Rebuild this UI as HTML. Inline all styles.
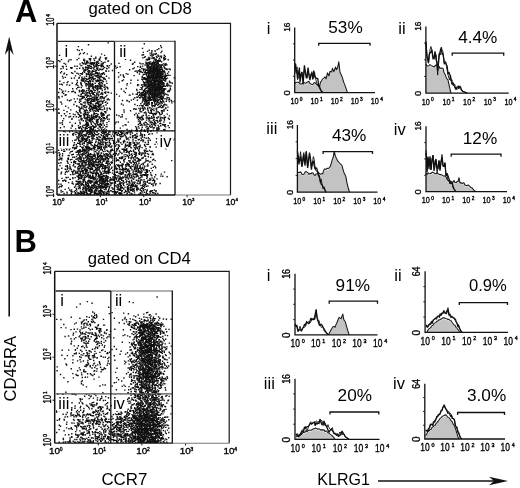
<!DOCTYPE html><html><head><meta charset="utf-8"><style>html,body{margin:0;padding:0;background:#fff;}svg{display:block;will-change:transform}body{overflow:hidden}</style></head><body><svg width="520" height="488" viewBox="0 0 520 488"><rect width="520" height="488" fill="#fff"/><text x="14.90" y="22.40" font-size="30.8" text-anchor="start" font-weight="bold" font-family="Liberation Sans, sans-serif">A</text><text x="14.40" y="251.60" font-size="31" text-anchor="start" font-weight="bold" font-family="Liberation Sans, sans-serif">B</text><text x="88.40" y="13.50" font-size="16.2" text-anchor="start" font-weight="normal" textLength="103.5" lengthAdjust="spacingAndGlyphs" font-family="Liberation Sans, sans-serif">gated on CD8</text><text x="87.80" y="264.30" font-size="16.2" text-anchor="start" font-weight="normal" textLength="103.0" lengthAdjust="spacingAndGlyphs" font-family="Liberation Sans, sans-serif">gated on CD4</text><text x="101.40" y="485.00" font-size="17" text-anchor="start" font-weight="normal" textLength="46.0" lengthAdjust="spacingAndGlyphs" font-family="Liberation Sans, sans-serif">CCR7</text><text x="317.30" y="485.00" font-size="16.2" text-anchor="start" font-weight="normal" textLength="52.5" lengthAdjust="spacingAndGlyphs" font-family="Liberation Sans, sans-serif">KLRG1</text><text transform="translate(16 401.5) rotate(-90)" font-size="16.8" textLength="65.5" lengthAdjust="spacingAndGlyphs" font-family="Liberation Sans, sans-serif">CD45RA</text><path d="M9.2 316.5V42" stroke="#111" stroke-width="1.6"/><path d="M9.2 36.5 L4.8 55 L9.2 49 L13.6 55Z" fill="#111"/><path d="M378 480.9H500" stroke="#111" stroke-width="1.5"/><path d="M508 480.9 L489 476.8 L494 480.9 L489 485.2Z" fill="#111"/><text x="52.21" y="204.80" font-size="9.00" textLength="9.66" lengthAdjust="spacingAndGlyphs" stroke="#000" stroke-width="0.35" font-family="Liberation Sans, sans-serif">10</text><text x="61.88" y="201.46" font-size="4.30" stroke="#000" stroke-width="0.35" font-family="Liberation Sans, sans-serif">0</text><g transform="translate(53.80 196.90) rotate(-90)"><text x="-0.60" y="0.00" font-size="10.50" textLength="8.31" lengthAdjust="spacingAndGlyphs" stroke="#000" stroke-width="0.35" font-family="Liberation Sans, sans-serif">10</text><text x="8.37" y="-4.19" font-size="4.60" stroke="#000" stroke-width="0.35" font-family="Liberation Sans, sans-serif">0</text></g><text x="95.58" y="204.80" font-size="9.00" textLength="9.66" lengthAdjust="spacingAndGlyphs" stroke="#000" stroke-width="0.35" font-family="Liberation Sans, sans-serif">10</text><text x="105.26" y="201.46" font-size="4.30" stroke="#000" stroke-width="0.35" font-family="Liberation Sans, sans-serif">1</text><g transform="translate(53.80 153.97) rotate(-90)"><text x="-0.60" y="0.00" font-size="10.50" textLength="8.31" lengthAdjust="spacingAndGlyphs" stroke="#000" stroke-width="0.35" font-family="Liberation Sans, sans-serif">10</text><text x="8.37" y="-4.19" font-size="4.60" stroke="#000" stroke-width="0.35" font-family="Liberation Sans, sans-serif">1</text></g><path d="M57.0 152.1h-2.2" stroke="#111" stroke-width="1"/><path d="M100.4 195.0v2.2" stroke="#111" stroke-width="1"/><text x="138.96" y="204.80" font-size="9.00" textLength="9.66" lengthAdjust="spacingAndGlyphs" stroke="#000" stroke-width="0.35" font-family="Liberation Sans, sans-serif">10</text><text x="148.63" y="201.46" font-size="4.30" stroke="#000" stroke-width="0.35" font-family="Liberation Sans, sans-serif">2</text><g transform="translate(53.80 111.05) rotate(-90)"><text x="-0.60" y="0.00" font-size="10.50" textLength="8.31" lengthAdjust="spacingAndGlyphs" stroke="#000" stroke-width="0.35" font-family="Liberation Sans, sans-serif">10</text><text x="8.37" y="-4.19" font-size="4.60" stroke="#000" stroke-width="0.35" font-family="Liberation Sans, sans-serif">2</text></g><path d="M57.0 109.2h-2.2" stroke="#111" stroke-width="1"/><path d="M143.8 195.0v2.2" stroke="#111" stroke-width="1"/><text x="182.33" y="204.80" font-size="9.00" textLength="9.66" lengthAdjust="spacingAndGlyphs" stroke="#000" stroke-width="0.35" font-family="Liberation Sans, sans-serif">10</text><text x="192.01" y="201.46" font-size="4.30" stroke="#000" stroke-width="0.35" font-family="Liberation Sans, sans-serif">3</text><g transform="translate(53.80 68.13) rotate(-90)"><text x="-0.60" y="0.00" font-size="10.50" textLength="8.31" lengthAdjust="spacingAndGlyphs" stroke="#000" stroke-width="0.35" font-family="Liberation Sans, sans-serif">10</text><text x="8.37" y="-4.19" font-size="4.60" stroke="#000" stroke-width="0.35" font-family="Liberation Sans, sans-serif">3</text></g><path d="M57.0 66.2h-2.2" stroke="#111" stroke-width="1"/><path d="M187.1 195.0v2.2" stroke="#111" stroke-width="1"/><text x="225.71" y="204.80" font-size="9.00" textLength="9.66" lengthAdjust="spacingAndGlyphs" stroke="#000" stroke-width="0.35" font-family="Liberation Sans, sans-serif">10</text><text x="235.38" y="201.46" font-size="4.30" stroke="#000" stroke-width="0.35" font-family="Liberation Sans, sans-serif">4</text><g transform="translate(53.80 25.20) rotate(-90)"><text x="-0.60" y="0.00" font-size="10.50" textLength="8.31" lengthAdjust="spacingAndGlyphs" stroke="#000" stroke-width="0.35" font-family="Liberation Sans, sans-serif">10</text><text x="8.37" y="-4.19" font-size="4.60" stroke="#000" stroke-width="0.35" font-family="Liberation Sans, sans-serif">4</text></g><path d="M107.5 42.9h1.4M143.6 43.7h1.4M87.8 44.7h1.4M160.0 45.8h1.4M77.7 46.6h1.4M160.8 47.5h1.4M141.8 48.4h1.4M158.1 48.8h1.4M76.7 49.7h1.4M81.3 49.8h1.4M156.5 49.6h1.4M78.5 50.5h1.4M148.5 50.3h1.4M151.2 50.8h1.4M154.3 50.9h1.4M146.8 51.4h1.4M151.2 51.6h1.4M154.6 51.0h1.4M161.1 51.2h1.4M83.7 52.6h1.4M142.6 52.4h1.4M160.3 52.6h1.4M79.7 53.4h1.4M82.8 53.6h1.4M86.6 53.9h1.4M118.8 53.4h1.4M149.4 53.1h1.4M151.0 53.1h1.4M155.2 53.9h1.4M155.6 53.5h1.4M60.9 54.9h1.4M78.8 54.5h1.4M100.9 54.1h1.4M141.5 55.0h1.4M142.8 54.8h1.4M151.3 54.4h1.4M153.2 54.0h1.4M154.7 54.4h1.4M58.8 55.4h1.4M103.9 55.4h1.4M149.7 55.1h1.4M150.6 55.9h1.4M152.5 55.4h1.4M157.3 55.2h1.4M163.6 55.3h1.4M90.7 56.3h1.4M144.5 56.6h1.4M151.8 56.0h1.4M155.7 56.5h1.4M158.1 56.3h1.4M159.9 56.1h1.4M160.8 56.3h1.4M164.5 56.5h1.4M61.5 57.8h1.4M66.4 57.3h1.4M95.1 57.1h1.4M99.7 57.3h1.4M104.7 58.0h1.4M105.9 58.0h1.4M142.2 57.8h1.4M144.0 57.4h1.4M148.1 57.4h1.4M152.6 57.7h1.4M153.4 57.8h1.4M156.4 57.3h1.4M160.7 57.5h1.4M163.2 57.5h1.4M163.7 57.4h1.4M78.1 58.4h1.4M88.6 58.8h1.4M90.0 58.6h1.4M93.3 58.8h1.4M95.1 58.2h1.4M99.1 58.6h1.4M148.2 58.7h1.4M149.2 58.1h1.4M151.3 58.3h1.4M153.0 58.1h1.4M153.9 59.0h1.4M158.8 58.2h1.4M163.0 58.4h1.4M164.8 58.6h1.4M60.8 59.6h1.4M68.4 59.9h1.4M70.3 59.8h1.4M76.4 59.8h1.4M83.1 59.3h1.4M89.2 59.2h1.4M89.6 59.5h1.4M98.5 59.3h1.4M105.1 59.2h1.4M124.8 59.4h1.4M145.6 59.9h1.4M146.5 59.3h1.4M147.6 59.2h1.4M148.8 59.5h1.4M153.5 59.1h1.4M155.1 59.9h1.4M155.5 59.3h1.4M158.1 60.0h1.4M163.2 60.0h1.4M164.1 59.4h1.4M164.5 59.2h1.4M167.5 59.8h1.4M58.0 60.6h1.4M83.2 60.3h1.4M84.0 60.3h1.4M89.8 60.3h1.4M93.8 60.5h1.4M99.1 60.2h1.4M129.8 60.3h1.4M147.0 60.1h1.4M154.7 60.4h1.4M155.5 60.8h1.4M157.0 60.8h1.4M159.6 60.2h1.4M59.2 61.5h1.4M67.7 61.5h1.4M83.8 62.0h1.4M86.1 61.1h1.4M86.9 61.3h1.4M95.8 62.0h1.4M97.4 61.3h1.4M100.7 61.6h1.4M107.0 61.1h1.4M107.8 61.0h1.4M150.0 61.9h1.4M153.0 61.2h1.4M155.3 61.3h1.4M156.7 61.8h1.4M157.9 61.2h1.4M159.3 61.2h1.4M160.9 61.8h1.4M81.6 62.7h1.4M85.7 62.5h1.4M86.7 62.7h1.4M87.6 62.9h1.4M89.5 62.1h1.4M91.1 62.7h1.4M91.8 62.7h1.4M93.1 62.9h1.4M94.0 62.7h1.4M96.8 62.3h1.4M102.5 62.6h1.4M104.3 62.3h1.4M134.0 62.2h1.4M145.3 62.3h1.4M147.4 62.8h1.4M148.8 62.3h1.4M152.0 62.7h1.4M152.7 62.4h1.4M153.8 62.5h1.4M155.1 62.9h1.4M155.3 62.3h1.4M157.1 62.6h1.4M157.5 62.9h1.4M63.4 63.4h1.4M82.5 63.7h1.4M83.4 63.8h1.4M85.3 63.6h1.4M85.9 63.3h1.4M89.3 63.8h1.4M90.5 63.0h1.4M91.8 64.0h1.4M92.6 63.8h1.4M93.9 63.6h1.4M95.9 63.4h1.4M98.0 63.2h1.4M100.6 63.9h1.4M102.5 63.2h1.4M118.3 63.4h1.4M132.5 63.5h1.4M139.1 63.1h1.4M140.3 63.9h1.4M142.3 63.8h1.4M145.4 63.3h1.4M146.4 63.2h1.4M148.5 63.5h1.4M149.4 63.6h1.4M150.7 63.5h1.4M151.9 63.2h1.4M152.3 63.9h1.4M153.7 63.5h1.4M155.7 63.7h1.4M157.0 63.9h1.4M157.6 63.3h1.4M162.7 63.9h1.4M165.3 63.7h1.4M64.9 64.3h1.4M79.3 64.0h1.4M85.0 64.2h1.4M90.7 64.3h1.4M95.1 65.0h1.4M95.9 64.2h1.4M96.7 64.2h1.4M101.4 64.0h1.4M110.5 64.0h1.4M131.8 64.3h1.4M146.2 64.5h1.4M146.8 64.4h1.4M148.7 64.1h1.4M149.5 64.1h1.4M150.9 64.8h1.4M151.6 64.4h1.4M152.5 64.0h1.4M153.8 64.1h1.4M155.2 64.7h1.4M156.0 64.2h1.4M156.9 64.1h1.4M158.4 64.8h1.4M159.3 64.7h1.4M161.2 64.8h1.4M161.3 64.6h1.4M164.2 64.2h1.4M166.2 64.9h1.4M80.3 65.6h1.4M81.0 65.6h1.4M86.9 65.4h1.4M87.7 65.6h1.4M88.7 65.8h1.4M92.9 65.3h1.4M93.4 65.8h1.4M95.7 65.1h1.4M96.9 65.9h1.4M97.6 65.8h1.4M99.2 65.4h1.4M100.6 65.4h1.4M102.0 65.0h1.4M106.4 65.8h1.4M108.8 65.6h1.4M144.4 65.0h1.4M146.3 65.3h1.4M146.8 65.6h1.4M148.1 65.3h1.4M150.8 65.1h1.4M151.4 65.3h1.4M152.9 65.7h1.4M153.8 65.2h1.4M155.0 65.1h1.4M155.8 65.6h1.4M157.3 65.8h1.4M157.5 65.8h1.4M160.1 65.8h1.4M161.4 65.2h1.4M163.2 65.9h1.4M164.7 65.2h1.4M61.7 66.4h1.4M62.4 66.4h1.4M65.6 66.4h1.4M74.1 66.2h1.4M76.5 66.3h1.4M85.1 66.9h1.4M89.3 66.2h1.4M90.6 66.4h1.4M94.2 66.9h1.4M95.6 66.3h1.4M100.5 66.7h1.4M101.5 66.1h1.4M102.7 66.5h1.4M107.0 66.3h1.4M114.8 66.0h1.4M119.4 66.8h1.4M137.1 66.6h1.4M139.8 66.4h1.4M141.9 66.1h1.4M146.2 66.0h1.4M147.0 66.9h1.4M148.4 66.7h1.4M149.4 66.9h1.4M150.3 66.5h1.4M151.4 66.9h1.4M152.7 66.3h1.4M153.6 66.4h1.4M154.9 66.9h1.4M156.1 66.2h1.4M156.9 66.6h1.4M158.3 66.1h1.4M160.0 66.8h1.4M160.5 66.2h1.4M163.4 67.0h1.4M70.0 67.8h1.4M71.4 67.7h1.4M82.2 67.7h1.4M84.8 67.7h1.4M86.3 67.4h1.4M87.5 67.2h1.4M89.0 67.9h1.4M91.2 67.6h1.4M93.6 67.1h1.4M96.0 67.9h1.4M103.9 67.6h1.4M108.1 67.6h1.4M116.6 67.4h1.4M133.6 67.9h1.4M139.6 67.3h1.4M146.4 67.7h1.4M149.5 67.6h1.4M150.9 67.1h1.4M151.6 68.0h1.4M153.0 67.3h1.4M153.9 67.3h1.4M155.3 67.9h1.4M156.1 67.1h1.4M156.4 67.9h1.4M157.8 67.0h1.4M159.2 67.8h1.4M159.7 67.0h1.4M160.3 67.5h1.4M164.0 67.7h1.4M60.3 68.8h1.4M62.5 68.0h1.4M70.8 68.4h1.4M76.3 68.6h1.4M79.0 68.2h1.4M82.5 69.0h1.4M86.7 68.9h1.4M87.6 68.0h1.4M89.4 68.4h1.4M90.7 68.6h1.4M92.8 68.1h1.4M96.1 68.2h1.4M97.1 68.0h1.4M102.5 68.5h1.4M106.0 68.4h1.4M106.4 68.9h1.4M115.4 68.1h1.4M132.2 68.7h1.4M141.1 68.5h1.4M142.7 68.9h1.4M147.9 68.1h1.4M149.3 68.5h1.4M149.9 68.1h1.4M150.4 68.4h1.4M152.2 68.5h1.4M153.1 68.6h1.4M153.8 68.1h1.4M154.7 68.1h1.4M156.2 68.6h1.4M157.1 68.6h1.4M157.3 68.2h1.4M159.2 68.6h1.4M159.3 68.6h1.4M161.2 68.2h1.4M161.3 68.0h1.4M164.3 68.6h1.4M165.9 68.9h1.4M65.9 69.2h1.4M83.9 69.9h1.4M85.3 69.4h1.4M87.1 69.5h1.4M93.4 69.4h1.4M96.9 69.5h1.4M99.1 69.1h1.4M99.6 69.2h1.4M100.4 69.5h1.4M101.9 69.6h1.4M128.9 69.7h1.4M139.0 69.7h1.4M142.8 69.4h1.4M144.2 69.2h1.4M145.8 70.0h1.4M147.2 69.0h1.4M148.7 69.6h1.4M149.5 69.4h1.4M150.4 69.5h1.4M152.1 69.6h1.4M152.9 69.3h1.4M153.3 69.6h1.4M154.5 69.2h1.4M155.9 69.3h1.4M157.1 69.8h1.4M157.8 69.3h1.4M158.7 69.7h1.4M159.6 69.9h1.4M160.7 69.6h1.4M161.8 69.6h1.4M165.3 69.0h1.4M166.1 69.3h1.4M166.5 69.5h1.4M168.5 69.0h1.4M169.6 69.5h1.4M84.4 70.6h1.4M85.3 70.1h1.4M87.6 70.8h1.4M88.4 70.7h1.4M91.8 70.7h1.4M95.1 70.1h1.4M95.8 70.2h1.4M98.2 70.4h1.4M105.0 70.9h1.4M111.8 70.5h1.4M136.2 71.0h1.4M138.0 70.7h1.4M139.1 70.1h1.4M142.8 70.8h1.4M145.4 70.2h1.4M146.9 70.5h1.4M147.9 70.6h1.4M149.1 70.5h1.4M150.3 70.8h1.4M150.9 70.2h1.4M151.5 70.6h1.4M152.7 70.2h1.4M154.2 70.3h1.4M154.7 70.6h1.4M156.1 70.7h1.4M156.7 70.7h1.4M157.7 70.6h1.4M158.3 70.3h1.4M159.4 70.9h1.4M162.3 70.9h1.4M163.6 70.9h1.4M60.9 71.6h1.4M74.2 71.5h1.4M82.9 71.1h1.4M83.4 71.0h1.4M87.2 71.6h1.4M89.2 71.3h1.4M91.3 71.7h1.4M92.0 71.2h1.4M92.7 71.3h1.4M93.5 71.4h1.4M95.1 71.4h1.4M105.7 71.3h1.4M108.1 71.1h1.4M134.5 71.3h1.4M138.8 71.8h1.4M139.4 71.7h1.4M140.4 71.5h1.4M144.7 71.0h1.4M147.1 71.1h1.4M147.8 71.2h1.4M149.2 71.9h1.4M150.0 71.6h1.4M150.9 71.4h1.4M151.6 71.1h1.4M152.6 71.8h1.4M153.7 71.0h1.4M153.3 72.0h1.4M154.8 71.9h1.4M155.4 71.4h1.4M157.0 71.3h1.4M157.8 71.4h1.4M158.5 71.7h1.4M160.3 71.6h1.4M161.3 71.4h1.4M162.1 71.0h1.4M162.6 71.6h1.4M168.0 71.9h1.4M59.9 72.8h1.4M70.9 72.7h1.4M82.0 72.7h1.4M84.0 72.2h1.4M87.7 72.7h1.4M88.3 72.4h1.4M91.4 72.8h1.4M95.1 72.0h1.4M95.6 73.0h1.4M96.5 72.7h1.4M98.4 72.9h1.4M103.0 72.6h1.4M117.9 72.6h1.4M136.6 72.5h1.4M140.8 72.1h1.4M141.9 72.6h1.4M143.9 72.5h1.4M144.5 72.2h1.4M145.7 72.6h1.4M146.6 72.6h1.4M148.0 72.2h1.4M149.0 72.8h1.4M150.3 72.8h1.4M150.9 72.1h1.4M152.0 72.4h1.4M152.8 72.3h1.4M153.4 72.9h1.4M155.3 72.4h1.4M156.3 72.1h1.4M156.3 72.9h1.4M157.4 72.1h1.4M158.1 72.9h1.4M158.8 72.1h1.4M160.1 72.6h1.4M160.4 72.1h1.4M161.6 73.0h1.4M163.1 72.1h1.4M164.2 72.2h1.4M63.8 73.1h1.4M72.1 73.4h1.4M76.2 73.2h1.4M77.8 74.0h1.4M79.8 73.6h1.4M80.5 73.6h1.4M81.3 73.7h1.4M85.6 73.6h1.4M89.5 73.1h1.4M90.9 73.1h1.4M94.3 73.6h1.4M94.7 73.4h1.4M95.4 73.2h1.4M96.7 73.5h1.4M98.2 73.9h1.4M101.1 73.8h1.4M102.0 73.4h1.4M102.7 73.1h1.4M125.5 73.6h1.4M145.5 73.2h1.4M147.2 73.2h1.4M148.2 73.7h1.4M149.2 73.9h1.4M149.3 73.3h1.4M150.1 73.3h1.4M151.1 74.0h1.4M152.0 74.0h1.4M152.4 73.2h1.4M153.6 73.1h1.4M154.0 73.8h1.4M154.8 74.0h1.4M156.1 73.0h1.4M157.0 73.3h1.4M157.4 73.1h1.4M158.4 73.2h1.4M159.9 73.7h1.4M159.5 73.6h1.4M160.4 73.1h1.4M161.7 73.3h1.4M162.4 73.6h1.4M166.9 73.4h1.4M63.2 74.1h1.4M66.1 74.7h1.4M81.5 74.4h1.4M85.9 74.3h1.4M87.0 74.1h1.4M87.6 74.3h1.4M88.5 74.6h1.4M89.5 74.3h1.4M91.1 74.7h1.4M92.5 74.3h1.4M97.3 74.3h1.4M99.7 74.1h1.4M101.6 74.2h1.4M103.7 74.2h1.4M122.5 75.0h1.4M127.2 74.3h1.4M138.7 74.0h1.4M142.6 74.8h1.4M143.4 74.4h1.4M144.4 74.4h1.4M146.0 74.4h1.4M148.1 74.1h1.4M148.5 74.8h1.4M150.2 75.0h1.4M151.0 74.6h1.4M152.1 74.8h1.4M152.9 74.7h1.4M154.2 74.8h1.4M154.7 74.8h1.4M156.0 74.5h1.4M157.2 74.2h1.4M157.8 74.8h1.4M159.2 75.0h1.4M159.4 74.4h1.4M161.2 74.4h1.4M161.8 74.3h1.4M164.5 74.0h1.4M74.8 75.9h1.4M79.4 75.6h1.4M85.7 76.0h1.4M89.4 75.3h1.4M90.9 75.7h1.4M93.5 75.1h1.4M95.2 75.5h1.4M96.7 75.8h1.4M98.0 75.6h1.4M99.7 76.0h1.4M100.6 76.0h1.4M119.8 75.0h1.4M133.4 75.6h1.4M145.9 75.9h1.4M146.3 75.4h1.4M148.0 75.5h1.4M148.5 75.7h1.4M150.2 75.4h1.4M150.6 75.3h1.4M152.1 75.6h1.4M152.6 75.4h1.4M154.3 75.9h1.4M155.1 75.5h1.4M156.1 75.2h1.4M156.0 75.8h1.4M157.2 75.8h1.4M158.0 75.6h1.4M158.5 75.8h1.4M160.0 75.5h1.4M160.7 75.2h1.4M162.2 75.0h1.4M164.0 75.9h1.4M164.9 75.4h1.4M166.1 75.5h1.4M167.5 75.2h1.4M169.3 75.4h1.4M61.8 76.4h1.4M85.9 76.4h1.4M88.7 76.3h1.4M92.3 76.8h1.4M94.7 76.1h1.4M95.8 76.5h1.4M98.5 76.7h1.4M105.8 76.3h1.4M122.8 76.3h1.4M141.5 76.4h1.4M146.9 76.4h1.4M148.1 76.2h1.4M148.7 76.7h1.4M149.8 76.6h1.4M150.8 76.4h1.4M151.4 76.5h1.4M152.5 76.3h1.4M153.9 76.9h1.4M155.1 76.4h1.4M155.5 76.8h1.4M156.4 76.9h1.4M157.9 76.3h1.4M158.8 76.5h1.4M160.1 76.7h1.4M160.8 76.6h1.4M161.8 76.7h1.4M163.3 76.3h1.4M163.8 77.0h1.4M164.6 76.6h1.4M165.6 76.1h1.4M62.5 78.0h1.4M64.6 77.4h1.4M78.6 77.4h1.4M81.2 77.3h1.4M83.7 77.1h1.4M88.8 77.7h1.4M90.2 77.5h1.4M91.7 77.7h1.4M97.0 77.5h1.4M98.2 77.8h1.4M100.1 77.0h1.4M101.8 77.4h1.4M117.9 77.0h1.4M123.4 77.2h1.4M141.6 77.3h1.4M143.1 77.6h1.4M144.0 77.9h1.4M144.3 77.6h1.4M146.8 77.4h1.4M148.2 77.6h1.4M149.2 77.8h1.4M149.6 78.0h1.4M150.8 77.4h1.4M152.2 77.5h1.4M153.2 77.5h1.4M154.2 77.6h1.4M154.8 77.3h1.4M155.4 77.4h1.4M156.0 77.1h1.4M156.6 77.3h1.4M158.0 77.3h1.4M158.4 77.9h1.4M159.9 77.4h1.4M160.8 77.6h1.4M161.9 77.6h1.4M164.2 77.9h1.4M164.7 78.0h1.4M173.6 77.8h1.4M70.8 78.2h1.4M73.7 78.0h1.4M78.2 78.3h1.4M81.5 78.7h1.4M82.7 78.9h1.4M83.5 78.7h1.4M85.1 78.4h1.4M87.8 78.4h1.4M89.2 78.3h1.4M91.3 79.0h1.4M93.0 78.5h1.4M94.5 78.8h1.4M98.8 78.3h1.4M102.7 78.1h1.4M103.5 78.0h1.4M108.3 78.1h1.4M143.0 78.9h1.4M144.0 78.7h1.4M145.1 78.5h1.4M145.8 78.8h1.4M146.8 78.8h1.4M148.2 78.4h1.4M148.9 78.3h1.4M150.2 79.0h1.4M151.0 78.9h1.4M152.1 78.0h1.4M153.2 78.6h1.4M153.8 78.6h1.4M154.4 78.4h1.4M155.5 78.2h1.4M156.7 78.3h1.4M158.2 79.0h1.4M158.4 78.9h1.4M159.7 78.0h1.4M161.2 78.2h1.4M161.3 78.3h1.4M163.1 78.8h1.4M164.5 78.4h1.4M165.5 78.8h1.4M166.8 78.1h1.4M81.0 79.5h1.4M83.2 80.0h1.4M85.6 79.3h1.4M86.7 79.4h1.4M87.4 79.1h1.4M90.7 79.4h1.4M93.0 79.9h1.4M99.4 79.5h1.4M103.1 79.0h1.4M104.6 79.2h1.4M122.8 79.9h1.4M141.0 79.1h1.4M142.2 79.2h1.4M144.1 79.4h1.4M145.0 79.7h1.4M146.0 79.2h1.4M147.1 79.2h1.4M147.4 79.6h1.4M149.3 79.4h1.4M149.6 79.1h1.4M150.5 79.1h1.4M151.6 79.3h1.4M152.9 79.1h1.4M153.6 79.7h1.4M154.4 79.9h1.4M155.7 79.6h1.4M156.3 79.5h1.4M158.3 79.5h1.4M158.3 79.7h1.4M159.3 79.1h1.4M160.6 79.9h1.4M162.2 79.0h1.4M162.5 79.2h1.4M163.3 80.0h1.4M165.0 79.4h1.4M76.5 80.5h1.4M80.7 80.2h1.4M81.8 80.7h1.4M82.5 80.5h1.4M85.0 80.6h1.4M88.8 80.3h1.4M89.4 80.7h1.4M91.5 81.0h1.4M95.2 80.7h1.4M96.7 80.0h1.4M98.1 80.1h1.4M98.6 81.0h1.4M99.7 80.5h1.4M100.9 80.1h1.4M101.6 81.0h1.4M121.6 80.8h1.4M130.3 80.2h1.4M137.2 80.3h1.4M141.9 80.1h1.4M146.3 80.8h1.4M146.7 80.0h1.4M147.4 80.0h1.4M148.7 80.2h1.4M148.5 80.4h1.4M149.6 80.9h1.4M150.5 80.7h1.4M151.8 80.3h1.4M153.1 80.8h1.4M153.4 80.8h1.4M155.0 80.8h1.4M155.5 80.1h1.4M157.0 80.2h1.4M157.7 80.6h1.4M159.1 80.1h1.4M159.4 80.8h1.4M161.0 80.6h1.4M161.7 80.9h1.4M163.2 80.4h1.4M164.1 80.8h1.4M165.0 81.0h1.4M59.1 81.2h1.4M67.3 81.6h1.4M81.6 81.1h1.4M83.2 81.4h1.4M85.3 81.0h1.4M86.6 81.5h1.4M88.0 81.6h1.4M89.6 81.3h1.4M91.4 81.1h1.4M92.4 81.6h1.4M95.9 81.5h1.4M97.1 81.3h1.4M97.3 81.2h1.4M102.7 81.5h1.4M105.7 81.1h1.4M142.8 81.7h1.4M146.2 82.0h1.4M147.1 81.2h1.4M147.5 81.5h1.4M149.2 81.8h1.4M148.3 82.0h1.4M150.1 81.9h1.4M151.2 81.9h1.4M151.3 81.9h1.4M153.0 81.4h1.4M154.2 81.5h1.4M154.4 81.2h1.4M156.2 81.3h1.4M157.2 81.2h1.4M157.4 81.1h1.4M158.5 81.8h1.4M160.0 81.7h1.4M160.4 81.7h1.4M160.4 81.3h1.4M161.5 81.2h1.4M168.8 81.2h1.4M63.2 82.6h1.4M66.5 82.6h1.4M76.7 82.4h1.4M80.2 82.5h1.4M84.1 82.5h1.4M88.0 83.0h1.4M89.6 82.0h1.4M98.8 82.6h1.4M99.9 82.9h1.4M101.0 82.7h1.4M118.4 82.1h1.4M143.3 82.9h1.4M144.3 82.6h1.4M144.8 82.3h1.4M146.4 82.9h1.4M147.5 82.7h1.4M148.7 82.1h1.4M149.4 82.9h1.4M151.1 82.2h1.4M152.1 82.9h1.4M153.3 82.5h1.4M154.3 82.1h1.4M154.3 82.2h1.4M155.7 82.0h1.4M156.6 82.1h1.4M157.9 82.0h1.4M159.2 82.2h1.4M159.4 82.5h1.4M160.5 82.5h1.4M160.3 82.3h1.4M161.6 82.7h1.4M162.9 82.6h1.4M169.1 82.5h1.4M170.0 82.5h1.4M71.5 83.2h1.4M76.0 83.7h1.4M80.1 83.9h1.4M80.7 84.0h1.4M85.2 83.8h1.4M86.2 83.8h1.4M88.5 83.8h1.4M89.6 83.8h1.4M91.7 83.7h1.4M94.5 83.2h1.4M98.0 83.6h1.4M101.8 83.7h1.4M106.2 83.4h1.4M126.5 83.6h1.4M129.9 83.1h1.4M144.1 83.6h1.4M146.4 83.5h1.4M148.1 83.9h1.4M149.2 84.0h1.4M149.7 83.4h1.4M151.2 83.4h1.4M152.3 83.5h1.4M152.3 83.8h1.4M153.9 83.1h1.4M154.6 83.5h1.4M155.6 83.9h1.4M157.1 83.8h1.4M157.8 83.3h1.4M158.2 83.1h1.4M159.2 83.3h1.4M159.4 83.4h1.4M161.2 83.8h1.4M162.8 83.3h1.4M163.5 84.0h1.4M166.3 83.7h1.4M166.9 83.2h1.4M171.6 83.3h1.4M59.2 84.3h1.4M61.1 84.2h1.4M61.7 84.9h1.4M66.2 84.8h1.4M75.4 84.8h1.4M80.7 84.8h1.4M85.2 84.6h1.4M86.9 84.7h1.4M90.1 84.3h1.4M91.7 84.9h1.4M92.5 84.5h1.4M98.8 84.3h1.4M99.8 85.0h1.4M103.8 85.0h1.4M137.0 84.7h1.4M137.9 84.9h1.4M141.4 84.8h1.4M143.2 84.4h1.4M144.1 84.3h1.4M144.3 84.3h1.4M145.8 84.6h1.4M146.3 84.9h1.4M148.0 84.9h1.4M148.5 84.2h1.4M150.3 84.2h1.4M150.7 84.3h1.4M151.8 84.1h1.4M153.1 84.2h1.4M153.7 85.0h1.4M155.0 84.2h1.4M156.2 84.0h1.4M157.1 84.6h1.4M157.9 84.5h1.4M158.7 84.6h1.4M160.2 84.3h1.4M160.8 84.1h1.4M162.2 84.4h1.4M167.9 85.0h1.4M68.8 85.2h1.4M77.1 85.4h1.4M81.5 85.9h1.4M85.5 85.9h1.4M88.2 85.3h1.4M89.1 85.9h1.4M90.3 85.2h1.4M90.8 85.6h1.4M94.7 85.7h1.4M96.7 85.5h1.4M97.8 85.9h1.4M99.1 85.9h1.4M100.4 85.5h1.4M104.1 85.2h1.4M126.2 85.1h1.4M136.9 85.6h1.4M140.9 85.2h1.4M143.5 85.7h1.4M145.2 85.3h1.4M147.3 85.9h1.4M147.7 85.5h1.4M148.9 85.7h1.4M150.1 85.4h1.4M150.9 85.1h1.4M152.0 85.7h1.4M152.7 85.1h1.4M154.1 85.2h1.4M154.7 85.7h1.4M155.4 85.3h1.4M157.3 85.8h1.4M158.1 85.0h1.4M158.7 85.6h1.4M159.1 85.8h1.4M159.6 85.8h1.4M161.1 86.0h1.4M162.4 85.0h1.4M163.6 86.0h1.4M165.7 85.5h1.4M166.4 85.2h1.4M169.3 86.0h1.4M85.5 86.1h1.4M88.2 86.2h1.4M89.1 86.3h1.4M89.5 86.7h1.4M91.2 86.2h1.4M91.8 86.3h1.4M92.4 86.5h1.4M95.3 86.6h1.4M95.7 86.3h1.4M96.8 86.5h1.4M98.3 86.9h1.4M100.0 86.9h1.4M100.5 86.8h1.4M101.8 86.0h1.4M104.5 86.9h1.4M142.0 86.8h1.4M143.8 86.0h1.4M145.5 86.6h1.4M146.9 86.8h1.4M148.3 86.7h1.4M148.8 86.2h1.4M149.2 87.0h1.4M149.5 86.6h1.4M151.1 86.9h1.4M151.1 86.7h1.4M151.4 86.4h1.4M152.5 86.5h1.4M153.5 86.2h1.4M154.6 86.1h1.4M155.4 86.3h1.4M156.0 86.1h1.4M156.4 86.7h1.4M157.4 86.2h1.4M158.4 86.8h1.4M159.7 86.4h1.4M160.8 86.7h1.4M162.1 86.6h1.4M162.7 86.2h1.4M164.7 86.4h1.4M167.0 86.1h1.4M170.3 86.1h1.4M77.0 87.4h1.4M78.2 87.2h1.4M80.6 87.5h1.4M88.1 87.8h1.4M92.2 87.8h1.4M92.8 87.2h1.4M93.9 87.1h1.4M94.9 87.6h1.4M96.6 87.1h1.4M99.8 87.7h1.4M103.4 87.2h1.4M106.2 87.3h1.4M106.9 87.7h1.4M140.4 87.6h1.4M147.0 87.9h1.4M147.4 87.0h1.4M149.2 87.9h1.4M149.4 87.9h1.4M150.7 87.4h1.4M151.4 87.4h1.4M152.9 87.3h1.4M152.5 87.6h1.4M153.9 87.6h1.4M155.3 87.5h1.4M155.6 87.9h1.4M155.7 87.9h1.4M156.7 87.2h1.4M158.0 87.6h1.4M158.6 87.6h1.4M160.2 87.8h1.4M159.9 87.2h1.4M161.1 87.8h1.4M161.7 87.2h1.4M59.0 88.8h1.4M72.0 88.7h1.4M76.0 88.8h1.4M86.4 88.5h1.4M88.0 88.5h1.4M88.5 88.7h1.4M91.7 88.1h1.4M92.6 88.3h1.4M94.8 88.1h1.4M97.2 88.3h1.4M97.4 88.6h1.4M99.0 88.5h1.4M99.9 88.7h1.4M101.2 88.9h1.4M104.7 88.9h1.4M107.1 88.8h1.4M120.7 89.0h1.4M125.5 88.5h1.4M141.2 88.2h1.4M144.8 88.8h1.4M145.4 88.2h1.4M146.3 88.1h1.4M148.1 88.8h1.4M148.6 88.9h1.4M149.7 88.7h1.4M151.3 88.6h1.4M151.5 88.5h1.4M153.1 88.1h1.4M154.1 88.1h1.4M154.7 88.4h1.4M155.8 88.1h1.4M157.0 88.0h1.4M158.1 88.9h1.4M158.8 88.8h1.4M158.7 88.5h1.4M159.8 88.4h1.4M160.7 88.1h1.4M161.5 88.6h1.4M163.0 88.6h1.4M163.6 88.8h1.4M165.1 88.9h1.4M169.6 88.3h1.4M60.8 89.9h1.4M81.9 89.6h1.4M88.7 89.1h1.4M92.7 89.0h1.4M96.0 89.0h1.4M97.2 89.2h1.4M104.1 89.5h1.4M136.0 89.4h1.4M139.4 89.6h1.4M141.2 89.3h1.4M141.4 89.5h1.4M144.0 89.5h1.4M147.6 89.6h1.4M148.8 89.2h1.4M149.4 89.6h1.4M150.6 89.2h1.4M150.4 89.8h1.4M151.7 89.2h1.4M153.3 89.0h1.4M153.7 89.5h1.4M154.8 89.5h1.4M156.1 89.1h1.4M156.8 89.3h1.4M157.7 89.4h1.4M158.8 89.8h1.4M160.1 89.4h1.4M162.9 89.9h1.4M164.2 89.3h1.4M169.9 89.6h1.4M78.6 90.4h1.4M80.6 90.7h1.4M81.8 90.6h1.4M83.1 90.8h1.4M83.4 90.1h1.4M85.9 90.6h1.4M87.8 90.5h1.4M89.6 90.5h1.4M90.9 90.4h1.4M93.2 90.0h1.4M94.6 90.4h1.4M96.8 90.8h1.4M101.6 90.5h1.4M136.3 90.6h1.4M142.9 90.7h1.4M143.8 90.1h1.4M145.5 90.7h1.4M147.3 90.6h1.4M148.4 90.8h1.4M150.0 90.0h1.4M151.2 91.0h1.4M152.1 90.1h1.4M152.7 90.0h1.4M153.2 90.2h1.4M154.0 90.7h1.4M155.1 90.2h1.4M156.0 90.6h1.4M155.5 90.4h1.4M156.9 90.3h1.4M158.3 90.7h1.4M158.4 90.8h1.4M160.1 90.9h1.4M160.9 90.0h1.4M161.4 90.1h1.4M162.4 90.5h1.4M163.5 90.8h1.4M167.7 90.9h1.4M168.7 90.2h1.4M62.3 91.2h1.4M64.8 91.1h1.4M67.8 91.6h1.4M71.2 91.8h1.4M72.6 91.2h1.4M78.8 91.8h1.4M80.8 91.2h1.4M83.4 91.4h1.4M85.1 92.0h1.4M88.8 91.6h1.4M90.4 91.4h1.4M91.6 91.5h1.4M98.5 91.7h1.4M105.1 91.9h1.4M123.3 91.2h1.4M143.6 91.5h1.4M144.6 91.9h1.4M146.8 91.1h1.4M148.2 91.3h1.4M149.1 91.5h1.4M150.0 91.2h1.4M150.4 91.2h1.4M151.7 91.1h1.4M152.9 91.9h1.4M154.1 91.9h1.4M155.2 91.1h1.4M155.4 91.2h1.4M156.4 91.6h1.4M158.2 91.9h1.4M159.2 91.2h1.4M161.1 91.2h1.4M161.4 91.6h1.4M162.7 91.0h1.4M167.1 91.5h1.4M168.7 91.5h1.4M58.0 92.5h1.4M61.6 92.5h1.4M74.2 92.3h1.4M74.7 92.8h1.4M82.0 92.3h1.4M86.9 92.7h1.4M88.5 92.8h1.4M91.3 92.1h1.4M92.5 92.7h1.4M94.1 92.3h1.4M97.1 92.9h1.4M98.7 92.1h1.4M100.8 92.9h1.4M103.8 92.4h1.4M107.2 92.3h1.4M107.9 92.5h1.4M124.6 92.6h1.4M137.0 92.7h1.4M138.6 92.3h1.4M140.5 92.7h1.4M141.9 92.4h1.4M142.7 92.3h1.4M146.0 92.8h1.4M146.8 92.0h1.4M148.2 92.1h1.4M148.9 92.5h1.4M149.7 92.3h1.4M151.2 92.1h1.4M151.7 92.2h1.4M153.0 92.3h1.4M153.5 92.2h1.4M155.2 92.5h1.4M155.8 92.1h1.4M156.8 92.1h1.4M158.3 92.1h1.4M158.5 92.5h1.4M159.9 92.6h1.4M160.6 92.6h1.4M162.0 93.0h1.4M163.0 92.8h1.4M163.3 92.5h1.4M63.0 93.5h1.4M80.8 93.9h1.4M81.7 93.3h1.4M83.3 93.2h1.4M86.1 93.2h1.4M88.8 93.2h1.4M89.6 93.8h1.4M91.3 93.2h1.4M91.9 93.1h1.4M92.6 93.7h1.4M95.9 94.0h1.4M96.4 93.0h1.4M101.7 93.2h1.4M104.8 93.2h1.4M110.6 93.1h1.4M140.3 93.8h1.4M140.8 93.7h1.4M142.2 94.0h1.4M142.6 94.0h1.4M144.0 93.8h1.4M144.8 93.3h1.4M147.0 93.0h1.4M147.8 93.9h1.4M150.0 93.4h1.4M150.7 93.7h1.4M151.4 93.6h1.4M152.6 93.4h1.4M153.8 93.6h1.4M154.7 93.5h1.4M155.6 94.0h1.4M157.2 93.3h1.4M157.1 93.5h1.4M157.7 93.0h1.4M158.5 93.7h1.4M160.0 93.0h1.4M160.5 93.4h1.4M162.4 94.0h1.4M65.4 94.7h1.4M80.3 94.5h1.4M84.7 94.1h1.4M86.2 94.9h1.4M92.2 94.5h1.4M93.5 94.6h1.4M96.4 94.6h1.4M98.1 94.5h1.4M100.2 94.2h1.4M102.0 94.3h1.4M115.9 94.4h1.4M132.1 94.0h1.4M135.5 94.4h1.4M136.5 94.3h1.4M139.0 94.2h1.4M141.1 94.9h1.4M142.3 94.9h1.4M142.8 94.0h1.4M143.4 94.3h1.4M144.4 94.1h1.4M145.4 94.1h1.4M147.4 94.9h1.4M148.5 94.0h1.4M149.7 94.6h1.4M151.2 94.9h1.4M151.8 94.7h1.4M152.8 94.0h1.4M153.6 94.1h1.4M154.9 94.4h1.4M156.2 94.5h1.4M156.5 94.9h1.4M157.3 94.7h1.4M159.2 94.5h1.4M159.6 94.6h1.4M160.3 94.5h1.4M164.1 94.0h1.4M164.7 94.0h1.4M166.1 94.5h1.4M64.5 95.2h1.4M77.8 95.5h1.4M84.6 95.3h1.4M85.4 95.0h1.4M87.6 95.4h1.4M89.6 95.5h1.4M94.2 95.9h1.4M95.1 95.9h1.4M97.9 95.8h1.4M106.2 95.4h1.4M128.6 95.1h1.4M129.4 95.1h1.4M139.0 95.3h1.4M140.4 96.0h1.4M141.3 95.6h1.4M142.4 95.2h1.4M143.7 95.3h1.4M145.1 95.4h1.4M148.6 95.6h1.4M151.0 95.8h1.4M151.4 96.0h1.4M153.2 95.5h1.4M153.8 95.3h1.4M155.2 95.6h1.4M155.7 95.8h1.4M157.3 95.8h1.4M157.3 95.5h1.4M158.6 95.1h1.4M160.9 95.8h1.4M163.4 95.5h1.4M167.5 95.1h1.4M58.1 96.8h1.4M61.4 96.5h1.4M79.5 96.4h1.4M80.4 96.3h1.4M81.9 96.5h1.4M83.0 96.4h1.4M86.6 96.2h1.4M88.4 96.5h1.4M90.1 96.0h1.4M90.6 96.1h1.4M95.9 96.1h1.4M100.4 96.8h1.4M101.6 96.5h1.4M105.1 96.7h1.4M118.7 96.1h1.4M137.8 96.0h1.4M140.3 97.0h1.4M143.7 96.5h1.4M145.0 96.8h1.4M145.4 96.3h1.4M148.3 96.9h1.4M149.3 96.5h1.4M151.3 96.6h1.4M152.6 96.5h1.4M153.7 96.3h1.4M155.1 96.6h1.4M155.9 96.2h1.4M156.5 96.6h1.4M157.4 96.8h1.4M159.3 96.3h1.4M160.3 96.2h1.4M161.8 96.5h1.4M81.6 97.7h1.4M82.7 97.4h1.4M83.6 97.3h1.4M85.9 97.3h1.4M92.2 97.2h1.4M93.0 97.1h1.4M94.4 97.5h1.4M96.0 97.8h1.4M96.9 97.4h1.4M99.9 97.0h1.4M101.7 97.4h1.4M103.5 97.5h1.4M134.1 97.8h1.4M136.2 97.2h1.4M136.7 97.3h1.4M138.8 97.8h1.4M139.8 97.9h1.4M141.9 97.2h1.4M143.2 97.9h1.4M144.3 97.3h1.4M145.4 97.9h1.4M147.3 97.0h1.4M147.4 98.0h1.4M149.7 98.0h1.4M150.7 97.6h1.4M152.1 97.1h1.4M153.2 97.0h1.4M153.7 97.6h1.4M154.8 97.1h1.4M157.1 97.1h1.4M158.0 97.4h1.4M159.4 97.1h1.4M160.5 97.2h1.4M162.1 97.8h1.4M162.6 97.3h1.4M166.5 97.5h1.4M168.2 97.8h1.4M58.4 98.1h1.4M73.6 98.9h1.4M76.7 98.9h1.4M82.1 98.2h1.4M84.5 99.0h1.4M87.1 98.7h1.4M88.1 98.8h1.4M89.2 98.4h1.4M90.2 98.8h1.4M90.8 98.2h1.4M93.3 98.9h1.4M94.2 98.5h1.4M96.3 98.3h1.4M99.4 98.0h1.4M100.5 98.9h1.4M102.5 98.4h1.4M103.5 98.5h1.4M107.4 98.7h1.4M142.2 98.9h1.4M142.7 98.1h1.4M144.7 98.2h1.4M147.2 98.1h1.4M147.6 98.1h1.4M148.4 98.0h1.4M149.6 98.6h1.4M152.2 98.4h1.4M153.7 98.2h1.4M154.8 99.0h1.4M155.7 98.3h1.4M156.9 99.0h1.4M159.2 98.1h1.4M159.6 98.2h1.4M160.5 98.5h1.4M161.8 99.0h1.4M162.4 98.2h1.4M164.3 98.8h1.4M166.3 98.2h1.4M66.8 100.0h1.4M79.3 99.1h1.4M80.8 99.0h1.4M85.7 100.0h1.4M89.2 99.0h1.4M89.8 99.0h1.4M91.3 99.3h1.4M92.2 99.2h1.4M93.6 99.8h1.4M95.3 99.1h1.4M95.4 99.9h1.4M96.5 99.4h1.4M97.9 99.4h1.4M106.5 99.8h1.4M108.4 99.8h1.4M132.8 99.3h1.4M143.0 99.4h1.4M144.4 99.1h1.4M145.4 99.4h1.4M147.4 99.1h1.4M148.9 99.3h1.4M149.6 99.9h1.4M150.5 99.8h1.4M151.9 99.9h1.4M152.6 99.3h1.4M153.3 99.4h1.4M158.4 99.6h1.4M160.8 99.4h1.4M166.0 99.9h1.4M168.1 99.9h1.4M168.9 99.3h1.4M68.8 100.8h1.4M70.3 100.0h1.4M79.0 100.1h1.4M85.6 100.1h1.4M87.0 100.0h1.4M88.3 100.4h1.4M90.6 100.8h1.4M92.8 100.7h1.4M96.2 100.6h1.4M100.4 100.9h1.4M103.5 100.4h1.4M121.8 100.5h1.4M126.2 100.5h1.4M126.9 100.9h1.4M130.6 100.1h1.4M136.7 100.2h1.4M142.1 100.3h1.4M144.4 100.4h1.4M145.8 100.0h1.4M147.1 100.6h1.4M148.2 100.1h1.4M148.6 100.8h1.4M149.3 100.3h1.4M150.4 100.4h1.4M152.9 100.5h1.4M154.1 100.2h1.4M154.5 100.4h1.4M155.5 100.2h1.4M156.7 100.6h1.4M157.6 100.2h1.4M159.6 100.1h1.4M162.0 100.4h1.4M170.6 100.4h1.4M74.7 101.8h1.4M80.1 101.3h1.4M84.4 101.9h1.4M86.7 101.4h1.4M90.0 101.8h1.4M90.5 101.5h1.4M92.0 101.3h1.4M93.2 101.2h1.4M94.2 101.0h1.4M97.1 101.3h1.4M98.2 101.1h1.4M99.2 101.5h1.4M101.3 101.6h1.4M102.4 101.3h1.4M105.2 101.9h1.4M128.6 101.8h1.4M141.6 102.0h1.4M143.3 101.1h1.4M143.9 101.9h1.4M144.5 101.0h1.4M145.8 101.2h1.4M147.0 101.1h1.4M153.3 101.1h1.4M154.7 101.4h1.4M156.4 101.4h1.4M159.7 101.7h1.4M160.7 101.8h1.4M162.4 101.2h1.4M165.6 101.4h1.4M168.7 101.5h1.4M171.1 101.4h1.4M173.5 101.5h1.4M59.8 102.1h1.4M60.5 102.1h1.4M78.7 102.2h1.4M82.9 102.6h1.4M86.7 102.7h1.4M88.0 102.2h1.4M89.1 102.8h1.4M90.0 102.2h1.4M95.5 103.0h1.4M96.6 102.6h1.4M98.2 102.7h1.4M102.1 102.9h1.4M104.6 102.4h1.4M144.4 102.1h1.4M145.9 102.6h1.4M147.1 103.0h1.4M148.1 102.5h1.4M148.4 102.5h1.4M151.0 102.7h1.4M151.7 102.6h1.4M154.0 102.3h1.4M156.3 102.8h1.4M157.6 102.3h1.4M159.3 102.8h1.4M161.2 102.5h1.4M163.2 102.0h1.4M171.2 102.9h1.4M79.9 104.0h1.4M84.4 103.1h1.4M87.7 103.9h1.4M90.2 103.8h1.4M90.9 103.5h1.4M96.2 103.5h1.4M97.7 103.4h1.4M101.7 103.2h1.4M106.7 103.3h1.4M140.2 103.7h1.4M143.8 103.7h1.4M145.2 103.1h1.4M147.0 103.8h1.4M148.2 103.5h1.4M151.7 103.4h1.4M154.1 103.7h1.4M158.3 103.9h1.4M159.3 103.6h1.4M161.4 103.3h1.4M61.1 104.0h1.4M73.2 104.5h1.4M81.1 104.2h1.4M81.3 104.7h1.4M87.6 104.3h1.4M88.4 104.9h1.4M89.9 104.1h1.4M92.4 104.4h1.4M94.8 104.0h1.4M97.8 104.4h1.4M98.4 104.6h1.4M99.9 104.3h1.4M100.5 104.7h1.4M105.3 105.0h1.4M120.8 104.0h1.4M134.2 104.5h1.4M143.3 104.3h1.4M145.8 104.4h1.4M146.3 104.5h1.4M148.5 104.3h1.4M151.2 104.2h1.4M155.8 104.2h1.4M157.8 104.4h1.4M163.3 104.8h1.4M164.0 104.2h1.4M165.2 104.9h1.4M76.1 105.6h1.4M82.9 105.8h1.4M84.4 105.2h1.4M89.9 105.7h1.4M92.7 105.9h1.4M93.7 105.7h1.4M95.1 105.6h1.4M98.2 105.5h1.4M98.7 105.9h1.4M99.3 105.5h1.4M103.0 105.9h1.4M122.6 105.1h1.4M136.8 105.6h1.4M139.2 105.6h1.4M141.1 105.7h1.4M142.4 105.8h1.4M145.0 105.3h1.4M146.2 105.6h1.4M147.3 105.8h1.4M151.2 105.2h1.4M152.1 105.7h1.4M152.8 105.7h1.4M154.1 105.9h1.4M154.5 105.0h1.4M157.1 105.4h1.4M160.5 105.2h1.4M163.1 106.0h1.4M165.9 105.1h1.4M65.0 106.3h1.4M76.1 106.2h1.4M81.1 106.9h1.4M83.4 106.8h1.4M86.1 106.5h1.4M89.0 106.1h1.4M89.6 106.6h1.4M91.0 106.1h1.4M94.6 107.0h1.4M96.3 106.3h1.4M97.1 106.4h1.4M97.7 106.3h1.4M98.7 106.5h1.4M99.3 106.9h1.4M102.6 106.1h1.4M142.2 106.9h1.4M151.5 106.9h1.4M154.1 106.5h1.4M159.1 106.5h1.4M159.6 106.8h1.4M161.8 106.1h1.4M162.6 106.0h1.4M67.7 107.9h1.4M78.1 107.0h1.4M78.9 107.8h1.4M81.1 107.2h1.4M83.5 107.3h1.4M85.2 107.3h1.4M85.3 107.8h1.4M89.0 107.9h1.4M91.0 107.4h1.4M92.4 107.8h1.4M93.3 107.2h1.4M94.4 107.6h1.4M95.7 107.6h1.4M97.6 107.4h1.4M101.0 107.1h1.4M144.0 107.4h1.4M147.2 107.9h1.4M149.0 107.7h1.4M149.4 107.9h1.4M156.5 107.9h1.4M158.0 107.3h1.4M160.7 107.6h1.4M162.1 107.5h1.4M165.2 108.0h1.4M167.2 107.1h1.4M79.8 108.7h1.4M81.1 108.3h1.4M88.1 108.4h1.4M91.2 108.5h1.4M91.3 108.2h1.4M92.9 108.8h1.4M94.3 108.6h1.4M94.8 108.4h1.4M96.2 109.0h1.4M99.3 108.1h1.4M103.7 108.0h1.4M106.4 108.3h1.4M108.8 108.3h1.4M133.7 108.6h1.4M138.2 108.4h1.4M140.1 108.3h1.4M142.0 108.3h1.4M142.7 109.0h1.4M144.4 108.8h1.4M150.7 108.9h1.4M153.2 108.9h1.4M155.4 108.9h1.4M164.8 108.5h1.4M58.0 109.2h1.4M70.0 109.9h1.4M79.1 109.8h1.4M82.6 109.1h1.4M85.7 109.9h1.4M88.9 110.0h1.4M90.1 109.3h1.4M91.8 109.7h1.4M95.7 109.6h1.4M96.9 109.0h1.4M98.1 109.5h1.4M98.9 109.0h1.4M99.7 109.3h1.4M100.4 109.5h1.4M102.0 109.9h1.4M103.8 109.1h1.4M106.4 110.0h1.4M109.6 109.2h1.4M123.2 110.0h1.4M133.0 109.1h1.4M134.9 109.2h1.4M135.7 109.1h1.4M139.5 109.4h1.4M142.8 109.7h1.4M146.9 109.0h1.4M151.8 109.5h1.4M155.6 109.3h1.4M163.3 109.6h1.4M63.2 110.4h1.4M78.7 110.3h1.4M83.9 110.2h1.4M84.8 110.6h1.4M85.8 110.6h1.4M86.5 110.7h1.4M89.0 110.1h1.4M89.3 110.4h1.4M93.9 110.6h1.4M96.9 110.8h1.4M97.4 110.3h1.4M129.9 110.7h1.4M139.1 110.7h1.4M139.3 110.7h1.4M142.4 110.2h1.4M147.4 110.5h1.4M150.0 110.2h1.4M150.7 110.7h1.4M153.3 110.6h1.4M155.9 110.1h1.4M160.8 110.7h1.4M161.8 110.6h1.4M166.8 110.4h1.4M66.3 111.7h1.4M75.7 111.7h1.4M79.0 111.6h1.4M79.5 111.1h1.4M83.5 111.9h1.4M84.5 111.6h1.4M89.9 111.1h1.4M92.6 111.1h1.4M94.9 111.4h1.4M95.3 111.2h1.4M97.7 111.4h1.4M103.9 111.8h1.4M105.2 111.7h1.4M140.2 111.7h1.4M141.0 111.9h1.4M150.5 111.1h1.4M155.6 111.9h1.4M157.2 111.8h1.4M163.3 111.0h1.4M77.1 112.8h1.4M79.8 112.9h1.4M84.7 112.8h1.4M86.5 112.7h1.4M88.5 112.1h1.4M93.4 112.7h1.4M100.9 112.5h1.4M105.0 112.9h1.4M123.4 112.0h1.4M143.6 112.7h1.4M144.9 112.1h1.4M147.9 112.2h1.4M150.7 112.5h1.4M157.6 112.1h1.4M158.7 112.7h1.4M161.4 112.0h1.4M58.0 113.0h1.4M58.5 113.3h1.4M63.8 113.8h1.4M69.0 113.6h1.4M80.4 113.0h1.4M83.9 113.7h1.4M87.6 113.1h1.4M93.2 113.7h1.4M94.5 113.7h1.4M96.0 113.6h1.4M100.2 113.2h1.4M101.3 114.0h1.4M101.5 113.4h1.4M102.8 113.6h1.4M135.4 113.4h1.4M138.1 113.4h1.4M145.4 113.3h1.4M149.2 113.2h1.4M149.9 113.3h1.4M150.9 113.2h1.4M152.1 113.8h1.4M153.7 113.5h1.4M154.6 113.5h1.4M155.8 113.4h1.4M158.9 113.6h1.4M161.6 113.3h1.4M72.7 114.1h1.4M74.4 114.7h1.4M77.6 114.3h1.4M82.7 114.2h1.4M85.0 114.3h1.4M86.3 114.7h1.4M87.4 114.8h1.4M93.2 114.2h1.4M97.2 114.5h1.4M97.5 114.6h1.4M100.3 114.9h1.4M103.1 114.8h1.4M103.4 114.9h1.4M115.9 115.0h1.4M121.5 114.7h1.4M133.9 114.8h1.4M136.8 114.9h1.4M145.5 114.7h1.4M153.3 114.5h1.4M155.0 114.6h1.4M159.3 114.8h1.4M160.8 114.4h1.4M166.6 114.1h1.4M60.7 115.8h1.4M65.1 115.8h1.4M78.7 115.0h1.4M79.5 115.8h1.4M80.4 115.8h1.4M83.3 115.3h1.4M84.1 115.8h1.4M86.7 115.0h1.4M88.9 115.7h1.4M91.0 115.0h1.4M95.2 115.6h1.4M95.5 115.6h1.4M96.5 115.9h1.4M101.9 115.3h1.4M103.3 115.4h1.4M107.0 115.5h1.4M108.5 115.0h1.4M118.3 115.8h1.4M136.9 115.8h1.4M142.7 115.5h1.4M145.5 115.5h1.4M148.3 115.6h1.4M152.6 115.2h1.4M163.5 115.9h1.4M168.8 115.9h1.4M68.3 117.0h1.4M69.8 116.5h1.4M72.8 116.8h1.4M75.7 116.8h1.4M79.0 116.0h1.4M80.1 116.9h1.4M83.7 116.5h1.4M87.0 116.1h1.4M90.8 116.5h1.4M92.6 116.0h1.4M93.9 116.4h1.4M94.5 116.7h1.4M95.6 116.5h1.4M96.7 116.0h1.4M98.4 116.6h1.4M100.9 116.3h1.4M106.2 116.5h1.4M121.5 116.7h1.4M136.7 116.4h1.4M141.3 116.3h1.4M150.9 116.7h1.4M153.2 116.7h1.4M77.9 117.4h1.4M83.3 117.5h1.4M85.5 117.7h1.4M86.6 117.3h1.4M87.7 117.5h1.4M88.8 117.5h1.4M91.1 117.9h1.4M92.2 117.5h1.4M92.8 117.5h1.4M94.0 117.1h1.4M95.0 117.4h1.4M96.0 117.5h1.4M98.5 117.4h1.4M99.6 117.6h1.4M102.3 117.3h1.4M103.6 117.6h1.4M105.9 117.9h1.4M106.4 117.1h1.4M120.0 117.1h1.4M136.6 117.7h1.4M137.3 117.2h1.4M138.6 117.5h1.4M140.0 117.4h1.4M141.3 117.5h1.4M146.3 117.0h1.4M148.4 117.8h1.4M152.4 117.9h1.4M153.5 117.8h1.4M155.9 117.6h1.4M157.2 117.1h1.4M158.0 117.0h1.4M159.9 117.1h1.4M161.2 117.7h1.4M163.8 117.7h1.4M164.8 117.2h1.4M63.0 118.6h1.4M71.3 118.8h1.4M80.4 118.5h1.4M81.5 119.0h1.4M84.2 118.5h1.4M85.6 119.0h1.4M86.4 118.8h1.4M89.3 119.0h1.4M89.7 118.3h1.4M90.9 118.3h1.4M91.9 118.8h1.4M92.6 118.6h1.4M98.6 118.1h1.4M101.0 118.6h1.4M102.9 118.4h1.4M104.4 118.7h1.4M125.4 118.9h1.4M138.6 118.6h1.4M139.9 119.0h1.4M141.9 118.3h1.4M145.6 118.0h1.4M147.2 118.4h1.4M148.5 118.4h1.4M149.8 118.1h1.4M151.2 118.4h1.4M156.5 118.6h1.4M159.6 118.6h1.4M162.6 118.1h1.4M163.7 118.7h1.4M167.7 118.3h1.4M71.2 119.2h1.4M80.3 119.0h1.4M87.1 119.4h1.4M88.8 119.7h1.4M89.9 119.7h1.4M91.0 119.7h1.4M91.5 119.6h1.4M94.1 119.0h1.4M96.2 119.8h1.4M96.7 119.7h1.4M97.7 119.4h1.4M99.9 119.4h1.4M106.9 119.3h1.4M108.7 119.1h1.4M137.8 119.4h1.4M141.3 119.9h1.4M142.7 119.3h1.4M147.8 119.0h1.4M153.0 120.0h1.4M153.5 119.8h1.4M168.6 119.3h1.4M62.0 120.7h1.4M78.4 120.1h1.4M80.7 120.0h1.4M82.6 120.7h1.4M84.9 120.9h1.4M87.3 120.5h1.4M95.7 121.0h1.4M97.0 120.2h1.4M100.2 121.0h1.4M100.5 120.3h1.4M102.2 120.2h1.4M103.4 120.5h1.4M139.0 120.9h1.4M141.3 120.1h1.4M145.9 120.1h1.4M148.8 120.0h1.4M152.6 120.4h1.4M155.3 120.6h1.4M156.6 120.7h1.4M159.0 120.4h1.4M159.5 120.1h1.4M160.8 120.1h1.4M163.8 120.1h1.4M85.0 121.1h1.4M85.5 121.0h1.4M88.8 121.3h1.4M90.1 121.2h1.4M91.8 121.4h1.4M97.2 121.5h1.4M100.1 121.9h1.4M102.3 121.8h1.4M108.2 121.4h1.4M117.6 122.0h1.4M137.7 121.1h1.4M139.5 121.7h1.4M148.3 121.1h1.4M150.2 121.5h1.4M153.8 121.7h1.4M158.7 121.1h1.4M159.8 121.9h1.4M163.2 122.0h1.4M59.4 123.0h1.4M61.4 122.8h1.4M69.3 122.4h1.4M79.2 122.2h1.4M85.8 122.0h1.4M87.0 122.7h1.4M90.3 122.8h1.4M92.7 122.5h1.4M95.9 122.4h1.4M97.2 122.6h1.4M102.4 122.0h1.4M106.2 122.6h1.4M115.4 122.3h1.4M127.6 122.1h1.4M144.7 122.3h1.4M145.6 122.6h1.4M149.5 122.8h1.4M151.2 122.3h1.4M151.8 122.6h1.4M153.9 122.7h1.4M154.6 122.9h1.4M157.2 122.3h1.4M169.1 123.0h1.4M74.7 123.3h1.4M79.5 123.7h1.4M86.1 123.4h1.4M86.4 123.2h1.4M87.4 123.2h1.4M94.1 123.8h1.4M96.3 123.4h1.4M99.2 123.9h1.4M99.8 123.8h1.4M102.4 123.6h1.4M114.3 123.7h1.4M138.9 123.2h1.4M139.8 123.2h1.4M143.2 123.5h1.4M143.4 123.2h1.4M146.6 123.9h1.4M152.8 124.0h1.4M154.2 123.8h1.4M155.3 123.6h1.4M159.2 123.6h1.4M160.1 123.6h1.4M61.8 124.5h1.4M84.8 124.3h1.4M85.9 124.0h1.4M86.4 124.3h1.4M87.5 124.0h1.4M90.7 124.2h1.4M94.8 124.1h1.4M96.9 124.6h1.4M98.3 124.8h1.4M100.7 124.5h1.4M106.2 124.6h1.4M124.5 124.7h1.4M137.6 124.5h1.4M140.9 124.5h1.4M143.6 125.0h1.4M145.2 125.0h1.4M147.2 124.4h1.4M147.4 124.4h1.4M151.0 124.3h1.4M153.2 124.2h1.4M153.4 124.3h1.4M161.9 124.4h1.4M163.4 124.7h1.4M164.6 124.7h1.4M71.4 125.3h1.4M77.8 125.7h1.4M82.5 125.4h1.4M84.1 125.4h1.4M85.9 125.4h1.4M86.9 125.3h1.4M88.0 125.3h1.4M92.0 125.7h1.4M95.2 125.5h1.4M97.4 125.1h1.4M99.6 125.1h1.4M100.9 125.2h1.4M103.6 125.3h1.4M122.3 125.9h1.4M125.4 125.1h1.4M139.5 125.2h1.4M141.4 125.3h1.4M149.3 125.3h1.4M151.6 126.0h1.4M153.9 125.0h1.4M154.8 125.7h1.4M157.4 125.4h1.4M160.0 125.8h1.4M162.3 125.1h1.4M167.5 125.8h1.4M63.5 126.8h1.4M71.6 126.4h1.4M79.7 126.6h1.4M81.8 126.5h1.4M85.4 126.4h1.4M86.7 126.4h1.4M90.5 126.5h1.4M92.4 126.3h1.4M93.6 126.6h1.4M95.4 126.6h1.4M98.6 126.7h1.4M99.6 126.6h1.4M105.2 126.9h1.4M106.3 126.6h1.4M135.0 126.6h1.4M137.7 126.6h1.4M146.4 126.4h1.4M148.8 126.5h1.4M151.4 126.9h1.4M158.2 126.6h1.4M164.0 126.1h1.4M164.8 126.9h1.4M59.8 127.8h1.4M78.0 127.8h1.4M79.4 127.8h1.4M82.6 127.6h1.4M84.4 127.7h1.4M85.6 127.9h1.4M87.9 127.4h1.4M89.0 127.2h1.4M89.4 127.7h1.4M90.4 127.0h1.4M92.9 127.4h1.4M93.8 127.5h1.4M94.6 127.1h1.4M99.7 127.7h1.4M102.3 127.3h1.4M135.8 127.9h1.4M141.5 127.3h1.4M145.2 127.1h1.4M147.6 128.0h1.4M150.1 127.3h1.4M152.6 128.0h1.4M153.6 127.8h1.4M156.4 127.8h1.4M168.6 127.6h1.4M70.4 128.1h1.4M74.9 128.9h1.4M78.6 128.2h1.4M80.9 128.5h1.4M85.0 128.9h1.4M86.0 128.4h1.4M86.6 128.5h1.4M89.6 128.6h1.4M90.8 128.5h1.4M92.6 128.7h1.4M97.3 128.4h1.4M101.1 128.1h1.4M104.0 128.9h1.4M119.6 128.1h1.4M136.0 128.3h1.4M138.4 128.1h1.4M146.7 128.4h1.4M156.2 128.7h1.4M157.9 128.0h1.4M158.7 128.9h1.4M81.1 129.9h1.4M84.5 129.3h1.4M89.0 130.0h1.4M89.4 129.5h1.4M90.9 129.2h1.4M92.3 130.0h1.4M100.8 129.7h1.4M102.8 129.6h1.4M105.7 130.0h1.4M126.4 129.5h1.4M135.9 129.2h1.4M141.1 129.3h1.4M143.8 130.0h1.4M146.4 129.3h1.4M147.9 129.1h1.4M157.7 129.0h1.4M162.9 129.7h1.4M164.2 129.4h1.4M79.9 131.0h1.4M82.1 130.4h1.4M84.6 130.1h1.4M86.8 130.8h1.4M89.2 130.7h1.4M90.0 130.5h1.4M92.1 130.7h1.4M92.8 130.1h1.4M94.6 130.2h1.4M98.4 130.0h1.4M103.2 130.9h1.4M128.7 130.9h1.4M130.9 130.2h1.4M134.9 130.6h1.4M135.8 130.4h1.4M136.7 130.3h1.4M140.2 130.7h1.4M140.6 130.1h1.4M147.6 130.9h1.4M150.7 130.6h1.4M152.7 130.2h1.4M156.0 130.3h1.4M156.4 130.6h1.4M157.6 130.0h1.4M164.1 130.2h1.4M63.1 131.6h1.4M68.9 131.4h1.4M71.6 131.1h1.4M81.7 131.6h1.4M83.2 131.4h1.4M85.5 131.6h1.4M87.6 131.5h1.4M88.6 131.9h1.4M89.7 131.4h1.4M90.8 131.7h1.4M94.1 131.1h1.4M96.1 131.9h1.4M96.3 131.2h1.4M102.0 131.3h1.4M103.0 131.4h1.4M104.6 131.4h1.4M105.7 132.0h1.4M108.6 131.3h1.4M109.5 131.9h1.4M113.0 132.0h1.4M117.9 131.1h1.4M119.1 131.2h1.4M120.9 131.2h1.4M123.0 131.2h1.4M128.5 131.1h1.4M130.1 131.7h1.4M130.7 131.7h1.4M136.4 131.5h1.4M139.2 131.1h1.4M140.6 131.0h1.4M143.3 131.4h1.4M144.6 131.2h1.4M146.9 131.1h1.4M150.2 131.3h1.4M64.7 132.2h1.4M69.0 132.7h1.4M74.6 132.1h1.4M75.9 132.2h1.4M78.8 132.0h1.4M79.7 132.1h1.4M81.9 132.3h1.4M86.5 132.4h1.4M88.2 132.5h1.4M90.2 132.4h1.4M90.8 132.6h1.4M91.7 132.9h1.4M93.4 132.2h1.4M96.6 132.1h1.4M100.9 132.3h1.4M102.2 132.9h1.4M103.0 132.7h1.4M104.1 132.4h1.4M104.9 132.9h1.4M108.1 132.2h1.4M112.3 132.0h1.4M114.8 132.5h1.4M115.9 132.3h1.4M117.8 132.9h1.4M120.0 132.2h1.4M121.4 132.5h1.4M126.0 132.6h1.4M127.1 132.3h1.4M127.4 132.0h1.4M129.4 132.8h1.4M131.7 133.0h1.4M147.1 132.2h1.4M156.5 132.9h1.4M72.1 133.9h1.4M73.1 133.5h1.4M77.2 133.0h1.4M78.4 133.6h1.4M79.4 133.5h1.4M81.0 133.1h1.4M86.2 133.8h1.4M86.7 133.2h1.4M89.3 133.3h1.4M91.1 133.2h1.4M93.9 133.2h1.4M98.1 133.6h1.4M101.7 133.3h1.4M103.5 133.5h1.4M107.4 133.6h1.4M114.5 133.5h1.4M117.6 133.2h1.4M120.9 133.8h1.4M122.0 133.8h1.4M122.9 133.1h1.4M124.5 133.1h1.4M126.2 133.7h1.4M126.8 133.3h1.4M136.2 133.8h1.4M140.0 133.0h1.4M149.0 133.9h1.4M151.5 133.8h1.4M58.4 134.2h1.4M62.4 134.6h1.4M63.7 134.3h1.4M72.0 134.7h1.4M75.1 134.5h1.4M77.9 134.9h1.4M78.8 134.7h1.4M80.6 134.6h1.4M81.3 134.1h1.4M83.1 134.8h1.4M83.4 134.8h1.4M85.3 134.8h1.4M85.5 134.1h1.4M87.9 134.8h1.4M88.6 134.3h1.4M90.1 134.2h1.4M91.9 134.3h1.4M92.5 134.7h1.4M94.5 134.5h1.4M95.9 134.8h1.4M96.7 134.9h1.4M97.3 134.4h1.4M100.4 134.6h1.4M103.4 134.4h1.4M105.2 134.8h1.4M106.0 134.3h1.4M108.0 134.6h1.4M109.2 134.4h1.4M111.9 134.1h1.4M115.8 134.1h1.4M116.5 134.8h1.4M118.9 134.4h1.4M119.5 134.6h1.4M120.6 134.9h1.4M124.0 134.8h1.4M129.8 134.5h1.4M134.4 134.8h1.4M140.1 134.1h1.4M141.2 134.5h1.4M141.5 134.8h1.4M143.7 134.6h1.4M147.9 134.4h1.4M58.0 135.4h1.4M62.2 135.0h1.4M72.7 135.1h1.4M78.3 135.9h1.4M80.5 135.5h1.4M81.8 135.8h1.4M84.2 135.2h1.4M85.7 135.9h1.4M91.2 135.7h1.4M92.2 135.3h1.4M92.9 135.6h1.4M100.8 135.5h1.4M102.6 135.8h1.4M106.9 135.1h1.4M116.6 135.2h1.4M118.3 135.4h1.4M122.5 136.0h1.4M124.6 135.6h1.4M131.9 135.8h1.4M132.4 135.7h1.4M134.1 135.4h1.4M134.6 135.9h1.4M139.6 135.6h1.4M141.2 135.2h1.4M143.9 135.2h1.4M67.3 137.0h1.4M76.3 136.6h1.4M79.9 136.3h1.4M82.4 136.7h1.4M84.3 136.1h1.4M87.2 136.6h1.4M88.2 136.7h1.4M90.5 136.3h1.4M92.2 136.9h1.4M93.6 136.0h1.4M98.2 136.5h1.4M98.6 136.9h1.4M102.5 136.4h1.4M104.1 136.6h1.4M104.4 136.1h1.4M105.9 136.1h1.4M106.8 136.2h1.4M110.6 136.1h1.4M112.9 136.0h1.4M119.6 136.4h1.4M121.0 136.8h1.4M121.4 136.4h1.4M125.3 136.8h1.4M131.9 136.1h1.4M135.9 136.2h1.4M136.8 136.2h1.4M141.5 136.2h1.4M58.6 137.9h1.4M78.2 137.3h1.4M78.5 137.5h1.4M81.2 137.6h1.4M87.2 137.8h1.4M88.6 137.0h1.4M92.3 137.3h1.4M96.0 137.4h1.4M96.8 138.0h1.4M99.2 137.1h1.4M99.9 137.6h1.4M102.5 137.2h1.4M103.4 137.3h1.4M104.8 138.0h1.4M107.2 137.9h1.4M125.7 137.9h1.4M129.3 137.1h1.4M129.9 137.5h1.4M132.0 137.3h1.4M134.3 137.6h1.4M135.7 137.0h1.4M141.6 137.0h1.4M143.6 137.5h1.4M147.6 137.8h1.4M76.4 138.0h1.4M77.8 138.5h1.4M80.6 138.5h1.4M82.2 138.2h1.4M82.6 138.2h1.4M83.8 138.4h1.4M85.5 138.4h1.4M86.8 138.2h1.4M90.9 138.1h1.4M91.6 138.8h1.4M92.7 138.8h1.4M93.3 138.7h1.4M97.0 138.9h1.4M102.0 138.7h1.4M103.7 138.4h1.4M104.9 138.6h1.4M105.6 138.8h1.4M106.4 138.7h1.4M107.8 138.8h1.4M109.0 138.1h1.4M110.1 138.6h1.4M111.5 138.2h1.4M117.2 138.9h1.4M119.7 138.3h1.4M126.5 138.7h1.4M127.6 138.1h1.4M134.6 138.0h1.4M136.0 138.0h1.4M140.5 138.3h1.4M145.5 138.3h1.4M148.4 138.6h1.4M155.9 138.8h1.4M64.5 139.4h1.4M75.5 139.8h1.4M77.8 139.9h1.4M81.2 139.6h1.4M82.0 139.5h1.4M83.6 139.4h1.4M84.9 139.7h1.4M86.3 139.6h1.4M86.3 139.2h1.4M88.6 139.8h1.4M95.5 139.5h1.4M97.5 139.5h1.4M98.4 139.5h1.4M101.2 139.9h1.4M101.4 139.1h1.4M103.4 139.4h1.4M108.9 139.9h1.4M117.3 139.3h1.4M119.5 139.0h1.4M125.9 139.4h1.4M128.2 139.9h1.4M132.3 139.2h1.4M137.7 139.7h1.4M138.5 139.5h1.4M141.3 139.7h1.4M173.3 139.1h1.4M58.2 140.2h1.4M58.3 140.5h1.4M71.4 140.8h1.4M74.2 140.3h1.4M79.1 140.6h1.4M79.3 140.4h1.4M81.3 140.0h1.4M82.0 140.9h1.4M82.4 140.3h1.4M84.5 140.9h1.4M85.8 140.2h1.4M86.4 140.6h1.4M89.1 140.6h1.4M91.4 140.4h1.4M98.1 140.4h1.4M99.3 140.3h1.4M99.5 140.1h1.4M101.8 140.3h1.4M104.9 140.0h1.4M105.9 140.4h1.4M111.6 140.1h1.4M113.1 140.8h1.4M117.1 140.6h1.4M118.3 140.9h1.4M123.5 140.5h1.4M132.3 141.0h1.4M135.2 140.8h1.4M140.1 140.6h1.4M142.8 140.2h1.4M147.4 140.5h1.4M149.6 140.3h1.4M172.1 140.4h1.4M62.8 141.9h1.4M67.0 141.0h1.4M78.1 141.0h1.4M79.1 141.1h1.4M80.2 141.7h1.4M80.9 141.5h1.4M83.9 141.7h1.4M84.7 141.2h1.4M85.6 141.2h1.4M88.5 141.2h1.4M90.2 142.0h1.4M95.4 141.4h1.4M99.7 141.7h1.4M102.7 142.0h1.4M108.7 141.1h1.4M117.6 141.5h1.4M122.7 141.4h1.4M124.2 141.5h1.4M142.3 141.5h1.4M61.9 142.9h1.4M63.9 142.1h1.4M73.7 142.7h1.4M79.2 142.8h1.4M86.3 142.9h1.4M87.0 142.8h1.4M88.2 142.3h1.4M88.9 142.2h1.4M90.8 142.4h1.4M91.5 142.4h1.4M95.0 142.4h1.4M97.6 142.2h1.4M101.2 142.7h1.4M101.4 142.0h1.4M104.4 142.2h1.4M105.5 142.6h1.4M107.2 142.5h1.4M109.0 142.6h1.4M113.0 142.2h1.4M115.9 142.3h1.4M118.1 142.1h1.4M120.1 142.7h1.4M122.9 142.8h1.4M126.7 142.2h1.4M128.7 142.4h1.4M130.1 142.8h1.4M133.9 142.8h1.4M136.3 142.8h1.4M138.5 142.8h1.4M144.5 142.5h1.4M147.7 142.2h1.4M155.7 142.0h1.4M59.5 143.3h1.4M63.5 143.1h1.4M68.8 143.9h1.4M76.9 143.3h1.4M77.7 143.4h1.4M79.0 143.7h1.4M82.2 143.1h1.4M83.1 143.1h1.4M83.6 143.3h1.4M87.6 143.9h1.4M88.8 143.4h1.4M89.8 143.4h1.4M90.3 144.0h1.4M98.1 143.4h1.4M98.6 143.3h1.4M99.7 143.4h1.4M102.2 144.0h1.4M104.8 143.4h1.4M109.8 143.8h1.4M112.9 143.6h1.4M114.5 143.5h1.4M128.6 143.7h1.4M129.4 143.6h1.4M132.5 143.0h1.4M137.1 143.8h1.4M157.0 143.9h1.4M159.4 143.3h1.4M160.3 143.3h1.4M58.4 144.3h1.4M69.9 144.8h1.4M73.4 144.7h1.4M75.6 144.8h1.4M79.5 144.4h1.4M81.7 144.3h1.4M86.4 144.6h1.4M90.5 144.8h1.4M94.1 144.3h1.4M97.1 144.2h1.4M97.3 144.1h1.4M99.2 144.5h1.4M99.3 144.1h1.4M100.8 144.8h1.4M102.3 144.0h1.4M102.5 144.7h1.4M105.1 144.5h1.4M105.7 144.1h1.4M109.5 144.1h1.4M116.2 144.6h1.4M117.9 145.0h1.4M121.3 144.4h1.4M125.1 144.1h1.4M128.5 144.8h1.4M130.1 144.6h1.4M133.9 144.1h1.4M135.3 144.6h1.4M136.9 144.1h1.4M143.9 144.7h1.4M146.3 144.4h1.4M147.7 144.2h1.4M154.3 144.4h1.4M63.8 145.8h1.4M68.5 145.2h1.4M72.8 145.8h1.4M83.3 145.5h1.4M91.7 145.5h1.4M93.6 145.6h1.4M94.8 145.4h1.4M95.9 145.6h1.4M96.8 145.7h1.4M107.2 145.1h1.4M108.8 145.2h1.4M111.1 146.0h1.4M118.2 145.3h1.4M124.7 145.2h1.4M126.9 145.2h1.4M128.7 145.8h1.4M129.3 145.9h1.4M133.0 145.9h1.4M134.1 145.3h1.4M135.6 145.9h1.4M139.4 145.2h1.4M144.0 145.5h1.4M59.6 146.2h1.4M67.5 146.5h1.4M75.7 147.0h1.4M76.4 146.5h1.4M79.6 146.3h1.4M84.8 146.8h1.4M86.3 146.1h1.4M86.4 146.6h1.4M87.4 146.1h1.4M93.1 146.8h1.4M93.6 146.1h1.4M96.6 146.3h1.4M98.3 146.8h1.4M98.4 146.5h1.4M99.4 146.2h1.4M100.9 146.6h1.4M104.4 146.0h1.4M105.4 146.3h1.4M108.1 146.3h1.4M109.3 146.9h1.4M115.0 146.0h1.4M118.8 146.4h1.4M124.5 146.5h1.4M126.1 146.0h1.4M128.0 146.5h1.4M128.9 146.3h1.4M137.7 146.6h1.4M139.1 146.4h1.4M144.9 146.5h1.4M149.4 146.6h1.4M67.2 147.9h1.4M70.3 147.2h1.4M71.7 147.8h1.4M72.9 147.9h1.4M74.6 147.9h1.4M81.1 147.3h1.4M81.6 147.6h1.4M82.6 147.4h1.4M85.2 147.3h1.4M86.4 147.7h1.4M87.9 147.2h1.4M89.0 147.4h1.4M92.6 147.6h1.4M93.5 147.0h1.4M94.7 147.3h1.4M97.4 147.0h1.4M99.1 147.7h1.4M100.5 147.9h1.4M102.9 147.1h1.4M103.3 147.1h1.4M104.9 147.6h1.4M106.3 147.1h1.4M110.4 147.2h1.4M117.7 147.3h1.4M124.5 147.2h1.4M130.1 147.5h1.4M130.7 147.9h1.4M133.6 147.6h1.4M135.0 147.1h1.4M136.3 147.8h1.4M139.3 147.0h1.4M141.3 147.6h1.4M149.4 147.2h1.4M155.5 147.1h1.4M60.2 148.1h1.4M65.2 148.4h1.4M69.3 148.5h1.4M73.9 148.0h1.4M74.8 148.4h1.4M75.6 148.3h1.4M82.1 148.8h1.4M84.3 148.9h1.4M86.0 148.2h1.4M87.5 148.2h1.4M88.7 148.2h1.4M90.2 148.5h1.4M91.5 148.9h1.4M93.0 148.2h1.4M93.4 148.3h1.4M97.0 148.2h1.4M97.5 148.7h1.4M98.9 148.2h1.4M100.6 148.3h1.4M103.2 148.1h1.4M116.0 149.0h1.4M117.7 148.3h1.4M123.5 148.9h1.4M126.2 148.8h1.4M134.6 148.7h1.4M136.7 148.5h1.4M138.6 148.4h1.4M145.4 148.7h1.4M165.3 148.9h1.4M63.2 149.5h1.4M66.0 149.5h1.4M68.6 149.9h1.4M73.9 149.0h1.4M79.3 149.7h1.4M81.9 149.2h1.4M83.1 149.8h1.4M85.7 149.9h1.4M86.3 149.0h1.4M88.0 149.9h1.4M88.8 149.2h1.4M89.6 149.5h1.4M91.0 149.7h1.4M94.1 149.3h1.4M99.7 149.8h1.4M101.2 149.6h1.4M103.9 149.3h1.4M110.8 150.0h1.4M111.5 149.1h1.4M117.1 149.3h1.4M121.5 149.3h1.4M122.6 149.3h1.4M123.8 149.2h1.4M124.7 149.4h1.4M125.8 149.9h1.4M134.8 149.4h1.4M138.3 149.8h1.4M58.0 150.4h1.4M61.0 150.3h1.4M77.5 150.8h1.4M78.6 150.3h1.4M79.8 150.4h1.4M82.1 150.7h1.4M84.2 150.3h1.4M84.4 151.0h1.4M87.3 150.1h1.4M88.2 150.9h1.4M93.3 150.1h1.4M96.3 150.3h1.4M101.7 150.2h1.4M106.4 150.5h1.4M109.9 150.3h1.4M111.1 150.3h1.4M112.2 150.4h1.4M116.1 150.7h1.4M118.8 151.0h1.4M123.2 150.7h1.4M124.5 150.2h1.4M125.8 150.2h1.4M129.7 150.7h1.4M132.8 150.3h1.4M138.0 150.7h1.4M143.6 150.3h1.4M144.8 150.6h1.4M148.9 150.5h1.4M63.0 151.4h1.4M64.0 151.3h1.4M70.3 151.6h1.4M71.7 151.2h1.4M76.8 151.0h1.4M78.2 151.3h1.4M79.1 151.3h1.4M80.6 151.2h1.4M81.7 151.4h1.4M83.6 151.3h1.4M85.2 151.0h1.4M87.3 151.0h1.4M93.6 151.9h1.4M95.0 151.5h1.4M98.3 151.2h1.4M102.6 151.6h1.4M104.4 151.3h1.4M107.0 151.3h1.4M110.2 151.4h1.4M123.4 152.0h1.4M126.2 151.7h1.4M126.7 151.1h1.4M128.6 151.7h1.4M130.7 151.4h1.4M132.8 151.6h1.4M143.9 151.2h1.4M145.9 151.3h1.4M147.0 151.4h1.4M150.2 151.6h1.4M151.4 151.4h1.4M58.4 152.8h1.4M69.2 152.9h1.4M75.3 152.3h1.4M76.3 152.2h1.4M77.9 152.2h1.4M79.4 152.2h1.4M83.5 152.4h1.4M85.7 152.3h1.4M86.6 152.1h1.4M87.8 153.0h1.4M96.3 152.9h1.4M98.2 152.9h1.4M100.8 152.9h1.4M108.3 152.0h1.4M109.8 152.1h1.4M115.1 152.1h1.4M119.5 152.3h1.4M125.6 152.4h1.4M127.7 152.3h1.4M134.1 152.2h1.4M134.9 152.5h1.4M135.5 152.7h1.4M138.8 152.2h1.4M142.3 152.9h1.4M144.3 152.6h1.4M61.9 153.7h1.4M78.0 153.2h1.4M82.2 153.3h1.4M83.7 153.9h1.4M85.1 153.2h1.4M85.4 153.2h1.4M87.6 153.3h1.4M90.0 153.7h1.4M93.8 154.0h1.4M96.5 153.6h1.4M97.9 153.2h1.4M100.5 153.3h1.4M102.9 153.9h1.4M105.2 153.7h1.4M106.0 153.9h1.4M106.5 154.0h1.4M109.1 153.6h1.4M114.9 153.8h1.4M115.6 153.7h1.4M118.1 153.8h1.4M121.0 153.5h1.4M121.3 153.2h1.4M128.6 153.5h1.4M131.1 153.9h1.4M135.7 153.3h1.4M138.2 153.6h1.4M138.9 153.8h1.4M139.4 153.0h1.4M141.1 153.2h1.4M143.2 153.6h1.4M144.9 153.2h1.4M146.9 153.6h1.4M152.1 153.5h1.4M59.4 154.1h1.4M71.1 154.8h1.4M71.6 154.6h1.4M72.6 154.2h1.4M76.5 154.7h1.4M78.2 154.7h1.4M78.4 154.7h1.4M80.2 154.2h1.4M81.2 154.2h1.4M82.1 155.0h1.4M82.7 154.2h1.4M83.3 154.2h1.4M86.5 155.0h1.4M87.5 154.8h1.4M88.9 154.4h1.4M89.6 154.8h1.4M91.3 154.7h1.4M92.9 155.0h1.4M94.0 154.9h1.4M96.8 154.2h1.4M97.5 154.5h1.4M99.9 154.9h1.4M103.7 154.8h1.4M105.6 154.5h1.4M106.3 154.3h1.4M108.0 154.4h1.4M110.0 154.5h1.4M112.6 154.2h1.4M123.5 154.9h1.4M125.2 154.6h1.4M130.7 154.5h1.4M133.6 154.3h1.4M134.8 154.3h1.4M135.8 155.0h1.4M138.6 154.4h1.4M141.2 154.5h1.4M147.8 154.5h1.4M151.5 154.5h1.4M152.7 154.6h1.4M58.7 155.3h1.4M61.8 155.8h1.4M67.5 155.6h1.4M68.4 155.5h1.4M78.9 155.6h1.4M81.5 155.3h1.4M84.7 155.5h1.4M86.6 155.9h1.4M87.8 155.5h1.4M93.7 155.6h1.4M94.9 155.1h1.4M97.0 155.1h1.4M98.9 155.4h1.4M101.2 155.7h1.4M101.3 155.6h1.4M103.2 155.6h1.4M103.4 155.7h1.4M105.3 155.9h1.4M106.9 155.2h1.4M110.5 155.9h1.4M114.6 155.5h1.4M117.1 155.0h1.4M127.0 155.5h1.4M128.9 155.3h1.4M131.6 155.7h1.4M135.0 155.6h1.4M140.6 155.3h1.4M144.1 155.2h1.4M75.8 156.6h1.4M79.1 156.5h1.4M80.0 156.8h1.4M81.7 156.9h1.4M85.5 156.7h1.4M88.3 156.7h1.4M88.9 156.1h1.4M89.8 156.9h1.4M90.4 156.7h1.4M91.7 156.8h1.4M92.8 156.1h1.4M93.5 156.3h1.4M94.5 156.8h1.4M97.0 156.2h1.4M98.1 156.7h1.4M99.3 156.2h1.4M99.8 156.2h1.4M100.6 156.9h1.4M101.8 156.8h1.4M104.7 156.7h1.4M107.0 156.0h1.4M107.7 156.0h1.4M108.8 156.6h1.4M109.3 156.3h1.4M111.1 156.7h1.4M111.7 156.2h1.4M122.1 156.7h1.4M124.4 156.8h1.4M126.1 156.1h1.4M127.8 156.7h1.4M133.9 156.8h1.4M134.8 156.9h1.4M144.2 156.3h1.4M144.8 156.2h1.4M147.6 156.7h1.4M59.3 157.0h1.4M72.1 157.2h1.4M73.8 157.3h1.4M77.6 158.0h1.4M79.9 157.0h1.4M80.4 157.7h1.4M84.6 157.7h1.4M86.3 157.0h1.4M86.9 157.5h1.4M88.0 157.1h1.4M89.8 157.1h1.4M91.6 157.6h1.4M95.1 157.9h1.4M96.9 157.7h1.4M98.1 157.7h1.4M100.0 157.9h1.4M101.7 157.1h1.4M106.0 157.4h1.4M106.7 157.6h1.4M109.4 157.5h1.4M111.1 157.9h1.4M118.8 157.7h1.4M120.6 157.2h1.4M121.8 158.0h1.4M128.0 158.0h1.4M130.2 157.9h1.4M130.9 157.1h1.4M132.4 157.7h1.4M142.6 157.5h1.4M150.0 157.4h1.4M60.0 158.8h1.4M61.2 158.3h1.4M67.0 158.9h1.4M67.7 158.0h1.4M76.9 158.7h1.4M78.5 158.0h1.4M79.5 158.6h1.4M82.8 158.3h1.4M88.0 158.9h1.4M88.5 158.8h1.4M90.6 158.4h1.4M92.3 158.4h1.4M93.6 158.8h1.4M99.2 158.8h1.4M101.0 158.9h1.4M101.9 158.1h1.4M102.4 159.0h1.4M104.5 158.4h1.4M105.5 158.1h1.4M106.9 158.6h1.4M107.9 158.7h1.4M111.8 158.1h1.4M115.5 158.3h1.4M119.0 158.2h1.4M120.5 158.6h1.4M121.6 158.3h1.4M124.5 158.8h1.4M130.5 158.8h1.4M133.2 159.0h1.4M135.4 158.1h1.4M136.8 158.0h1.4M137.4 158.7h1.4M141.1 158.2h1.4M141.9 158.3h1.4M145.2 159.0h1.4M58.3 159.8h1.4M58.9 159.2h1.4M61.1 159.9h1.4M67.6 159.4h1.4M69.7 159.8h1.4M71.2 159.4h1.4M75.3 159.3h1.4M75.5 159.1h1.4M79.2 159.5h1.4M79.4 159.6h1.4M80.6 159.2h1.4M83.1 159.0h1.4M86.0 159.3h1.4M86.8 159.0h1.4M89.3 159.1h1.4M91.2 159.8h1.4M92.0 159.5h1.4M95.6 159.3h1.4M96.5 159.3h1.4M97.6 159.8h1.4M99.4 159.9h1.4M101.7 159.4h1.4M102.8 159.1h1.4M103.8 159.0h1.4M105.1 159.7h1.4M115.7 159.9h1.4M117.3 159.7h1.4M123.4 159.6h1.4M134.6 159.9h1.4M138.0 159.0h1.4M139.2 159.8h1.4M140.1 159.9h1.4M151.9 160.0h1.4M153.0 159.2h1.4M66.5 161.0h1.4M73.6 160.9h1.4M77.6 160.2h1.4M80.4 160.9h1.4M81.5 160.8h1.4M82.8 160.6h1.4M84.4 160.7h1.4M85.9 160.8h1.4M87.7 161.0h1.4M88.6 160.3h1.4M89.7 160.3h1.4M91.3 160.4h1.4M92.2 160.5h1.4M95.0 160.3h1.4M100.1 160.2h1.4M102.8 160.0h1.4M107.3 160.1h1.4M112.0 160.1h1.4M116.4 160.4h1.4M118.0 160.5h1.4M123.0 160.2h1.4M128.1 160.7h1.4M129.5 160.9h1.4M132.2 160.9h1.4M134.4 160.4h1.4M137.7 160.5h1.4M139.3 160.3h1.4M145.1 161.0h1.4M146.4 160.8h1.4M147.8 160.9h1.4M154.4 160.6h1.4M171.0 160.6h1.4M66.9 161.9h1.4M73.0 161.9h1.4M73.6 161.4h1.4M75.1 161.6h1.4M78.3 161.5h1.4M79.6 161.8h1.4M80.5 161.5h1.4M82.1 161.1h1.4M82.8 161.4h1.4M83.9 161.9h1.4M86.1 161.1h1.4M87.6 161.6h1.4M89.4 161.8h1.4M91.9 161.8h1.4M92.4 161.8h1.4M94.2 161.8h1.4M95.2 161.9h1.4M95.4 161.3h1.4M97.8 161.7h1.4M98.6 161.3h1.4M99.7 161.0h1.4M102.2 161.2h1.4M103.5 161.0h1.4M105.8 161.5h1.4M106.9 161.1h1.4M108.1 161.4h1.4M110.9 161.9h1.4M115.5 161.1h1.4M123.4 161.4h1.4M132.3 161.3h1.4M132.5 161.1h1.4M136.6 161.3h1.4M138.2 161.3h1.4M149.9 161.6h1.4M60.2 162.8h1.4M70.7 162.4h1.4M73.1 162.7h1.4M73.9 162.1h1.4M74.4 162.3h1.4M81.5 162.6h1.4M82.8 162.0h1.4M84.0 162.9h1.4M85.0 162.7h1.4M85.8 162.7h1.4M88.2 162.2h1.4M89.0 162.7h1.4M90.6 162.2h1.4M93.2 162.2h1.4M94.4 162.1h1.4M96.3 162.4h1.4M96.4 162.5h1.4M98.0 162.8h1.4M99.7 162.4h1.4M101.5 162.8h1.4M106.0 162.1h1.4M106.3 162.2h1.4M110.3 162.4h1.4M111.6 162.3h1.4M119.7 162.2h1.4M123.4 162.1h1.4M126.3 163.0h1.4M129.3 162.2h1.4M130.6 162.9h1.4M132.6 162.3h1.4M134.0 162.4h1.4M135.5 162.3h1.4M144.2 162.4h1.4M148.9 162.1h1.4M58.1 163.2h1.4M67.3 163.3h1.4M74.9 163.4h1.4M78.5 163.8h1.4M80.7 164.0h1.4M82.0 163.7h1.4M84.1 163.1h1.4M88.0 163.4h1.4M90.3 163.2h1.4M91.4 163.7h1.4M92.7 163.8h1.4M94.0 163.1h1.4M101.2 163.8h1.4M105.3 163.4h1.4M105.4 163.1h1.4M106.5 163.3h1.4M107.7 163.1h1.4M108.7 163.5h1.4M111.1 163.2h1.4M121.3 163.9h1.4M127.0 163.5h1.4M127.4 163.7h1.4M130.4 163.1h1.4M133.7 163.7h1.4M135.8 163.7h1.4M138.2 163.3h1.4M142.2 163.7h1.4M142.9 163.1h1.4M69.1 164.9h1.4M73.0 164.8h1.4M76.7 164.0h1.4M77.6 164.0h1.4M78.5 164.9h1.4M82.0 164.6h1.4M85.2 164.5h1.4M85.6 164.9h1.4M87.2 164.7h1.4M88.1 164.2h1.4M88.9 164.8h1.4M90.2 164.8h1.4M91.1 164.8h1.4M94.8 164.8h1.4M95.6 164.4h1.4M97.1 164.4h1.4M98.1 164.7h1.4M99.1 164.0h1.4M99.9 164.7h1.4M101.2 164.9h1.4M102.6 164.7h1.4M107.3 164.6h1.4M109.6 164.8h1.4M116.2 164.6h1.4M118.0 165.0h1.4M122.5 164.3h1.4M124.9 164.7h1.4M126.4 164.3h1.4M127.5 164.0h1.4M128.5 164.4h1.4M132.7 164.7h1.4M134.9 164.9h1.4M137.2 164.9h1.4M140.6 164.4h1.4M142.7 164.8h1.4M147.1 164.2h1.4M151.5 164.3h1.4M59.3 165.6h1.4M66.6 165.7h1.4M72.5 165.8h1.4M79.1 165.7h1.4M80.2 165.9h1.4M80.3 165.7h1.4M82.0 165.3h1.4M82.4 165.6h1.4M84.2 165.2h1.4M84.5 165.9h1.4M88.4 165.5h1.4M91.4 165.7h1.4M92.4 165.1h1.4M93.6 165.2h1.4M96.1 165.5h1.4M96.4 165.9h1.4M97.3 165.5h1.4M100.6 165.5h1.4M102.8 165.8h1.4M104.4 165.6h1.4M106.6 165.9h1.4M114.4 165.8h1.4M116.9 165.6h1.4M117.6 165.8h1.4M118.9 165.8h1.4M119.9 165.5h1.4M120.9 165.4h1.4M121.8 165.3h1.4M125.2 165.8h1.4M127.3 165.4h1.4M127.6 165.9h1.4M128.5 165.7h1.4M136.9 165.6h1.4M139.5 165.7h1.4M147.3 165.7h1.4M65.1 166.2h1.4M69.2 166.8h1.4M74.5 166.8h1.4M77.7 166.5h1.4M79.5 166.9h1.4M80.9 166.0h1.4M82.6 166.4h1.4M83.8 166.9h1.4M87.5 166.9h1.4M89.0 166.3h1.4M89.6 166.9h1.4M91.5 166.9h1.4M92.8 166.4h1.4M93.7 166.8h1.4M98.9 166.7h1.4M99.7 166.2h1.4M100.8 166.2h1.4M101.9 166.6h1.4M104.1 166.2h1.4M104.3 166.1h1.4M105.4 166.1h1.4M108.3 166.3h1.4M114.8 166.7h1.4M118.1 166.1h1.4M121.4 166.6h1.4M125.6 166.2h1.4M129.2 166.9h1.4M129.6 166.8h1.4M130.9 166.1h1.4M132.3 166.6h1.4M134.4 166.1h1.4M136.4 166.0h1.4M139.2 166.7h1.4M139.3 166.3h1.4M144.1 166.2h1.4M146.5 166.1h1.4M154.2 166.2h1.4M66.7 167.2h1.4M69.7 168.0h1.4M74.3 167.0h1.4M77.1 167.9h1.4M79.5 167.2h1.4M83.3 167.0h1.4M86.6 167.8h1.4M90.9 167.8h1.4M94.9 167.4h1.4M97.1 167.2h1.4M98.2 167.5h1.4M98.7 167.8h1.4M99.3 167.0h1.4M102.0 167.0h1.4M104.1 167.8h1.4M104.5 167.1h1.4M105.6 167.7h1.4M106.8 167.6h1.4M108.4 167.2h1.4M111.2 167.2h1.4M115.5 167.9h1.4M118.6 167.5h1.4M121.6 167.0h1.4M124.8 168.0h1.4M130.3 167.9h1.4M134.1 167.5h1.4M135.0 167.3h1.4M136.6 167.3h1.4M139.5 167.4h1.4M141.9 167.3h1.4M143.8 167.9h1.4M152.6 167.4h1.4M154.9 167.7h1.4M61.1 168.2h1.4M67.2 168.3h1.4M69.2 168.7h1.4M77.2 168.6h1.4M77.9 168.6h1.4M79.2 168.7h1.4M81.1 168.2h1.4M82.2 168.0h1.4M83.6 168.9h1.4M84.9 168.1h1.4M87.9 168.3h1.4M88.7 168.9h1.4M89.5 168.8h1.4M90.6 168.1h1.4M91.7 168.7h1.4M94.9 169.0h1.4M96.0 168.1h1.4M96.5 168.2h1.4M101.3 168.9h1.4M101.7 168.5h1.4M103.0 168.4h1.4M103.6 168.5h1.4M104.6 168.3h1.4M108.1 168.7h1.4M110.8 168.4h1.4M115.0 168.9h1.4M116.5 168.6h1.4M122.1 168.4h1.4M122.9 168.7h1.4M124.8 168.8h1.4M126.0 168.8h1.4M130.0 168.3h1.4M134.0 168.7h1.4M134.6 168.9h1.4M136.1 168.6h1.4M137.6 168.7h1.4M138.6 168.2h1.4M139.9 168.1h1.4M140.8 168.5h1.4M142.0 168.6h1.4M150.5 168.4h1.4M58.0 169.5h1.4M64.6 169.2h1.4M66.5 169.2h1.4M70.6 169.5h1.4M77.2 169.0h1.4M81.2 169.7h1.4M83.9 169.7h1.4M85.1 169.5h1.4M85.4 169.6h1.4M86.4 169.8h1.4M89.6 169.0h1.4M90.5 169.4h1.4M91.9 169.4h1.4M94.7 169.8h1.4M95.4 169.4h1.4M97.3 169.4h1.4M98.4 169.2h1.4M104.5 169.5h1.4M107.6 169.0h1.4M109.3 169.4h1.4M115.9 169.2h1.4M118.7 169.3h1.4M120.0 169.1h1.4M121.3 169.7h1.4M122.0 169.3h1.4M122.8 169.2h1.4M124.2 169.5h1.4M125.3 169.5h1.4M125.9 169.5h1.4M127.1 170.0h1.4M128.0 169.1h1.4M131.3 169.4h1.4M131.3 169.7h1.4M133.7 169.3h1.4M140.2 169.9h1.4M143.0 169.4h1.4M145.2 169.7h1.4M145.6 170.0h1.4M146.4 169.8h1.4M67.9 171.0h1.4M73.2 170.3h1.4M78.2 170.2h1.4M82.4 170.7h1.4M84.0 170.1h1.4M85.3 170.3h1.4M86.8 170.4h1.4M89.5 170.1h1.4M92.7 170.9h1.4M93.7 170.6h1.4M95.5 170.9h1.4M96.5 170.2h1.4M98.2 170.0h1.4M99.1 170.9h1.4M104.0 170.5h1.4M107.8 170.5h1.4M108.5 170.7h1.4M112.0 170.5h1.4M122.5 170.8h1.4M127.7 171.0h1.4M129.0 170.9h1.4M132.9 170.9h1.4M135.7 170.1h1.4M137.5 170.2h1.4M138.4 170.9h1.4M141.3 171.0h1.4M143.2 170.1h1.4M146.8 170.9h1.4M148.6 170.8h1.4M151.7 170.6h1.4M65.7 171.2h1.4M66.7 171.9h1.4M71.2 171.4h1.4M72.5 171.6h1.4M74.5 171.2h1.4M76.4 171.3h1.4M78.1 171.5h1.4M79.7 171.5h1.4M80.6 171.2h1.4M81.6 171.3h1.4M82.5 171.1h1.4M84.8 171.4h1.4M86.2 171.3h1.4M89.4 171.6h1.4M93.2 171.8h1.4M96.2 171.5h1.4M96.3 171.9h1.4M99.4 171.8h1.4M102.1 171.1h1.4M103.7 171.7h1.4M105.5 171.6h1.4M106.4 171.3h1.4M107.4 172.0h1.4M116.5 171.5h1.4M119.4 171.2h1.4M124.5 171.5h1.4M126.5 171.1h1.4M128.5 171.6h1.4M134.6 171.2h1.4M135.9 171.2h1.4M137.9 171.0h1.4M139.4 171.6h1.4M145.9 171.4h1.4M60.8 172.3h1.4M64.8 172.4h1.4M71.9 172.6h1.4M74.9 172.7h1.4M76.0 172.9h1.4M76.8 172.8h1.4M79.8 172.7h1.4M82.5 172.1h1.4M85.4 172.5h1.4M87.1 172.9h1.4M87.6 172.4h1.4M89.5 172.3h1.4M90.4 172.4h1.4M91.4 172.4h1.4M93.2 172.5h1.4M94.9 173.0h1.4M96.4 172.6h1.4M100.2 172.9h1.4M100.6 172.8h1.4M104.4 172.0h1.4M106.7 172.8h1.4M108.2 172.3h1.4M109.4 172.4h1.4M115.4 172.4h1.4M116.8 172.3h1.4M119.5 172.9h1.4M120.8 172.8h1.4M122.2 172.3h1.4M122.5 172.7h1.4M125.7 172.5h1.4M128.8 173.0h1.4M132.3 172.2h1.4M137.2 172.4h1.4M137.5 172.3h1.4M138.8 172.9h1.4M139.4 172.3h1.4M140.9 172.2h1.4M144.4 172.4h1.4M145.3 172.7h1.4M146.7 172.2h1.4M149.9 172.8h1.4M163.8 172.1h1.4M60.4 173.8h1.4M72.1 174.0h1.4M76.3 173.3h1.4M79.5 173.9h1.4M82.0 173.1h1.4M82.4 173.2h1.4M84.0 173.9h1.4M84.5 173.0h1.4M85.5 173.4h1.4M90.6 173.1h1.4M92.0 173.6h1.4M93.3 173.3h1.4M95.0 173.2h1.4M95.9 173.9h1.4M97.1 173.6h1.4M97.8 173.5h1.4M100.5 173.2h1.4M102.7 173.4h1.4M104.3 173.4h1.4M106.0 173.3h1.4M107.9 173.5h1.4M111.7 173.1h1.4M118.3 173.5h1.4M119.4 173.7h1.4M122.1 173.3h1.4M122.3 173.9h1.4M128.3 173.6h1.4M130.1 173.9h1.4M132.9 173.9h1.4M135.3 173.2h1.4M140.3 173.4h1.4M145.4 173.2h1.4M64.5 174.3h1.4M69.9 174.6h1.4M72.4 174.6h1.4M74.1 174.1h1.4M77.9 174.0h1.4M78.8 174.2h1.4M80.3 174.9h1.4M86.6 174.6h1.4M87.7 174.2h1.4M94.9 174.9h1.4M95.5 174.6h1.4M98.0 174.9h1.4M100.0 174.9h1.4M100.3 174.5h1.4M101.3 174.6h1.4M113.2 174.3h1.4M114.8 174.8h1.4M120.3 174.2h1.4M120.8 174.3h1.4M124.5 174.6h1.4M127.4 174.5h1.4M128.6 174.8h1.4M132.2 174.6h1.4M132.4 174.2h1.4M134.0 174.3h1.4M135.3 174.8h1.4M136.4 174.3h1.4M142.6 174.8h1.4M144.0 174.6h1.4M145.2 174.3h1.4M146.3 174.9h1.4M147.2 174.8h1.4M150.3 174.8h1.4M155.0 174.7h1.4M160.6 174.1h1.4M77.8 175.7h1.4M79.2 175.5h1.4M79.4 175.6h1.4M81.5 175.2h1.4M83.0 175.3h1.4M85.0 175.4h1.4M87.1 175.4h1.4M87.3 175.1h1.4M88.8 175.8h1.4M89.6 175.1h1.4M92.0 175.3h1.4M95.7 175.5h1.4M97.9 175.3h1.4M98.6 175.3h1.4M102.6 175.4h1.4M104.2 175.8h1.4M105.8 175.5h1.4M115.4 175.6h1.4M117.4 175.7h1.4M124.5 175.5h1.4M126.4 175.3h1.4M129.0 175.1h1.4M130.8 175.7h1.4M136.2 175.9h1.4M137.0 175.6h1.4M139.8 175.3h1.4M140.4 175.4h1.4M141.4 175.0h1.4M143.6 175.3h1.4M145.0 175.4h1.4M145.8 175.4h1.4M146.5 175.7h1.4M151.1 175.6h1.4M76.3 176.1h1.4M80.3 176.2h1.4M80.8 176.1h1.4M81.5 176.4h1.4M83.7 176.9h1.4M85.6 176.8h1.4M86.9 176.1h1.4M87.4 176.9h1.4M88.8 176.9h1.4M89.3 176.4h1.4M90.6 177.0h1.4M91.9 176.4h1.4M92.4 176.2h1.4M94.6 176.9h1.4M97.4 176.6h1.4M98.7 176.5h1.4M99.8 176.5h1.4M100.9 176.7h1.4M102.2 176.3h1.4M103.7 176.6h1.4M106.1 176.1h1.4M107.4 176.6h1.4M112.4 176.7h1.4M114.2 176.4h1.4M117.3 176.7h1.4M117.3 176.1h1.4M119.3 176.3h1.4M122.1 176.9h1.4M124.1 176.9h1.4M126.5 176.3h1.4M128.7 176.2h1.4M131.1 176.7h1.4M133.0 176.2h1.4M135.6 176.8h1.4M137.5 176.5h1.4M141.3 176.5h1.4M146.2 176.3h1.4M154.0 177.0h1.4M160.1 176.1h1.4M162.1 176.3h1.4M166.4 176.8h1.4M65.3 177.4h1.4M65.8 177.7h1.4M67.5 177.4h1.4M72.1 177.7h1.4M74.5 177.6h1.4M77.2 177.1h1.4M77.5 177.0h1.4M78.5 177.5h1.4M79.3 177.6h1.4M81.0 177.7h1.4M81.4 177.3h1.4M83.9 177.6h1.4M84.4 177.5h1.4M88.2 177.8h1.4M89.6 177.7h1.4M91.2 177.4h1.4M91.6 178.0h1.4M92.6 177.4h1.4M95.2 177.1h1.4M98.5 177.9h1.4M99.7 177.7h1.4M100.4 177.5h1.4M101.8 177.5h1.4M105.2 177.5h1.4M105.8 177.3h1.4M107.1 177.0h1.4M109.6 177.7h1.4M114.6 177.8h1.4M116.1 178.0h1.4M119.2 177.6h1.4M120.2 177.8h1.4M122.7 177.8h1.4M125.3 177.6h1.4M125.6 177.4h1.4M127.1 177.8h1.4M129.3 177.8h1.4M130.5 177.9h1.4M134.0 177.5h1.4M139.6 177.4h1.4M141.0 177.1h1.4M146.6 177.1h1.4M151.4 178.0h1.4M61.3 178.4h1.4M72.2 178.6h1.4M78.1 178.4h1.4M78.9 178.5h1.4M79.5 178.6h1.4M80.9 178.5h1.4M83.3 178.1h1.4M90.0 178.6h1.4M91.2 178.4h1.4M92.2 178.9h1.4M92.8 178.5h1.4M93.9 178.0h1.4M94.5 178.7h1.4M97.1 178.9h1.4M99.9 179.0h1.4M100.9 178.4h1.4M102.2 178.3h1.4M103.4 178.7h1.4M105.0 178.2h1.4M106.6 178.9h1.4M107.4 178.2h1.4M112.3 178.0h1.4M112.4 178.9h1.4M115.2 178.6h1.4M116.0 178.5h1.4M118.3 178.8h1.4M118.8 178.5h1.4M120.2 178.7h1.4M120.9 178.5h1.4M121.8 178.1h1.4M132.2 178.3h1.4M138.0 178.4h1.4M139.3 178.1h1.4M146.0 178.4h1.4M149.2 178.5h1.4M156.4 178.9h1.4M64.0 180.0h1.4M69.2 179.4h1.4M69.6 179.4h1.4M77.7 179.6h1.4M82.4 179.6h1.4M83.7 179.1h1.4M93.2 179.1h1.4M93.6 179.1h1.4M95.0 179.1h1.4M96.3 179.1h1.4M99.0 179.5h1.4M99.8 179.4h1.4M100.8 179.5h1.4M102.1 179.5h1.4M102.8 179.7h1.4M105.1 179.8h1.4M106.5 179.7h1.4M109.4 179.6h1.4M110.5 179.0h1.4M111.7 179.9h1.4M115.6 179.5h1.4M118.1 179.6h1.4M119.1 179.1h1.4M120.6 179.3h1.4M125.1 179.3h1.4M127.7 179.0h1.4M132.9 179.2h1.4M140.5 179.6h1.4M143.4 179.8h1.4M150.0 179.7h1.4M153.0 179.3h1.4M58.0 180.5h1.4M62.0 180.7h1.4M62.8 180.8h1.4M65.1 180.7h1.4M83.1 180.3h1.4M84.0 180.0h1.4M87.1 180.9h1.4M88.0 180.2h1.4M88.5 180.5h1.4M89.9 180.8h1.4M90.7 180.9h1.4M93.3 180.0h1.4M96.1 180.7h1.4M98.0 180.9h1.4M99.0 180.1h1.4M100.2 180.7h1.4M101.8 180.9h1.4M103.7 180.5h1.4M105.3 180.6h1.4M109.1 180.9h1.4M110.5 180.0h1.4M112.7 180.2h1.4M118.0 180.3h1.4M121.0 180.2h1.4M122.4 180.7h1.4M125.8 181.0h1.4M130.9 180.2h1.4M135.8 180.2h1.4M137.6 180.3h1.4M139.5 180.1h1.4M141.3 180.1h1.4M147.3 180.3h1.4M149.0 180.3h1.4M152.1 180.5h1.4M153.1 180.4h1.4M154.0 180.7h1.4M65.0 181.3h1.4M71.7 181.9h1.4M75.5 181.2h1.4M76.6 181.4h1.4M77.9 181.6h1.4M79.3 181.1h1.4M80.3 181.9h1.4M82.3 181.2h1.4M84.3 181.6h1.4M84.8 181.8h1.4M87.2 181.7h1.4M88.2 181.7h1.4M89.2 181.3h1.4M91.6 181.3h1.4M95.1 181.3h1.4M95.7 181.5h1.4M96.9 181.9h1.4M98.6 181.3h1.4M100.3 181.4h1.4M101.8 181.5h1.4M103.0 181.2h1.4M104.7 181.4h1.4M106.5 181.1h1.4M107.8 181.1h1.4M114.6 181.7h1.4M116.4 181.2h1.4M117.4 181.1h1.4M119.0 181.7h1.4M122.7 181.2h1.4M126.2 181.2h1.4M128.1 181.6h1.4M128.8 181.1h1.4M131.2 181.8h1.4M137.5 181.5h1.4M139.4 181.5h1.4M143.6 181.6h1.4M144.8 181.9h1.4M146.6 181.4h1.4M154.0 181.4h1.4M67.9 182.6h1.4M77.9 182.3h1.4M79.3 182.4h1.4M82.6 182.2h1.4M86.4 182.7h1.4M89.2 182.6h1.4M90.4 182.3h1.4M91.3 182.3h1.4M93.3 182.1h1.4M93.8 182.4h1.4M94.7 182.2h1.4M95.9 182.7h1.4M96.6 182.6h1.4M99.2 182.8h1.4M101.3 182.2h1.4M101.3 182.3h1.4M102.8 183.0h1.4M103.7 182.2h1.4M104.6 183.0h1.4M106.6 182.0h1.4M109.4 182.5h1.4M111.2 182.8h1.4M114.8 183.0h1.4M119.3 182.0h1.4M120.4 183.0h1.4M121.5 182.9h1.4M123.4 182.6h1.4M125.5 182.4h1.4M128.7 182.4h1.4M133.3 182.1h1.4M134.2 182.2h1.4M139.3 182.0h1.4M139.6 182.1h1.4M142.8 182.0h1.4M146.6 182.3h1.4M153.7 182.7h1.4M71.4 183.4h1.4M76.6 183.3h1.4M78.2 183.5h1.4M78.7 183.1h1.4M81.2 183.4h1.4M81.8 183.5h1.4M85.0 183.2h1.4M87.0 183.4h1.4M87.8 183.7h1.4M90.1 183.2h1.4M93.4 183.7h1.4M94.9 183.2h1.4M96.2 183.7h1.4M96.4 183.7h1.4M99.3 183.0h1.4M99.9 183.3h1.4M101.2 183.6h1.4M101.7 183.9h1.4M105.9 183.7h1.4M106.7 183.6h1.4M107.7 183.6h1.4M110.9 183.6h1.4M112.0 183.1h1.4M114.4 183.1h1.4M119.0 183.7h1.4M122.8 183.4h1.4M128.5 183.0h1.4M129.4 183.1h1.4M131.8 183.2h1.4M133.7 183.4h1.4M136.5 183.2h1.4M138.3 183.8h1.4M138.9 183.9h1.4M139.4 183.5h1.4M144.2 183.6h1.4M144.5 183.4h1.4M148.3 183.3h1.4M149.7 183.1h1.4M152.4 184.0h1.4M155.3 183.7h1.4M159.4 183.5h1.4M58.1 184.1h1.4M60.3 184.3h1.4M72.6 184.0h1.4M75.3 184.3h1.4M76.6 184.3h1.4M77.5 184.2h1.4M80.1 184.0h1.4M80.8 184.6h1.4M81.7 184.4h1.4M82.6 184.8h1.4M84.7 184.7h1.4M85.6 184.6h1.4M87.8 184.4h1.4M93.2 184.3h1.4M97.5 184.6h1.4M98.6 184.5h1.4M101.0 184.4h1.4M102.7 184.1h1.4M104.0 184.3h1.4M104.4 184.6h1.4M105.8 184.8h1.4M107.2 184.8h1.4M108.3 184.9h1.4M110.2 184.0h1.4M116.8 184.7h1.4M118.3 184.1h1.4M119.6 184.5h1.4M122.5 184.4h1.4M126.3 184.3h1.4M126.9 184.1h1.4M131.0 184.7h1.4M131.4 184.1h1.4M132.5 184.5h1.4M134.8 184.9h1.4M142.7 184.1h1.4M145.1 184.4h1.4M150.9 184.2h1.4M61.2 185.9h1.4M61.4 185.8h1.4M78.4 185.2h1.4M80.4 185.3h1.4M82.7 185.8h1.4M86.1 185.3h1.4M87.1 185.6h1.4M88.2 185.8h1.4M91.2 185.1h1.4M91.3 185.4h1.4M92.5 185.2h1.4M93.4 185.6h1.4M94.5 185.3h1.4M98.2 185.5h1.4M100.0 185.7h1.4M100.5 185.5h1.4M102.1 185.9h1.4M103.9 185.9h1.4M105.0 185.0h1.4M106.4 185.0h1.4M110.0 185.6h1.4M115.1 185.8h1.4M117.6 185.8h1.4M119.8 185.1h1.4M120.6 185.5h1.4M123.1 185.4h1.4M128.1 185.3h1.4M129.2 185.0h1.4M130.6 185.8h1.4M132.2 185.5h1.4M132.9 185.1h1.4M136.3 185.5h1.4M140.3 185.6h1.4M141.9 185.3h1.4M143.9 185.2h1.4M147.2 186.0h1.4M152.4 185.7h1.4M154.8 185.0h1.4M59.1 186.4h1.4M60.7 186.7h1.4M74.9 186.0h1.4M77.5 186.9h1.4M78.9 186.4h1.4M79.4 187.0h1.4M84.0 186.1h1.4M84.4 186.9h1.4M85.7 186.9h1.4M87.0 186.7h1.4M87.9 186.4h1.4M88.9 186.9h1.4M90.9 186.2h1.4M92.1 186.9h1.4M93.2 186.0h1.4M95.3 187.0h1.4M96.1 186.2h1.4M97.1 187.0h1.4M98.2 186.9h1.4M98.6 186.7h1.4M99.3 186.6h1.4M100.4 186.1h1.4M101.5 186.4h1.4M102.8 186.4h1.4M103.7 187.0h1.4M105.4 186.5h1.4M106.9 186.7h1.4M108.6 186.7h1.4M116.0 186.9h1.4M117.9 186.2h1.4M119.8 186.3h1.4M127.1 186.5h1.4M127.4 186.8h1.4M130.0 186.9h1.4M131.2 186.1h1.4M132.3 186.4h1.4M133.8 186.5h1.4M135.0 186.1h1.4M135.3 186.9h1.4M136.3 186.8h1.4M142.3 186.2h1.4M142.9 186.4h1.4M145.6 186.3h1.4M58.3 187.5h1.4M67.9 188.0h1.4M73.9 187.3h1.4M79.0 187.2h1.4M82.6 187.8h1.4M84.6 187.8h1.4M85.3 187.6h1.4M87.9 187.2h1.4M89.3 187.0h1.4M90.2 187.9h1.4M90.6 187.7h1.4M91.9 187.0h1.4M93.8 187.2h1.4M94.7 187.0h1.4M95.6 187.3h1.4M98.4 187.2h1.4M99.5 187.5h1.4M100.8 187.3h1.4M101.8 187.5h1.4M102.8 187.7h1.4M103.6 187.3h1.4M105.1 187.4h1.4M105.7 187.4h1.4M108.8 187.9h1.4M111.3 187.8h1.4M117.0 187.8h1.4M119.9 187.3h1.4M121.0 187.1h1.4M122.0 187.5h1.4M124.3 187.1h1.4M126.6 187.0h1.4M129.6 187.5h1.4M131.2 187.8h1.4M141.5 187.7h1.4M143.8 187.3h1.4M75.7 188.4h1.4M77.9 188.6h1.4M79.5 188.6h1.4M82.3 188.1h1.4M83.0 188.9h1.4M83.4 188.5h1.4M85.1 188.4h1.4M86.0 189.0h1.4M87.0 188.9h1.4M87.6 188.6h1.4M89.2 188.8h1.4M90.1 188.1h1.4M91.7 188.1h1.4M93.0 188.5h1.4M95.0 188.9h1.4M96.2 188.6h1.4M97.3 188.7h1.4M99.5 188.2h1.4M101.1 188.1h1.4M102.2 188.1h1.4M104.9 188.3h1.4M105.4 188.7h1.4M112.2 188.7h1.4M118.2 188.3h1.4M119.9 188.8h1.4M121.4 188.1h1.4M123.0 188.9h1.4M126.7 188.5h1.4M127.9 188.3h1.4M133.5 188.8h1.4M136.2 188.1h1.4M137.4 188.2h1.4M140.8 188.2h1.4M142.2 188.7h1.4M142.7 188.7h1.4M64.5 189.4h1.4M69.0 190.0h1.4M70.9 189.9h1.4M75.8 189.3h1.4M82.0 189.6h1.4M85.1 189.6h1.4M86.3 189.4h1.4M86.3 189.6h1.4M88.9 189.6h1.4M89.8 189.2h1.4M90.8 189.6h1.4M94.8 189.2h1.4M99.9 189.5h1.4M103.7 189.6h1.4M105.3 189.6h1.4M105.3 189.5h1.4M108.0 189.3h1.4M112.4 189.4h1.4M116.5 189.4h1.4M117.5 189.7h1.4M118.5 189.7h1.4M120.0 189.4h1.4M123.2 189.1h1.4M128.0 189.2h1.4M129.6 189.1h1.4M131.3 189.8h1.4M131.6 189.3h1.4M132.8 189.2h1.4M135.9 189.3h1.4M137.4 189.4h1.4M139.5 189.1h1.4M144.5 189.6h1.4M146.6 190.0h1.4M60.5 190.4h1.4M74.8 190.6h1.4M84.8 190.3h1.4M85.9 191.0h1.4M88.1 190.3h1.4M88.5 190.8h1.4M90.3 190.6h1.4M91.6 190.0h1.4M94.2 190.6h1.4M94.8 190.7h1.4M96.1 190.2h1.4M98.6 190.8h1.4M99.8 190.8h1.4M100.5 190.2h1.4M101.3 190.8h1.4M107.6 190.6h1.4M109.6 190.7h1.4M110.8 190.9h1.4M118.8 190.2h1.4M120.0 190.3h1.4M121.7 190.6h1.4M124.9 190.5h1.4M127.0 190.0h1.4M127.3 190.3h1.4M130.0 190.3h1.4M130.5 190.2h1.4M131.4 190.4h1.4M133.5 190.6h1.4M136.3 190.5h1.4M139.5 190.1h1.4M140.7 190.8h1.4M142.8 190.5h1.4M150.2 190.7h1.4M151.8 190.7h1.4M153.8 190.0h1.4M155.4 190.8h1.4M60.4 192.0h1.4M62.1 191.6h1.4M70.3 191.2h1.4M71.3 191.8h1.4M73.6 191.8h1.4M76.1 191.1h1.4M79.7 191.1h1.4M80.9 191.9h1.4M82.6 191.3h1.4M83.3 191.5h1.4M85.7 191.3h1.4M87.8 191.0h1.4M89.0 191.2h1.4M89.5 191.4h1.4M91.1 191.3h1.4M93.6 191.5h1.4M94.9 191.0h1.4M95.9 191.1h1.4M97.9 191.2h1.4M100.6 191.5h1.4M101.7 191.9h1.4M103.4 191.7h1.4M106.9 191.8h1.4M107.7 191.9h1.4M111.8 191.7h1.4M112.8 191.7h1.4M114.9 191.7h1.4M116.9 191.7h1.4M121.0 191.3h1.4M124.9 191.7h1.4M126.3 191.6h1.4M128.0 191.0h1.4M132.1 191.2h1.4M146.0 191.2h1.4M149.1 191.7h1.4M150.4 191.4h1.4M155.2 191.7h1.4M66.3 192.3h1.4M74.9 192.6h1.4M77.1 192.7h1.4M80.1 192.3h1.4M83.2 192.1h1.4M84.2 192.1h1.4M85.6 192.3h1.4M89.9 192.5h1.4M90.6 192.6h1.4M91.8 192.0h1.4M93.5 193.0h1.4M94.7 192.7h1.4M98.1 192.0h1.4M98.7 192.8h1.4M99.9 192.1h1.4M102.1 192.4h1.4M103.1 192.8h1.4M105.3 192.2h1.4M108.4 192.0h1.4M114.9 192.5h1.4M116.3 192.2h1.4M119.1 192.8h1.4M120.5 193.0h1.4M123.6 192.5h1.4M128.3 192.3h1.4M128.9 192.1h1.4M133.8 192.1h1.4M139.7 192.6h1.4M141.4 192.0h1.4M143.7 192.2h1.4M145.7 192.6h1.4M152.0 192.7h1.4M152.9 192.8h1.4M63.4 193.5h1.4M66.4 193.1h1.4M70.8 193.1h1.4M74.5 193.9h1.4M77.3 193.1h1.4M78.6 193.2h1.4M80.2 193.7h1.4M81.2 193.3h1.4M81.6 193.0h1.4M82.6 193.5h1.4M83.9 193.4h1.4M86.1 193.4h1.4M86.6 193.1h1.4M89.9 193.0h1.4M95.0 193.4h1.4M96.4 193.1h1.4M98.1 193.8h1.4M98.8 193.2h1.4M99.9 193.0h1.4M100.8 193.8h1.4M102.8 194.0h1.4M103.8 193.9h1.4M105.6 193.4h1.4M106.7 193.4h1.4M108.1 193.9h1.4M108.5 193.9h1.4M115.5 193.2h1.4M118.1 193.3h1.4M121.2 193.4h1.4M126.7 193.2h1.4M130.6 193.5h1.4M140.3 193.7h1.4M146.6 193.7h1.4M149.9 193.1h1.4M153.4 193.1h1.4M154.9 193.7h1.4M157.1 193.5h1.4M58.3 194.1h1.4M70.6 194.3h1.4M75.6 194.3h1.4M77.4 194.3h1.4M80.0 194.3h1.4M82.9 194.3h1.4M83.9 194.3h1.4M86.1 194.3h1.4M86.4 194.1h1.4M87.7 194.3h1.4M88.9 194.0h1.4M90.0 194.3h1.4M93.8 194.3h1.4M96.0 194.3h1.4M96.7 194.3h1.4M98.0 194.3h1.4M100.4 194.3h1.4M105.6 194.3h1.4M108.3 194.3h1.4M114.5 194.3h1.4M119.1 194.3h1.4M120.6 194.3h1.4M126.0 194.2h1.4M129.1 194.3h1.4M131.3 194.3h1.4M131.7 194.3h1.4M133.9 194.3h1.4M138.1 194.3h1.4M139.2 194.3h1.4M142.2 194.3h1.4M145.2 194.3h1.4M148.4 194.2h1.4" stroke="#111" stroke-width="1.40"/><rect x="61.0" y="43.0" width="10.0" height="16.0" fill="#fff"/><text x="64.40" y="57.00" font-size="16.5" text-anchor="start" font-weight="normal" font-family="Liberation Sans, sans-serif">i</text><rect x="116.5" y="43.0" width="13.0" height="16.0" fill="#fff"/><text x="119.20" y="57.00" font-size="16.5" text-anchor="start" font-weight="normal" font-family="Liberation Sans, sans-serif">ii</text><rect x="58.0" y="132.5" width="14.0" height="16.0" fill="#fff"/><text x="58.40" y="146.30" font-size="16.5" text-anchor="start" font-weight="normal" font-family="Liberation Sans, sans-serif">iii</text><rect x="157.5" y="132.5" width="16.0" height="16.0" fill="#fff"/><text x="159.60" y="146.50" font-size="16.5" text-anchor="start" font-weight="normal" font-family="Liberation Sans, sans-serif">iv</text><path d="M57.0 23.3H230.5V195.0" fill="none" stroke="#1a1a1a" stroke-width="1.2"/><path d="M175.0 195.0H230.5" stroke="#777" stroke-width="1.1"/><path d="M57.0 195.0H175.0" stroke="#111" stroke-width="1.3"/><path d="M57.0 23.3V195.0" stroke="#111" stroke-width="1.5"/><path d="M57.8 41.4H114.5" stroke="#222" stroke-width="1.3"/><path d="M114.5 41.4H175.0" stroke="#666" stroke-width="1.2"/><path d="M57.8 130.8H175.0" stroke="#111" stroke-width="1.3"/><path d="M114.5 41.4V195.0M175.0 40.8V195.0" fill="none" stroke="#111" stroke-width="1.3"/><text x="48.91" y="454.10" font-size="9.70" textLength="11.01" lengthAdjust="spacingAndGlyphs" stroke="#000" stroke-width="0.35" font-family="Liberation Sans, sans-serif">10</text><text x="59.65" y="450.76" font-size="5.00" stroke="#000" stroke-width="0.35" font-family="Liberation Sans, sans-serif">0</text><g transform="translate(51.00 445.90) rotate(-90)"><text x="-0.62" y="0.00" font-size="10.20" textLength="8.65" lengthAdjust="spacingAndGlyphs" stroke="#000" stroke-width="0.35" font-family="Liberation Sans, sans-serif">10</text><text x="9.06" y="-3.83" font-size="4.80" stroke="#000" stroke-width="0.35" font-family="Liberation Sans, sans-serif">0</text></g><text x="92.53" y="454.10" font-size="9.70" textLength="11.01" lengthAdjust="spacingAndGlyphs" stroke="#000" stroke-width="0.35" font-family="Liberation Sans, sans-serif">10</text><text x="103.28" y="450.76" font-size="5.00" stroke="#000" stroke-width="0.35" font-family="Liberation Sans, sans-serif">1</text><g transform="translate(51.00 402.93) rotate(-90)"><text x="-0.62" y="0.00" font-size="10.20" textLength="8.65" lengthAdjust="spacingAndGlyphs" stroke="#000" stroke-width="0.35" font-family="Liberation Sans, sans-serif">10</text><text x="9.06" y="-3.83" font-size="4.80" stroke="#000" stroke-width="0.35" font-family="Liberation Sans, sans-serif">1</text></g><path d="M54.7 400.2h-2.2" stroke="#111" stroke-width="1"/><path d="M98.3 443.2v2.2" stroke="#111" stroke-width="1"/><text x="136.16" y="454.10" font-size="9.70" textLength="11.01" lengthAdjust="spacingAndGlyphs" stroke="#000" stroke-width="0.35" font-family="Liberation Sans, sans-serif">10</text><text x="146.90" y="450.76" font-size="5.00" stroke="#000" stroke-width="0.35" font-family="Liberation Sans, sans-serif">2</text><g transform="translate(51.00 359.95) rotate(-90)"><text x="-0.62" y="0.00" font-size="10.20" textLength="8.65" lengthAdjust="spacingAndGlyphs" stroke="#000" stroke-width="0.35" font-family="Liberation Sans, sans-serif">10</text><text x="9.06" y="-3.83" font-size="4.80" stroke="#000" stroke-width="0.35" font-family="Liberation Sans, sans-serif">2</text></g><path d="M54.7 357.2h-2.2" stroke="#111" stroke-width="1"/><path d="M141.9 443.2v2.2" stroke="#111" stroke-width="1"/><text x="179.78" y="454.10" font-size="9.70" textLength="11.01" lengthAdjust="spacingAndGlyphs" stroke="#000" stroke-width="0.35" font-family="Liberation Sans, sans-serif">10</text><text x="190.53" y="450.76" font-size="5.00" stroke="#000" stroke-width="0.35" font-family="Liberation Sans, sans-serif">3</text><g transform="translate(51.00 316.97) rotate(-90)"><text x="-0.62" y="0.00" font-size="10.20" textLength="8.65" lengthAdjust="spacingAndGlyphs" stroke="#000" stroke-width="0.35" font-family="Liberation Sans, sans-serif">10</text><text x="9.06" y="-3.83" font-size="4.80" stroke="#000" stroke-width="0.35" font-family="Liberation Sans, sans-serif">3</text></g><path d="M54.7 314.3h-2.2" stroke="#111" stroke-width="1"/><path d="M185.6 443.2v2.2" stroke="#111" stroke-width="1"/><text x="223.41" y="454.10" font-size="9.70" textLength="11.01" lengthAdjust="spacingAndGlyphs" stroke="#000" stroke-width="0.35" font-family="Liberation Sans, sans-serif">10</text><text x="234.15" y="450.76" font-size="5.00" stroke="#000" stroke-width="0.35" font-family="Liberation Sans, sans-serif">4</text><g transform="translate(51.00 274.00) rotate(-90)"><text x="-0.62" y="0.00" font-size="10.20" textLength="8.65" lengthAdjust="spacingAndGlyphs" stroke="#000" stroke-width="0.35" font-family="Liberation Sans, sans-serif">10</text><text x="9.06" y="-3.83" font-size="4.80" stroke="#000" stroke-width="0.35" font-family="Liberation Sans, sans-serif">4</text></g><path d="M156.4 297.0h1.4M121.5 299.5h1.4M86.7 301.6h1.4M118.9 301.1h1.4M128.7 301.7h1.4M132.4 302.6h1.4M79.5 304.0h1.4M91.4 303.2h1.4M115.3 306.5h1.4M75.9 307.1h1.4M108.0 307.2h1.4M114.5 307.7h1.4M92.0 312.0h1.4M111.4 312.6h1.4M145.9 312.8h1.4M147.0 312.4h1.4M93.7 313.3h1.4M108.6 313.6h1.4M123.0 313.1h1.4M127.7 313.7h1.4M155.4 314.0h1.4M95.7 314.8h1.4M143.1 314.1h1.4M148.6 315.0h1.4M149.4 314.6h1.4M94.0 315.2h1.4M133.2 315.9h1.4M137.5 315.0h1.4M86.1 316.7h1.4M91.1 316.0h1.4M93.0 316.7h1.4M96.2 316.2h1.4M135.0 316.8h1.4M150.4 316.1h1.4M157.8 316.9h1.4M70.5 317.3h1.4M88.6 317.4h1.4M92.5 317.7h1.4M93.6 317.6h1.4M95.9 317.6h1.4M124.5 317.5h1.4M143.2 317.0h1.4M145.4 317.4h1.4M147.0 317.9h1.4M149.4 317.5h1.4M152.8 317.1h1.4M79.2 318.2h1.4M94.4 318.4h1.4M113.7 318.3h1.4M123.9 318.9h1.4M129.6 318.9h1.4M138.7 318.4h1.4M150.0 318.7h1.4M152.4 318.5h1.4M153.7 318.7h1.4M154.4 318.6h1.4M159.0 318.2h1.4M56.0 319.4h1.4M60.2 319.5h1.4M85.7 319.8h1.4M91.2 319.4h1.4M102.8 319.4h1.4M121.9 320.0h1.4M125.7 319.8h1.4M132.1 319.4h1.4M140.8 319.3h1.4M143.6 319.7h1.4M151.8 320.0h1.4M162.7 319.0h1.4M165.7 319.2h1.4M170.5 319.3h1.4M83.5 320.0h1.4M92.2 320.1h1.4M133.7 320.1h1.4M135.0 320.7h1.4M138.9 320.9h1.4M144.7 320.5h1.4M147.3 320.9h1.4M147.4 320.0h1.4M150.1 320.6h1.4M153.6 320.4h1.4M158.0 320.1h1.4M82.3 321.3h1.4M87.6 321.8h1.4M90.7 321.5h1.4M92.9 321.8h1.4M125.9 321.9h1.4M128.6 321.6h1.4M139.2 321.2h1.4M141.2 321.7h1.4M143.3 321.1h1.4M143.4 321.9h1.4M146.0 321.0h1.4M149.3 321.7h1.4M152.6 321.5h1.4M75.6 322.9h1.4M80.7 322.1h1.4M81.3 322.4h1.4M91.6 322.3h1.4M94.2 322.6h1.4M118.5 322.8h1.4M130.0 322.0h1.4M136.3 322.2h1.4M140.1 322.6h1.4M140.3 322.4h1.4M141.4 322.3h1.4M148.6 322.4h1.4M149.9 322.6h1.4M150.9 322.7h1.4M151.7 322.4h1.4M155.6 323.0h1.4M156.7 322.2h1.4M160.8 322.9h1.4M74.0 323.9h1.4M80.9 323.8h1.4M83.4 323.6h1.4M84.3 323.2h1.4M86.2 323.5h1.4M123.5 323.5h1.4M128.7 323.3h1.4M133.7 323.7h1.4M135.1 323.2h1.4M136.0 323.1h1.4M137.2 323.1h1.4M137.6 323.1h1.4M140.4 323.8h1.4M142.3 323.7h1.4M143.1 323.8h1.4M146.3 323.4h1.4M147.7 323.9h1.4M149.8 323.2h1.4M150.8 323.2h1.4M154.1 323.6h1.4M154.4 323.2h1.4M155.6 323.9h1.4M156.3 323.8h1.4M157.8 323.2h1.4M159.3 323.9h1.4M63.1 324.5h1.4M83.3 325.0h1.4M86.3 324.9h1.4M89.1 324.2h1.4M89.8 324.2h1.4M97.7 324.7h1.4M127.3 324.2h1.4M128.8 325.0h1.4M131.6 324.7h1.4M134.6 324.4h1.4M138.0 324.2h1.4M140.7 325.0h1.4M141.6 324.9h1.4M143.8 324.6h1.4M144.4 324.7h1.4M145.8 324.4h1.4M146.6 324.3h1.4M148.0 324.0h1.4M149.3 324.6h1.4M151.0 324.3h1.4M152.3 324.4h1.4M152.4 325.0h1.4M154.2 324.6h1.4M156.1 324.9h1.4M159.5 324.9h1.4M160.9 324.8h1.4M162.1 324.3h1.4M87.2 325.1h1.4M89.7 325.8h1.4M97.2 325.8h1.4M102.9 325.1h1.4M103.8 325.1h1.4M128.4 325.3h1.4M132.8 325.2h1.4M134.3 325.2h1.4M135.4 325.3h1.4M139.3 325.6h1.4M140.0 325.5h1.4M142.2 325.5h1.4M143.1 325.1h1.4M144.3 325.5h1.4M144.9 325.2h1.4M146.1 325.5h1.4M146.6 325.7h1.4M148.0 325.9h1.4M149.1 325.4h1.4M150.1 325.7h1.4M150.8 325.8h1.4M151.6 325.0h1.4M153.2 326.0h1.4M153.4 326.0h1.4M154.4 325.8h1.4M157.3 325.4h1.4M158.0 325.2h1.4M160.0 325.9h1.4M161.2 325.3h1.4M80.7 326.9h1.4M130.6 326.5h1.4M133.8 327.0h1.4M138.7 326.9h1.4M139.6 326.7h1.4M141.0 326.2h1.4M141.4 326.3h1.4M142.7 326.3h1.4M143.6 326.5h1.4M144.7 326.4h1.4M146.0 326.5h1.4M147.3 326.3h1.4M148.0 326.6h1.4M148.7 326.0h1.4M149.6 326.8h1.4M152.4 326.5h1.4M154.0 326.5h1.4M160.3 326.9h1.4M160.4 326.9h1.4M163.2 326.4h1.4M60.5 327.6h1.4M65.3 327.9h1.4M83.2 327.3h1.4M85.2 327.2h1.4M94.7 327.3h1.4M96.0 327.5h1.4M130.8 327.4h1.4M131.9 327.2h1.4M136.9 327.0h1.4M138.4 327.2h1.4M140.1 327.4h1.4M142.0 327.8h1.4M143.0 328.0h1.4M143.8 327.7h1.4M145.2 327.7h1.4M145.9 327.5h1.4M146.7 327.7h1.4M148.1 327.5h1.4M148.4 327.3h1.4M151.3 327.5h1.4M152.1 327.8h1.4M153.0 327.8h1.4M155.1 327.3h1.4M155.6 327.3h1.4M157.0 327.7h1.4M158.4 327.7h1.4M81.4 328.6h1.4M83.1 328.0h1.4M88.1 328.4h1.4M95.9 328.4h1.4M96.9 328.4h1.4M98.7 328.7h1.4M100.0 328.8h1.4M132.7 328.4h1.4M133.9 328.7h1.4M137.1 328.1h1.4M138.9 328.5h1.4M139.3 328.5h1.4M142.9 328.0h1.4M143.8 328.7h1.4M146.1 328.0h1.4M146.8 328.6h1.4M149.0 328.5h1.4M150.3 328.4h1.4M151.1 328.9h1.4M151.9 328.4h1.4M152.5 328.8h1.4M153.9 328.4h1.4M155.6 328.8h1.4M157.2 328.8h1.4M158.0 328.8h1.4M159.7 328.6h1.4M70.3 329.6h1.4M73.6 329.3h1.4M76.8 329.1h1.4M79.5 329.9h1.4M89.5 329.8h1.4M91.6 329.2h1.4M95.9 329.2h1.4M100.0 329.4h1.4M106.3 329.8h1.4M114.1 329.3h1.4M122.7 329.8h1.4M129.9 329.7h1.4M135.6 329.2h1.4M138.7 329.3h1.4M140.0 329.4h1.4M140.5 329.9h1.4M142.4 329.2h1.4M143.8 329.1h1.4M144.5 329.8h1.4M147.3 329.2h1.4M148.3 329.2h1.4M150.0 329.6h1.4M150.6 329.6h1.4M151.6 329.4h1.4M152.9 329.6h1.4M153.5 329.1h1.4M154.6 329.8h1.4M156.9 329.8h1.4M158.2 329.8h1.4M165.2 329.2h1.4M168.3 329.4h1.4M98.3 330.5h1.4M99.4 330.4h1.4M105.9 330.2h1.4M137.6 330.3h1.4M138.5 330.3h1.4M139.8 330.5h1.4M141.0 330.6h1.4M142.7 330.9h1.4M143.6 330.8h1.4M144.3 330.9h1.4M146.2 330.6h1.4M146.5 330.4h1.4M147.5 330.8h1.4M150.0 330.2h1.4M150.6 330.3h1.4M152.1 330.9h1.4M152.9 330.1h1.4M153.3 330.7h1.4M156.9 330.5h1.4M157.6 330.9h1.4M158.7 330.7h1.4M160.1 330.1h1.4M75.3 331.9h1.4M79.1 331.4h1.4M98.6 331.9h1.4M100.3 331.3h1.4M109.8 331.3h1.4M132.7 331.7h1.4M134.2 331.9h1.4M135.9 331.8h1.4M139.3 331.2h1.4M141.8 331.9h1.4M142.9 331.3h1.4M143.8 331.7h1.4M144.4 331.8h1.4M145.6 331.1h1.4M146.9 331.1h1.4M148.0 331.3h1.4M148.5 331.6h1.4M150.4 331.2h1.4M151.9 331.9h1.4M152.9 331.4h1.4M153.9 331.6h1.4M155.3 331.4h1.4M155.6 331.6h1.4M156.7 331.4h1.4M159.6 331.7h1.4M161.5 331.2h1.4M166.0 331.7h1.4M79.8 332.6h1.4M81.8 332.4h1.4M85.3 332.2h1.4M87.4 332.8h1.4M89.4 332.9h1.4M91.4 332.8h1.4M94.6 333.0h1.4M99.1 332.7h1.4M103.9 332.2h1.4M135.9 332.1h1.4M138.0 332.6h1.4M138.9 332.6h1.4M139.8 332.3h1.4M140.4 332.3h1.4M141.6 332.7h1.4M142.6 332.9h1.4M143.4 332.8h1.4M145.6 332.9h1.4M148.3 332.8h1.4M149.1 332.9h1.4M150.2 332.4h1.4M150.5 332.1h1.4M151.7 332.3h1.4M154.3 332.9h1.4M154.9 332.2h1.4M156.2 332.9h1.4M159.9 332.3h1.4M162.3 332.5h1.4M163.2 332.2h1.4M72.8 333.3h1.4M81.8 333.7h1.4M83.5 333.8h1.4M88.8 333.6h1.4M95.1 333.5h1.4M103.8 333.1h1.4M105.5 333.5h1.4M131.4 333.7h1.4M134.5 333.6h1.4M138.5 333.3h1.4M139.4 333.5h1.4M140.9 333.1h1.4M141.5 333.6h1.4M145.8 333.6h1.4M146.7 333.1h1.4M147.5 333.4h1.4M149.9 333.9h1.4M150.9 333.9h1.4M151.6 333.3h1.4M153.1 333.7h1.4M154.2 333.1h1.4M155.1 333.6h1.4M156.2 333.5h1.4M156.8 333.6h1.4M160.1 333.2h1.4M162.6 333.3h1.4M163.4 333.1h1.4M80.3 334.0h1.4M84.9 334.2h1.4M91.3 334.3h1.4M92.0 334.4h1.4M93.0 334.9h1.4M95.2 334.6h1.4M100.4 335.0h1.4M108.6 334.8h1.4M124.1 334.8h1.4M133.0 334.6h1.4M136.4 334.2h1.4M139.6 334.4h1.4M140.5 334.4h1.4M142.1 334.3h1.4M143.0 334.1h1.4M143.8 334.6h1.4M147.2 334.9h1.4M147.4 334.8h1.4M148.8 334.4h1.4M152.7 334.2h1.4M154.1 334.2h1.4M159.7 334.3h1.4M72.5 335.0h1.4M79.3 335.6h1.4M87.3 335.7h1.4M94.4 335.6h1.4M95.6 335.2h1.4M97.6 335.1h1.4M100.8 335.0h1.4M102.7 335.9h1.4M122.4 335.6h1.4M126.9 335.9h1.4M135.6 335.7h1.4M139.0 335.6h1.4M139.9 335.7h1.4M141.1 335.2h1.4M142.0 335.0h1.4M144.3 335.6h1.4M144.5 335.1h1.4M146.5 335.7h1.4M147.4 335.7h1.4M149.7 335.1h1.4M151.3 335.3h1.4M152.5 335.0h1.4M153.9 335.8h1.4M155.6 335.6h1.4M157.0 335.6h1.4M157.7 335.8h1.4M164.5 335.1h1.4M166.8 335.6h1.4M64.4 336.5h1.4M67.9 336.0h1.4M78.5 336.8h1.4M82.6 336.9h1.4M84.3 336.4h1.4M84.7 336.8h1.4M87.6 336.2h1.4M90.5 336.7h1.4M96.2 336.4h1.4M98.7 336.5h1.4M107.3 336.6h1.4M109.2 336.9h1.4M129.2 336.8h1.4M134.6 336.6h1.4M135.4 336.6h1.4M136.4 336.9h1.4M137.5 336.6h1.4M139.1 336.3h1.4M139.3 336.3h1.4M142.2 336.6h1.4M142.4 336.8h1.4M144.2 336.3h1.4M144.8 336.9h1.4M145.3 336.2h1.4M146.8 336.0h1.4M148.2 336.2h1.4M149.2 336.2h1.4M149.7 336.2h1.4M151.8 336.9h1.4M153.1 336.7h1.4M153.3 336.4h1.4M155.8 336.1h1.4M156.7 336.6h1.4M158.7 336.9h1.4M162.1 336.4h1.4M75.1 337.6h1.4M84.4 337.7h1.4M85.3 337.1h1.4M95.7 337.4h1.4M101.0 337.8h1.4M106.2 337.7h1.4M113.1 337.9h1.4M133.8 337.4h1.4M135.6 337.5h1.4M138.6 337.1h1.4M140.9 337.5h1.4M142.2 337.2h1.4M143.2 337.8h1.4M143.5 337.7h1.4M144.7 337.7h1.4M146.3 337.4h1.4M148.3 337.6h1.4M148.8 337.9h1.4M150.1 337.3h1.4M150.3 337.2h1.4M151.5 337.8h1.4M153.6 337.7h1.4M155.1 337.7h1.4M156.8 337.8h1.4M157.6 337.1h1.4M160.1 337.2h1.4M70.3 338.8h1.4M73.6 339.0h1.4M80.0 338.1h1.4M80.4 338.8h1.4M81.6 338.2h1.4M85.1 338.3h1.4M87.3 338.2h1.4M95.1 338.6h1.4M96.5 338.2h1.4M103.1 338.9h1.4M136.3 338.2h1.4M140.6 338.7h1.4M141.9 338.3h1.4M142.4 338.7h1.4M143.9 338.1h1.4M144.6 338.8h1.4M145.9 339.0h1.4M148.0 338.6h1.4M148.9 338.6h1.4M149.8 338.3h1.4M150.4 338.2h1.4M151.6 338.4h1.4M156.1 338.6h1.4M162.0 338.4h1.4M81.3 339.8h1.4M83.3 339.9h1.4M84.4 339.6h1.4M89.0 339.3h1.4M94.1 339.4h1.4M95.1 339.4h1.4M132.3 339.9h1.4M133.5 339.0h1.4M135.8 340.0h1.4M138.0 339.7h1.4M140.6 339.3h1.4M141.5 339.4h1.4M143.0 339.3h1.4M144.0 339.2h1.4M145.1 339.1h1.4M146.1 339.2h1.4M146.6 339.4h1.4M148.0 339.7h1.4M148.4 339.4h1.4M150.2 339.8h1.4M150.7 339.8h1.4M152.2 339.3h1.4M153.0 339.9h1.4M153.7 340.0h1.4M155.4 339.8h1.4M158.7 339.7h1.4M162.8 339.6h1.4M165.0 339.2h1.4M83.1 340.5h1.4M93.7 340.6h1.4M104.9 340.8h1.4M139.3 340.6h1.4M140.3 340.2h1.4M141.6 340.3h1.4M142.6 340.1h1.4M145.3 340.2h1.4M145.6 340.0h1.4M146.4 341.0h1.4M148.2 341.0h1.4M148.5 340.3h1.4M149.6 340.2h1.4M150.4 340.2h1.4M153.2 340.8h1.4M158.1 340.0h1.4M163.5 340.8h1.4M70.9 341.3h1.4M80.9 341.1h1.4M85.5 341.4h1.4M88.0 341.3h1.4M93.6 341.0h1.4M96.1 341.5h1.4M97.3 341.9h1.4M97.8 342.0h1.4M100.6 341.4h1.4M133.4 341.9h1.4M136.1 341.4h1.4M139.2 341.8h1.4M140.7 342.0h1.4M142.4 341.2h1.4M144.7 341.7h1.4M145.4 341.0h1.4M147.0 341.3h1.4M149.2 341.8h1.4M149.8 341.9h1.4M150.4 341.7h1.4M153.0 341.1h1.4M153.9 341.9h1.4M154.9 341.1h1.4M155.9 341.8h1.4M157.3 341.7h1.4M159.9 341.3h1.4M160.4 341.5h1.4M83.2 342.6h1.4M86.6 343.0h1.4M95.2 342.2h1.4M103.3 342.4h1.4M121.6 342.3h1.4M128.8 342.6h1.4M133.5 342.4h1.4M137.2 342.2h1.4M138.5 342.0h1.4M139.6 342.5h1.4M142.2 342.3h1.4M142.3 342.8h1.4M144.0 343.0h1.4M145.1 343.0h1.4M145.7 342.3h1.4M146.6 342.0h1.4M147.8 342.3h1.4M148.5 342.7h1.4M150.6 342.2h1.4M151.3 342.2h1.4M152.9 342.2h1.4M153.4 342.8h1.4M154.4 342.6h1.4M156.1 342.5h1.4M156.6 342.4h1.4M159.2 342.0h1.4M161.2 342.0h1.4M70.5 343.1h1.4M84.3 343.2h1.4M85.6 343.9h1.4M87.5 343.2h1.4M97.0 343.7h1.4M98.7 343.1h1.4M100.6 343.3h1.4M131.1 343.1h1.4M132.7 343.4h1.4M137.3 343.2h1.4M138.4 343.3h1.4M140.0 343.5h1.4M140.5 343.7h1.4M143.2 343.6h1.4M144.9 343.3h1.4M147.3 343.0h1.4M148.3 343.5h1.4M150.0 343.6h1.4M150.4 343.8h1.4M153.0 343.7h1.4M153.6 343.3h1.4M154.5 344.0h1.4M157.5 343.6h1.4M158.7 343.1h1.4M162.2 343.1h1.4M164.5 343.9h1.4M168.7 343.1h1.4M70.4 344.0h1.4M85.6 344.1h1.4M96.2 344.5h1.4M130.9 344.5h1.4M131.8 344.4h1.4M133.6 344.2h1.4M135.3 344.8h1.4M137.7 344.4h1.4M139.0 344.9h1.4M140.2 344.8h1.4M141.4 344.9h1.4M143.1 344.0h1.4M143.4 344.8h1.4M144.9 344.5h1.4M145.4 344.8h1.4M146.4 344.9h1.4M149.2 344.4h1.4M149.6 344.3h1.4M150.8 344.7h1.4M151.9 344.7h1.4M152.3 344.7h1.4M154.1 344.4h1.4M155.3 344.9h1.4M156.7 344.1h1.4M158.3 344.8h1.4M159.9 345.0h1.4M161.2 344.3h1.4M161.4 344.6h1.4M73.5 345.9h1.4M77.7 345.8h1.4M85.5 345.7h1.4M98.7 345.7h1.4M101.6 345.0h1.4M104.0 345.6h1.4M131.6 345.6h1.4M134.1 345.0h1.4M135.3 345.5h1.4M137.9 345.1h1.4M139.2 345.2h1.4M140.7 345.7h1.4M141.6 345.0h1.4M143.6 345.6h1.4M144.9 345.6h1.4M146.2 345.1h1.4M147.0 345.8h1.4M148.0 345.3h1.4M149.3 345.2h1.4M149.3 345.1h1.4M150.3 346.0h1.4M151.9 345.9h1.4M152.7 345.3h1.4M153.4 345.3h1.4M154.3 345.0h1.4M155.9 345.7h1.4M157.2 345.6h1.4M158.9 345.6h1.4M81.0 346.8h1.4M82.1 346.2h1.4M113.6 346.5h1.4M129.4 347.0h1.4M133.0 346.8h1.4M140.2 347.0h1.4M140.4 346.8h1.4M141.9 346.7h1.4M142.5 346.8h1.4M144.3 347.0h1.4M144.4 346.1h1.4M145.5 346.5h1.4M146.8 346.7h1.4M147.5 346.4h1.4M148.5 346.1h1.4M150.1 346.8h1.4M151.5 346.3h1.4M152.7 346.4h1.4M153.6 346.8h1.4M156.1 346.1h1.4M158.2 346.7h1.4M158.6 346.1h1.4M161.2 346.3h1.4M166.2 346.9h1.4M170.6 346.1h1.4M83.8 347.8h1.4M86.3 347.3h1.4M95.1 347.3h1.4M97.0 347.2h1.4M103.6 347.2h1.4M133.8 347.9h1.4M134.8 347.5h1.4M137.1 347.9h1.4M139.2 347.3h1.4M140.0 347.6h1.4M141.0 347.6h1.4M142.8 347.2h1.4M144.9 347.2h1.4M146.1 347.3h1.4M146.5 347.9h1.4M147.9 348.0h1.4M148.9 347.9h1.4M149.6 347.6h1.4M150.6 347.4h1.4M152.9 347.6h1.4M153.4 347.1h1.4M155.6 347.6h1.4M158.6 347.5h1.4M161.3 347.1h1.4M163.2 347.1h1.4M164.3 347.1h1.4M164.4 347.7h1.4M76.6 348.2h1.4M94.3 348.7h1.4M96.8 348.2h1.4M133.7 348.9h1.4M135.0 348.6h1.4M138.9 348.6h1.4M139.7 348.5h1.4M140.7 348.2h1.4M141.9 348.5h1.4M143.1 348.4h1.4M143.9 348.3h1.4M146.0 348.0h1.4M147.2 348.9h1.4M148.0 349.0h1.4M148.5 348.6h1.4M149.6 348.8h1.4M150.8 348.7h1.4M153.3 348.4h1.4M154.4 349.0h1.4M155.5 348.2h1.4M156.3 349.0h1.4M158.9 348.1h1.4M161.3 349.0h1.4M161.5 348.3h1.4M165.9 348.8h1.4M74.8 349.8h1.4M91.8 349.3h1.4M102.2 349.9h1.4M111.3 349.5h1.4M115.8 349.3h1.4M130.5 349.7h1.4M137.0 349.6h1.4M139.8 350.0h1.4M140.3 349.3h1.4M141.3 349.5h1.4M143.8 350.0h1.4M144.9 349.8h1.4M145.5 350.0h1.4M146.8 349.7h1.4M148.7 349.9h1.4M149.4 349.7h1.4M150.6 349.7h1.4M153.1 349.7h1.4M153.9 349.2h1.4M155.1 349.8h1.4M159.6 349.4h1.4M160.9 349.0h1.4M165.1 349.6h1.4M61.5 350.2h1.4M68.0 350.1h1.4M74.6 350.3h1.4M79.9 350.3h1.4M85.5 350.4h1.4M88.4 350.7h1.4M101.0 350.5h1.4M129.4 350.0h1.4M130.5 350.1h1.4M138.0 350.2h1.4M138.4 350.5h1.4M141.1 350.7h1.4M142.3 350.8h1.4M143.4 350.2h1.4M144.5 350.4h1.4M146.1 350.7h1.4M146.7 350.9h1.4M148.0 350.8h1.4M148.5 350.8h1.4M149.7 350.9h1.4M150.5 350.3h1.4M151.9 350.5h1.4M153.0 350.5h1.4M154.2 350.6h1.4M154.9 350.5h1.4M156.2 350.7h1.4M157.0 350.8h1.4M158.5 350.3h1.4M161.1 350.8h1.4M163.4 350.9h1.4M81.3 351.5h1.4M89.3 351.2h1.4M94.2 351.4h1.4M104.5 351.4h1.4M120.4 351.3h1.4M134.9 351.8h1.4M136.6 351.0h1.4M138.8 351.9h1.4M140.2 351.8h1.4M141.2 351.3h1.4M143.2 351.7h1.4M145.0 351.5h1.4M145.7 351.1h1.4M146.4 351.8h1.4M148.1 351.4h1.4M149.2 351.8h1.4M150.9 351.1h1.4M152.9 351.1h1.4M153.9 351.1h1.4M155.2 351.3h1.4M158.4 351.3h1.4M159.5 351.8h1.4M161.6 351.4h1.4M75.6 353.0h1.4M86.2 352.5h1.4M86.5 352.6h1.4M90.6 352.1h1.4M99.2 352.4h1.4M106.9 352.7h1.4M108.9 352.3h1.4M126.8 352.7h1.4M131.7 352.3h1.4M135.3 352.2h1.4M138.3 352.7h1.4M140.1 352.6h1.4M142.2 352.7h1.4M142.8 352.3h1.4M144.1 352.3h1.4M144.7 352.8h1.4M146.0 352.2h1.4M146.9 352.2h1.4M147.9 352.4h1.4M148.8 352.4h1.4M150.0 352.7h1.4M150.8 352.3h1.4M152.0 352.6h1.4M152.8 353.0h1.4M153.9 352.0h1.4M155.4 352.2h1.4M156.9 352.5h1.4M159.4 352.3h1.4M160.8 352.6h1.4M163.7 352.3h1.4M168.5 352.2h1.4M73.7 353.8h1.4M75.2 353.8h1.4M78.6 353.4h1.4M83.1 353.6h1.4M86.5 353.6h1.4M88.4 353.4h1.4M95.4 353.4h1.4M106.3 353.5h1.4M107.2 353.6h1.4M130.7 353.3h1.4M132.1 353.7h1.4M134.2 353.7h1.4M135.2 353.0h1.4M140.8 353.0h1.4M142.2 353.5h1.4M143.2 353.0h1.4M144.3 353.3h1.4M145.6 353.1h1.4M146.4 353.3h1.4M147.5 354.0h1.4M150.0 353.8h1.4M152.6 353.1h1.4M153.7 354.0h1.4M154.6 353.9h1.4M155.4 354.0h1.4M156.4 353.4h1.4M161.6 353.2h1.4M169.5 353.7h1.4M80.5 354.9h1.4M93.7 354.3h1.4M119.4 354.3h1.4M125.0 354.1h1.4M135.8 354.8h1.4M139.1 354.2h1.4M139.7 354.3h1.4M141.2 354.2h1.4M142.1 354.1h1.4M143.3 354.1h1.4M143.8 354.1h1.4M144.6 354.6h1.4M147.7 354.7h1.4M148.8 354.4h1.4M150.3 354.1h1.4M151.1 354.3h1.4M151.4 354.5h1.4M153.2 354.1h1.4M154.7 354.7h1.4M156.1 354.6h1.4M158.5 354.5h1.4M164.8 354.7h1.4M61.2 355.2h1.4M66.7 355.6h1.4M72.2 355.8h1.4M82.1 355.1h1.4M84.8 355.9h1.4M85.6 355.8h1.4M86.9 355.0h1.4M88.3 355.8h1.4M88.6 355.5h1.4M91.7 355.8h1.4M93.6 355.4h1.4M113.6 355.7h1.4M129.1 355.2h1.4M129.3 355.9h1.4M132.7 355.2h1.4M133.9 355.4h1.4M136.6 355.9h1.4M138.1 355.5h1.4M139.6 355.3h1.4M141.1 355.8h1.4M142.9 355.8h1.4M146.1 355.1h1.4M147.3 355.7h1.4M147.8 355.5h1.4M148.5 355.8h1.4M149.9 355.2h1.4M150.6 355.5h1.4M151.6 355.6h1.4M155.2 355.2h1.4M156.3 355.2h1.4M158.3 355.9h1.4M159.7 356.0h1.4M165.5 355.6h1.4M79.0 356.8h1.4M87.4 356.6h1.4M92.7 356.0h1.4M93.8 356.4h1.4M100.1 356.1h1.4M100.6 356.3h1.4M127.5 356.9h1.4M133.8 356.1h1.4M135.5 356.9h1.4M136.9 356.7h1.4M138.3 356.6h1.4M140.0 356.2h1.4M141.2 356.7h1.4M143.3 356.0h1.4M144.0 356.2h1.4M145.8 356.3h1.4M146.3 356.5h1.4M147.8 356.0h1.4M148.9 356.7h1.4M151.3 356.2h1.4M154.4 356.9h1.4M156.2 356.8h1.4M158.2 356.0h1.4M158.5 356.9h1.4M162.2 356.3h1.4M80.5 357.5h1.4M88.0 357.5h1.4M92.5 357.8h1.4M94.3 357.4h1.4M96.3 358.0h1.4M96.5 357.6h1.4M102.6 357.1h1.4M104.6 357.2h1.4M108.2 357.5h1.4M135.5 357.3h1.4M137.3 357.2h1.4M137.6 358.0h1.4M138.4 357.7h1.4M141.1 357.7h1.4M144.2 357.8h1.4M144.9 357.5h1.4M145.7 357.3h1.4M146.6 357.4h1.4M148.2 357.5h1.4M149.0 357.5h1.4M149.8 357.4h1.4M151.2 357.4h1.4M151.7 357.2h1.4M153.3 357.6h1.4M155.0 357.7h1.4M157.9 357.9h1.4M161.9 357.6h1.4M162.7 357.8h1.4M168.5 357.9h1.4M64.2 358.8h1.4M88.3 358.2h1.4M107.1 358.6h1.4M130.8 358.7h1.4M137.0 358.8h1.4M138.2 358.2h1.4M140.5 358.5h1.4M141.8 359.0h1.4M142.6 358.5h1.4M143.5 358.4h1.4M144.4 358.3h1.4M146.4 358.9h1.4M147.5 358.1h1.4M148.7 358.4h1.4M150.1 358.9h1.4M150.8 358.6h1.4M151.8 358.5h1.4M154.5 358.1h1.4M155.8 358.9h1.4M157.3 358.5h1.4M164.2 359.0h1.4M72.3 359.9h1.4M79.4 359.7h1.4M89.1 359.3h1.4M90.1 359.4h1.4M129.3 359.4h1.4M130.0 359.8h1.4M135.8 359.8h1.4M136.8 359.0h1.4M139.0 359.5h1.4M140.7 359.1h1.4M141.7 359.7h1.4M142.9 359.5h1.4M143.5 359.9h1.4M144.7 359.2h1.4M145.9 359.5h1.4M146.8 359.4h1.4M147.8 359.7h1.4M148.9 359.2h1.4M149.5 360.0h1.4M150.8 359.7h1.4M153.1 359.8h1.4M153.9 359.5h1.4M158.3 359.7h1.4M159.6 359.7h1.4M163.8 359.3h1.4M164.4 359.6h1.4M166.3 359.7h1.4M76.9 360.9h1.4M87.2 360.5h1.4M93.0 360.5h1.4M114.1 360.3h1.4M127.7 360.9h1.4M132.3 360.9h1.4M133.7 360.1h1.4M135.6 360.4h1.4M140.2 360.6h1.4M141.1 360.7h1.4M143.2 360.3h1.4M143.8 360.8h1.4M145.0 360.1h1.4M146.1 360.6h1.4M147.1 360.7h1.4M147.5 360.7h1.4M148.3 360.9h1.4M149.7 361.0h1.4M151.2 360.2h1.4M152.2 360.8h1.4M154.1 360.2h1.4M155.0 360.4h1.4M155.4 360.1h1.4M156.6 360.9h1.4M158.0 360.7h1.4M159.6 360.3h1.4M80.2 361.9h1.4M82.7 361.0h1.4M98.7 361.7h1.4M107.6 361.0h1.4M123.9 361.1h1.4M129.6 361.1h1.4M131.0 361.8h1.4M131.8 361.7h1.4M135.1 361.2h1.4M136.4 362.0h1.4M138.2 361.3h1.4M142.2 361.2h1.4M142.9 361.5h1.4M143.9 361.7h1.4M144.7 361.9h1.4M146.8 361.6h1.4M148.3 361.4h1.4M148.9 362.0h1.4M150.2 361.1h1.4M152.2 361.7h1.4M154.0 361.5h1.4M154.4 361.3h1.4M155.6 361.8h1.4M158.8 361.8h1.4M159.4 362.0h1.4M161.8 361.3h1.4M72.1 362.8h1.4M86.9 362.4h1.4M125.1 362.2h1.4M131.0 362.7h1.4M133.3 362.1h1.4M134.0 362.2h1.4M136.4 362.1h1.4M139.1 362.6h1.4M140.5 362.0h1.4M142.2 362.7h1.4M142.8 362.2h1.4M143.9 362.5h1.4M145.3 362.3h1.4M145.8 362.7h1.4M146.3 362.2h1.4M147.3 362.3h1.4M148.8 362.4h1.4M149.7 362.3h1.4M150.7 362.1h1.4M151.9 362.6h1.4M152.6 362.2h1.4M153.5 362.8h1.4M154.4 362.5h1.4M155.8 362.6h1.4M157.3 362.2h1.4M157.4 362.5h1.4M163.2 362.7h1.4M166.9 362.4h1.4M87.5 363.5h1.4M93.1 363.9h1.4M93.8 363.1h1.4M99.1 363.2h1.4M107.2 363.2h1.4M108.9 363.9h1.4M124.2 363.9h1.4M136.3 363.9h1.4M137.9 363.4h1.4M139.3 364.0h1.4M141.2 363.6h1.4M143.2 363.9h1.4M144.9 363.8h1.4M147.1 363.4h1.4M148.1 363.7h1.4M149.0 363.1h1.4M149.9 363.7h1.4M151.0 363.9h1.4M151.6 364.0h1.4M152.3 363.1h1.4M154.4 363.6h1.4M157.3 363.7h1.4M158.9 363.3h1.4M159.4 363.2h1.4M161.5 363.8h1.4M163.8 363.8h1.4M65.3 364.0h1.4M85.5 364.8h1.4M87.1 364.8h1.4M87.9 364.1h1.4M97.0 364.9h1.4M99.5 364.6h1.4M128.4 364.1h1.4M132.3 364.4h1.4M134.8 364.4h1.4M136.0 364.1h1.4M139.7 364.4h1.4M141.4 364.7h1.4M144.6 364.6h1.4M145.7 364.9h1.4M146.4 364.9h1.4M148.0 364.3h1.4M149.1 364.3h1.4M150.1 364.2h1.4M150.4 364.1h1.4M151.5 364.4h1.4M152.4 364.9h1.4M154.2 364.6h1.4M154.8 364.8h1.4M155.7 364.9h1.4M157.4 364.3h1.4M158.9 364.9h1.4M159.9 364.2h1.4M170.0 364.1h1.4M66.0 365.0h1.4M86.2 365.4h1.4M86.3 365.6h1.4M89.6 365.7h1.4M92.2 365.4h1.4M95.1 365.7h1.4M106.5 365.3h1.4M132.3 366.0h1.4M133.6 365.9h1.4M134.4 365.3h1.4M135.4 365.2h1.4M137.0 366.0h1.4M140.3 365.6h1.4M142.2 365.3h1.4M144.2 365.3h1.4M145.0 365.0h1.4M146.2 365.1h1.4M147.2 365.9h1.4M147.3 365.5h1.4M149.8 365.4h1.4M150.6 365.1h1.4M152.2 365.7h1.4M154.0 365.2h1.4M156.1 365.9h1.4M158.1 365.6h1.4M161.4 365.1h1.4M164.3 365.3h1.4M56.5 366.9h1.4M84.3 366.3h1.4M85.5 366.6h1.4M89.5 366.9h1.4M130.6 366.4h1.4M132.6 366.6h1.4M133.4 366.3h1.4M138.8 366.1h1.4M140.3 366.9h1.4M140.8 366.0h1.4M142.4 366.4h1.4M145.1 366.6h1.4M145.7 366.5h1.4M146.8 366.7h1.4M147.7 366.3h1.4M148.8 367.0h1.4M150.6 366.0h1.4M151.5 366.2h1.4M152.4 366.6h1.4M153.8 367.0h1.4M155.0 366.0h1.4M156.0 366.5h1.4M160.8 366.6h1.4M161.9 366.8h1.4M166.0 366.2h1.4M168.0 366.0h1.4M78.6 367.9h1.4M94.1 367.5h1.4M99.9 367.2h1.4M127.5 368.0h1.4M129.0 367.9h1.4M130.1 367.5h1.4M134.1 367.6h1.4M136.0 367.0h1.4M138.0 367.9h1.4M138.3 367.1h1.4M139.9 367.7h1.4M141.9 367.6h1.4M142.7 367.6h1.4M145.1 367.3h1.4M146.8 367.5h1.4M148.0 367.9h1.4M148.4 367.4h1.4M150.2 367.7h1.4M153.1 368.0h1.4M153.7 368.0h1.4M154.5 367.4h1.4M158.4 367.3h1.4M159.4 367.1h1.4M160.3 367.4h1.4M162.1 367.3h1.4M166.9 367.7h1.4M70.6 368.8h1.4M91.3 368.0h1.4M96.3 368.8h1.4M103.6 368.0h1.4M104.8 368.6h1.4M116.3 368.3h1.4M131.4 368.2h1.4M132.7 368.6h1.4M137.9 368.7h1.4M139.5 368.8h1.4M141.5 368.9h1.4M142.6 368.4h1.4M143.6 368.9h1.4M144.4 368.1h1.4M145.7 368.9h1.4M147.7 368.2h1.4M148.7 368.5h1.4M150.1 368.7h1.4M150.8 368.3h1.4M151.4 368.1h1.4M154.1 368.5h1.4M155.9 368.2h1.4M156.6 368.1h1.4M158.0 368.8h1.4M159.0 369.0h1.4M161.5 368.9h1.4M163.4 368.1h1.4M165.1 368.3h1.4M79.6 369.7h1.4M83.3 369.7h1.4M100.8 369.5h1.4M102.0 369.7h1.4M102.9 369.4h1.4M129.0 369.5h1.4M130.7 369.0h1.4M133.3 369.8h1.4M135.5 369.3h1.4M138.9 369.9h1.4M139.7 369.0h1.4M140.3 369.4h1.4M142.0 369.2h1.4M142.8 369.6h1.4M143.9 369.2h1.4M144.5 370.0h1.4M145.3 369.8h1.4M146.4 369.7h1.4M147.5 369.6h1.4M148.7 369.4h1.4M149.6 369.6h1.4M150.5 369.8h1.4M151.6 369.3h1.4M153.3 369.2h1.4M154.6 369.1h1.4M155.9 369.0h1.4M156.8 370.0h1.4M158.7 369.0h1.4M56.4 370.7h1.4M76.9 370.8h1.4M94.0 370.7h1.4M130.7 370.2h1.4M136.5 370.8h1.4M139.0 370.3h1.4M140.2 370.1h1.4M140.6 370.1h1.4M141.4 370.1h1.4M143.2 370.7h1.4M143.7 370.3h1.4M144.5 370.3h1.4M147.0 370.6h1.4M148.2 370.4h1.4M148.7 370.2h1.4M149.8 370.4h1.4M150.7 370.4h1.4M151.6 370.1h1.4M153.1 370.1h1.4M155.7 371.0h1.4M157.0 370.3h1.4M83.0 371.2h1.4M83.6 371.7h1.4M85.0 371.7h1.4M93.3 371.1h1.4M96.1 371.1h1.4M100.4 371.7h1.4M135.9 371.1h1.4M138.1 371.1h1.4M138.4 371.5h1.4M142.1 371.4h1.4M142.6 371.8h1.4M144.2 371.8h1.4M145.1 371.9h1.4M146.0 371.9h1.4M146.5 371.8h1.4M147.5 371.5h1.4M148.9 371.5h1.4M151.3 371.1h1.4M152.3 371.7h1.4M153.5 371.2h1.4M155.1 371.8h1.4M156.9 371.8h1.4M158.9 371.2h1.4M163.8 371.2h1.4M80.8 372.9h1.4M114.9 372.4h1.4M127.5 372.4h1.4M132.6 372.3h1.4M134.9 372.7h1.4M135.4 372.6h1.4M138.1 373.0h1.4M139.7 372.4h1.4M143.2 372.5h1.4M144.0 372.9h1.4M145.2 372.4h1.4M146.0 372.7h1.4M147.1 372.5h1.4M147.4 372.4h1.4M149.1 372.0h1.4M150.2 372.7h1.4M150.4 372.3h1.4M152.4 372.3h1.4M155.0 372.7h1.4M155.4 372.5h1.4M156.9 372.6h1.4M159.4 372.8h1.4M160.4 372.1h1.4M72.1 373.6h1.4M86.9 373.7h1.4M89.7 373.8h1.4M125.8 373.7h1.4M137.5 373.4h1.4M138.4 373.9h1.4M139.8 374.0h1.4M141.0 373.9h1.4M141.8 373.2h1.4M143.2 374.0h1.4M144.3 373.3h1.4M145.6 373.7h1.4M146.8 373.9h1.4M148.2 373.4h1.4M149.1 373.7h1.4M149.6 373.9h1.4M151.8 373.4h1.4M154.0 373.6h1.4M154.8 373.4h1.4M156.0 373.9h1.4M157.9 373.4h1.4M160.2 373.4h1.4M160.4 373.9h1.4M162.3 373.5h1.4M162.6 373.8h1.4M59.8 374.5h1.4M75.4 374.5h1.4M81.1 374.8h1.4M90.7 374.9h1.4M93.6 374.2h1.4M129.0 375.0h1.4M129.8 374.3h1.4M130.5 374.0h1.4M138.6 374.1h1.4M139.4 374.5h1.4M140.6 374.3h1.4M142.1 374.3h1.4M143.1 374.4h1.4M145.0 374.3h1.4M145.8 374.8h1.4M146.4 374.7h1.4M148.0 374.7h1.4M150.2 374.8h1.4M150.4 374.5h1.4M151.4 374.6h1.4M153.4 374.3h1.4M154.8 374.2h1.4M157.2 374.7h1.4M158.8 374.1h1.4M163.1 374.3h1.4M76.2 375.4h1.4M77.2 375.5h1.4M77.4 375.6h1.4M92.0 375.5h1.4M132.8 375.9h1.4M133.9 376.0h1.4M135.4 375.8h1.4M136.4 375.7h1.4M138.1 375.9h1.4M138.6 375.5h1.4M139.5 375.1h1.4M141.2 375.0h1.4M141.9 375.1h1.4M142.5 375.8h1.4M143.4 375.5h1.4M145.1 375.5h1.4M146.2 375.9h1.4M146.7 375.5h1.4M148.1 375.1h1.4M148.3 375.6h1.4M150.0 375.7h1.4M150.3 375.7h1.4M152.0 375.7h1.4M152.4 375.8h1.4M153.4 375.8h1.4M154.4 375.4h1.4M156.4 375.9h1.4M158.6 375.3h1.4M130.8 376.1h1.4M138.2 376.6h1.4M138.9 376.7h1.4M139.6 377.0h1.4M141.9 377.0h1.4M142.5 376.6h1.4M143.7 376.8h1.4M145.1 377.0h1.4M145.8 376.8h1.4M146.8 377.0h1.4M147.7 377.0h1.4M149.0 376.7h1.4M150.0 376.3h1.4M151.7 376.2h1.4M152.3 376.5h1.4M153.6 376.1h1.4M154.5 376.1h1.4M155.7 376.7h1.4M156.5 376.4h1.4M157.5 376.4h1.4M161.5 376.9h1.4M166.4 376.7h1.4M63.2 377.8h1.4M72.7 377.9h1.4M81.6 377.5h1.4M84.6 377.3h1.4M86.8 377.1h1.4M98.3 377.1h1.4M116.2 377.8h1.4M123.2 378.0h1.4M128.8 377.0h1.4M130.7 377.6h1.4M133.4 377.8h1.4M137.3 377.1h1.4M139.3 377.4h1.4M140.8 377.3h1.4M141.9 377.0h1.4M142.8 377.6h1.4M143.4 377.0h1.4M145.3 377.1h1.4M146.3 377.4h1.4M147.1 377.6h1.4M147.5 377.3h1.4M148.6 377.1h1.4M149.5 377.4h1.4M150.9 377.0h1.4M152.2 377.6h1.4M153.1 377.4h1.4M154.3 377.4h1.4M159.0 377.5h1.4M161.4 377.9h1.4M133.3 378.4h1.4M136.0 378.1h1.4M136.5 378.7h1.4M137.3 378.9h1.4M138.7 378.6h1.4M139.8 378.3h1.4M140.7 378.4h1.4M142.2 379.0h1.4M143.4 378.1h1.4M145.0 378.1h1.4M145.4 378.3h1.4M146.7 378.0h1.4M147.9 378.1h1.4M148.4 379.0h1.4M150.5 378.4h1.4M151.7 378.1h1.4M153.8 379.0h1.4M155.5 378.5h1.4M156.5 378.1h1.4M158.0 378.6h1.4M159.3 378.3h1.4M162.2 378.4h1.4M162.8 378.9h1.4M164.0 378.7h1.4M164.8 378.2h1.4M166.8 378.3h1.4M93.4 379.1h1.4M117.9 379.7h1.4M131.1 379.7h1.4M136.4 379.3h1.4M138.7 379.4h1.4M141.0 379.9h1.4M142.2 379.6h1.4M142.4 379.5h1.4M144.9 379.7h1.4M146.1 379.1h1.4M146.6 379.6h1.4M148.1 379.3h1.4M148.5 379.4h1.4M149.8 379.9h1.4M151.1 379.4h1.4M152.1 379.4h1.4M152.5 379.0h1.4M156.1 379.9h1.4M160.0 379.6h1.4M161.0 379.1h1.4M165.5 379.8h1.4M81.5 380.7h1.4M132.2 380.6h1.4M134.1 380.7h1.4M136.8 380.0h1.4M138.0 380.4h1.4M138.6 380.7h1.4M140.2 380.9h1.4M143.7 380.8h1.4M145.0 380.1h1.4M146.1 380.2h1.4M148.2 380.7h1.4M148.6 380.5h1.4M149.8 381.0h1.4M151.4 380.2h1.4M152.8 380.9h1.4M154.1 380.9h1.4M154.5 380.6h1.4M156.2 380.6h1.4M157.6 380.7h1.4M160.7 380.3h1.4M161.8 380.5h1.4M162.4 380.6h1.4M67.2 381.7h1.4M80.7 381.9h1.4M121.0 381.0h1.4M130.8 381.2h1.4M138.3 381.9h1.4M140.2 381.7h1.4M140.5 381.3h1.4M141.5 381.6h1.4M143.2 381.7h1.4M144.2 381.3h1.4M144.5 381.7h1.4M146.1 381.0h1.4M146.5 381.9h1.4M148.2 381.5h1.4M148.5 381.1h1.4M151.3 382.0h1.4M151.8 381.8h1.4M153.5 381.9h1.4M155.2 381.3h1.4M155.3 381.2h1.4M157.0 381.0h1.4M161.2 381.4h1.4M163.3 381.1h1.4M113.6 382.8h1.4M115.5 382.4h1.4M132.8 382.8h1.4M134.7 382.5h1.4M137.4 382.1h1.4M139.2 382.5h1.4M140.2 382.3h1.4M140.7 382.6h1.4M142.2 382.9h1.4M145.5 382.0h1.4M146.7 382.4h1.4M147.8 382.0h1.4M149.0 382.9h1.4M149.5 382.3h1.4M151.1 382.2h1.4M151.4 382.9h1.4M153.0 382.5h1.4M153.4 382.8h1.4M157.2 382.9h1.4M160.1 382.6h1.4M160.6 382.3h1.4M80.8 383.7h1.4M129.9 383.9h1.4M136.7 383.8h1.4M140.7 383.4h1.4M142.8 383.6h1.4M144.6 383.8h1.4M146.2 383.3h1.4M148.7 384.0h1.4M152.2 383.4h1.4M156.4 383.2h1.4M160.3 383.2h1.4M162.5 383.1h1.4M164.1 383.8h1.4M102.0 384.9h1.4M104.5 385.0h1.4M130.1 384.1h1.4M130.9 384.1h1.4M134.9 384.6h1.4M135.8 384.1h1.4M139.1 384.7h1.4M141.2 384.8h1.4M141.4 384.4h1.4M143.2 384.4h1.4M143.7 384.7h1.4M145.5 384.4h1.4M147.3 384.8h1.4M148.4 384.1h1.4M152.1 384.0h1.4M152.8 384.4h1.4M155.4 384.8h1.4M158.1 384.9h1.4M159.5 384.2h1.4M162.2 384.9h1.4M82.5 385.0h1.4M99.3 386.0h1.4M123.3 385.1h1.4M136.7 385.0h1.4M140.3 385.0h1.4M142.0 385.7h1.4M142.5 385.9h1.4M144.3 385.8h1.4M145.3 385.3h1.4M146.0 385.8h1.4M148.3 385.7h1.4M150.3 385.1h1.4M151.9 385.3h1.4M153.9 385.8h1.4M154.3 385.0h1.4M155.5 385.2h1.4M156.9 385.6h1.4M159.7 385.2h1.4M160.6 385.2h1.4M85.8 386.9h1.4M111.4 386.0h1.4M121.5 386.4h1.4M124.6 386.4h1.4M128.3 386.6h1.4M134.2 386.0h1.4M134.6 387.0h1.4M136.0 386.8h1.4M137.5 386.6h1.4M140.8 386.0h1.4M143.5 387.0h1.4M146.1 386.6h1.4M148.1 386.1h1.4M148.6 386.4h1.4M151.8 386.1h1.4M157.5 386.9h1.4M160.2 386.1h1.4M132.7 387.8h1.4M136.4 387.2h1.4M137.7 387.9h1.4M139.7 387.6h1.4M141.2 387.5h1.4M142.2 387.2h1.4M144.1 387.1h1.4M145.4 387.5h1.4M146.7 387.8h1.4M148.2 387.5h1.4M148.7 387.3h1.4M149.9 387.1h1.4M150.4 387.1h1.4M151.5 387.3h1.4M153.3 387.9h1.4M154.8 387.5h1.4M160.7 387.5h1.4M164.6 387.8h1.4M131.6 388.0h1.4M133.8 389.0h1.4M139.1 388.9h1.4M140.2 388.2h1.4M141.0 388.5h1.4M143.3 388.4h1.4M144.8 388.6h1.4M145.8 388.6h1.4M146.9 388.9h1.4M148.0 388.9h1.4M149.2 388.8h1.4M151.9 388.8h1.4M154.7 388.3h1.4M158.7 388.2h1.4M159.7 388.3h1.4M115.7 389.8h1.4M128.0 389.7h1.4M130.0 389.3h1.4M134.5 389.1h1.4M135.6 389.7h1.4M137.9 389.7h1.4M139.4 389.1h1.4M141.2 389.5h1.4M144.2 389.1h1.4M146.2 390.0h1.4M147.1 389.3h1.4M150.0 389.4h1.4M151.5 389.3h1.4M154.5 389.3h1.4M156.8 389.9h1.4M165.0 390.0h1.4M124.1 390.1h1.4M139.2 390.9h1.4M141.1 390.7h1.4M146.1 390.2h1.4M147.3 390.7h1.4M148.0 390.9h1.4M149.2 390.1h1.4M150.0 391.0h1.4M151.3 390.6h1.4M153.1 391.0h1.4M153.4 390.8h1.4M155.1 391.0h1.4M158.0 390.6h1.4M130.5 391.5h1.4M134.0 391.2h1.4M135.1 391.6h1.4M139.1 391.6h1.4M140.1 391.7h1.4M140.4 391.2h1.4M145.0 391.4h1.4M145.9 391.1h1.4M147.3 392.0h1.4M149.1 391.0h1.4M154.2 391.5h1.4M154.8 391.0h1.4M155.8 391.5h1.4M157.5 391.7h1.4M65.2 392.3h1.4M102.2 392.8h1.4M127.2 392.9h1.4M127.5 392.6h1.4M135.3 392.1h1.4M139.3 392.2h1.4M140.8 392.5h1.4M142.0 392.5h1.4M142.8 392.7h1.4M144.8 392.0h1.4M146.9 392.8h1.4M151.3 392.3h1.4M152.3 392.3h1.4M152.9 392.4h1.4M154.2 392.5h1.4M155.6 392.3h1.4M127.5 393.0h1.4M130.2 393.5h1.4M132.8 393.8h1.4M133.7 393.7h1.4M140.5 393.4h1.4M141.6 393.7h1.4M143.7 393.7h1.4M146.1 393.8h1.4M147.7 393.0h1.4M148.9 394.0h1.4M154.8 393.8h1.4M156.9 393.6h1.4M158.2 393.9h1.4M57.2 394.1h1.4M62.1 394.3h1.4M71.6 394.2h1.4M73.5 394.2h1.4M75.2 394.7h1.4M85.9 394.4h1.4M93.8 394.3h1.4M132.6 394.0h1.4M134.1 395.0h1.4M134.9 394.7h1.4M137.0 394.7h1.4M138.3 394.6h1.4M138.7 394.1h1.4M140.0 394.3h1.4M141.8 394.0h1.4M142.6 394.6h1.4M143.5 394.9h1.4M147.6 394.5h1.4M148.4 394.2h1.4M149.6 395.0h1.4M151.6 394.6h1.4M152.5 394.6h1.4M154.2 394.4h1.4M157.2 394.6h1.4M158.8 394.5h1.4M159.9 394.4h1.4M88.3 395.3h1.4M90.5 396.0h1.4M95.2 395.6h1.4M114.5 395.1h1.4M117.8 395.9h1.4M119.9 395.4h1.4M130.3 395.4h1.4M134.7 395.8h1.4M137.6 395.9h1.4M140.0 395.8h1.4M141.2 395.4h1.4M145.3 395.5h1.4M147.4 395.8h1.4M151.4 395.0h1.4M154.9 395.6h1.4M155.4 395.6h1.4M166.1 395.4h1.4M58.6 396.9h1.4M84.0 396.3h1.4M89.7 396.9h1.4M100.9 396.5h1.4M105.0 396.6h1.4M112.6 396.6h1.4M115.0 396.7h1.4M135.3 396.1h1.4M136.9 396.2h1.4M137.5 396.5h1.4M138.4 396.5h1.4M142.1 396.6h1.4M144.2 396.5h1.4M144.7 396.3h1.4M145.7 396.7h1.4M147.8 396.2h1.4M148.4 396.5h1.4M151.2 396.3h1.4M152.0 396.0h1.4M152.5 396.5h1.4M158.2 396.4h1.4M160.9 397.0h1.4M161.5 396.5h1.4M165.2 396.2h1.4M168.5 396.4h1.4M66.9 397.7h1.4M96.8 397.9h1.4M107.8 397.8h1.4M128.3 397.6h1.4M133.6 397.5h1.4M134.6 397.4h1.4M138.4 397.6h1.4M139.9 397.5h1.4M142.3 397.6h1.4M142.8 397.6h1.4M144.7 397.4h1.4M145.7 397.3h1.4M146.8 397.9h1.4M147.5 398.0h1.4M151.0 397.2h1.4M153.9 397.7h1.4M155.1 397.7h1.4M155.5 397.3h1.4M156.8 397.6h1.4M160.5 397.6h1.4M161.4 397.1h1.4M66.0 398.7h1.4M79.4 398.7h1.4M88.5 398.6h1.4M92.6 398.1h1.4M99.9 398.7h1.4M101.2 398.1h1.4M112.8 398.9h1.4M120.9 398.1h1.4M125.6 398.3h1.4M128.4 398.4h1.4M131.2 398.0h1.4M136.5 398.1h1.4M138.9 398.8h1.4M139.8 398.6h1.4M141.7 398.9h1.4M143.4 398.5h1.4M145.0 398.0h1.4M146.9 398.2h1.4M149.5 398.6h1.4M151.0 398.9h1.4M152.4 398.0h1.4M153.6 399.0h1.4M158.3 398.9h1.4M161.5 398.1h1.4M64.4 399.2h1.4M79.7 399.6h1.4M81.4 399.2h1.4M96.7 400.0h1.4M127.0 399.2h1.4M130.8 399.9h1.4M132.1 399.6h1.4M137.9 399.0h1.4M139.3 399.6h1.4M143.3 399.8h1.4M144.0 399.4h1.4M145.0 399.6h1.4M146.9 399.2h1.4M149.3 399.5h1.4M149.4 399.3h1.4M152.6 399.7h1.4M153.6 399.7h1.4M155.1 399.1h1.4M155.4 399.4h1.4M156.7 399.1h1.4M162.3 399.1h1.4M61.0 400.7h1.4M99.2 400.2h1.4M102.7 400.5h1.4M104.7 400.4h1.4M112.2 400.9h1.4M121.4 400.0h1.4M122.6 400.2h1.4M124.2 401.0h1.4M133.0 400.3h1.4M135.0 400.1h1.4M135.8 401.0h1.4M140.0 400.6h1.4M140.4 400.8h1.4M143.6 400.1h1.4M146.1 400.6h1.4M147.5 400.7h1.4M150.2 400.4h1.4M152.0 400.3h1.4M153.9 400.2h1.4M154.8 400.0h1.4M155.7 401.0h1.4M158.1 400.0h1.4M160.1 400.4h1.4M161.4 400.1h1.4M163.4 400.5h1.4M167.3 400.7h1.4M167.8 400.3h1.4M60.0 401.9h1.4M79.9 401.1h1.4M127.3 401.2h1.4M129.2 401.2h1.4M135.1 401.1h1.4M141.3 401.6h1.4M141.4 401.1h1.4M144.2 401.6h1.4M145.1 401.2h1.4M145.5 401.7h1.4M151.1 401.4h1.4M153.4 401.5h1.4M156.9 401.5h1.4M158.6 401.2h1.4M71.3 402.8h1.4M81.4 402.8h1.4M91.6 402.6h1.4M93.0 402.4h1.4M107.0 402.7h1.4M118.6 402.9h1.4M121.4 402.7h1.4M129.9 402.9h1.4M137.2 402.7h1.4M137.5 402.2h1.4M139.5 402.4h1.4M141.2 402.4h1.4M141.3 402.4h1.4M145.2 402.7h1.4M145.4 402.7h1.4M147.1 402.3h1.4M147.4 403.0h1.4M149.3 402.8h1.4M149.6 402.6h1.4M151.0 402.1h1.4M152.8 402.8h1.4M154.4 402.5h1.4M158.1 402.3h1.4M158.5 403.0h1.4M160.5 402.9h1.4M166.1 403.0h1.4M78.6 403.0h1.4M82.1 403.7h1.4M89.2 403.9h1.4M96.0 403.2h1.4M96.6 403.9h1.4M105.8 403.6h1.4M122.5 403.1h1.4M128.3 403.2h1.4M133.5 403.8h1.4M136.1 403.8h1.4M137.4 403.4h1.4M139.0 403.7h1.4M140.6 403.1h1.4M141.7 403.4h1.4M142.5 403.3h1.4M145.4 403.3h1.4M146.3 403.1h1.4M148.3 403.7h1.4M148.3 403.4h1.4M149.7 403.7h1.4M151.4 403.6h1.4M153.4 403.2h1.4M155.2 403.8h1.4M158.1 403.1h1.4M158.5 403.1h1.4M57.1 404.2h1.4M62.5 404.6h1.4M90.8 404.2h1.4M93.4 404.7h1.4M104.7 404.9h1.4M132.3 404.8h1.4M136.0 404.5h1.4M137.2 404.4h1.4M137.9 404.3h1.4M139.8 404.1h1.4M141.7 404.4h1.4M142.4 404.0h1.4M145.5 404.0h1.4M147.2 404.8h1.4M149.2 404.6h1.4M151.0 404.5h1.4M152.9 404.5h1.4M153.4 404.4h1.4M155.6 404.0h1.4M157.3 404.5h1.4M158.9 404.2h1.4M160.5 404.5h1.4M162.7 404.6h1.4M74.4 406.0h1.4M85.8 405.3h1.4M90.3 405.4h1.4M91.8 405.0h1.4M95.3 405.1h1.4M95.5 405.0h1.4M110.5 405.8h1.4M123.5 405.6h1.4M130.9 405.0h1.4M135.4 405.1h1.4M138.1 405.0h1.4M139.4 405.5h1.4M140.9 405.4h1.4M144.0 405.5h1.4M144.6 405.6h1.4M147.2 405.4h1.4M148.2 405.9h1.4M148.9 405.3h1.4M149.6 405.3h1.4M152.7 405.1h1.4M153.6 405.1h1.4M154.8 405.7h1.4M156.6 405.5h1.4M158.3 405.6h1.4M160.6 405.6h1.4M162.0 405.3h1.4M80.0 406.4h1.4M86.7 406.3h1.4M91.8 406.5h1.4M93.3 406.5h1.4M98.9 406.8h1.4M100.2 406.7h1.4M106.5 406.3h1.4M130.4 406.8h1.4M136.6 406.1h1.4M137.4 406.2h1.4M140.0 406.3h1.4M141.7 406.2h1.4M142.9 406.4h1.4M144.2 406.3h1.4M147.1 407.0h1.4M147.5 406.1h1.4M148.4 406.4h1.4M150.3 406.8h1.4M151.9 406.6h1.4M154.3 406.8h1.4M160.2 406.1h1.4M161.5 406.8h1.4M164.1 406.4h1.4M164.8 406.8h1.4M170.6 406.1h1.4M71.1 407.7h1.4M79.6 407.7h1.4M88.0 407.3h1.4M97.4 407.4h1.4M98.8 407.1h1.4M102.1 407.2h1.4M117.3 407.3h1.4M119.6 407.0h1.4M130.3 408.0h1.4M134.0 407.8h1.4M136.6 407.3h1.4M137.9 407.9h1.4M139.2 407.8h1.4M140.6 407.1h1.4M143.0 407.9h1.4M146.3 407.7h1.4M147.8 407.9h1.4M148.9 407.5h1.4M152.2 407.7h1.4M153.2 407.5h1.4M153.6 407.6h1.4M155.2 407.8h1.4M156.2 407.8h1.4M156.4 407.6h1.4M68.6 408.6h1.4M74.3 408.2h1.4M83.2 408.5h1.4M88.7 408.9h1.4M91.2 408.7h1.4M97.4 408.3h1.4M99.7 408.1h1.4M100.8 408.5h1.4M106.3 408.8h1.4M106.8 408.0h1.4M115.1 408.0h1.4M118.0 408.1h1.4M119.9 409.0h1.4M121.4 408.9h1.4M125.0 408.9h1.4M130.8 408.2h1.4M133.9 408.6h1.4M134.4 408.6h1.4M136.2 408.1h1.4M137.8 408.4h1.4M138.4 408.5h1.4M141.0 408.9h1.4M142.2 408.4h1.4M143.3 408.8h1.4M143.5 408.9h1.4M145.3 408.8h1.4M146.5 408.4h1.4M148.9 408.1h1.4M152.8 408.6h1.4M155.9 408.9h1.4M158.1 408.5h1.4M159.7 408.1h1.4M60.3 410.0h1.4M70.9 409.5h1.4M99.5 409.9h1.4M100.5 409.3h1.4M108.5 409.5h1.4M112.5 409.7h1.4M113.7 409.2h1.4M127.5 409.3h1.4M135.0 409.2h1.4M136.7 409.7h1.4M137.4 409.2h1.4M138.4 409.3h1.4M139.5 409.3h1.4M141.5 409.2h1.4M142.6 409.7h1.4M143.6 409.6h1.4M145.0 409.9h1.4M146.8 409.4h1.4M149.9 409.5h1.4M151.0 409.4h1.4M152.1 409.3h1.4M152.4 409.8h1.4M153.3 409.8h1.4M155.6 410.0h1.4M160.1 409.3h1.4M163.7 409.8h1.4M165.3 409.4h1.4M56.0 410.9h1.4M58.5 410.5h1.4M70.9 410.3h1.4M76.8 410.4h1.4M80.0 410.2h1.4M83.1 410.6h1.4M95.1 410.3h1.4M97.6 410.7h1.4M99.7 410.7h1.4M109.1 410.4h1.4M114.2 410.0h1.4M119.4 410.5h1.4M125.5 410.2h1.4M129.2 410.6h1.4M129.8 410.3h1.4M131.4 410.6h1.4M132.9 410.5h1.4M135.2 410.2h1.4M136.0 410.3h1.4M138.6 410.8h1.4M139.4 410.7h1.4M140.4 410.7h1.4M142.4 410.2h1.4M143.8 410.7h1.4M145.0 410.9h1.4M145.3 410.2h1.4M147.1 410.6h1.4M147.7 410.3h1.4M149.1 410.4h1.4M149.8 410.0h1.4M150.3 410.5h1.4M151.6 410.9h1.4M153.6 410.1h1.4M155.2 410.8h1.4M156.0 410.6h1.4M159.3 410.4h1.4M161.9 411.0h1.4M163.1 410.2h1.4M75.8 411.8h1.4M78.4 411.7h1.4M82.8 411.7h1.4M93.2 411.7h1.4M95.7 411.2h1.4M101.6 411.5h1.4M102.4 411.2h1.4M116.3 411.4h1.4M124.9 411.8h1.4M126.6 411.0h1.4M129.2 411.2h1.4M129.7 411.3h1.4M133.0 411.7h1.4M134.7 411.4h1.4M136.4 411.9h1.4M139.0 412.0h1.4M140.1 411.1h1.4M140.8 411.7h1.4M142.4 411.5h1.4M146.0 411.3h1.4M148.0 411.1h1.4M149.8 411.1h1.4M150.6 411.2h1.4M151.9 411.6h1.4M152.6 411.9h1.4M154.0 411.8h1.4M156.2 411.3h1.4M156.7 411.1h1.4M161.6 411.8h1.4M163.4 411.9h1.4M56.0 412.1h1.4M66.6 412.5h1.4M70.6 412.7h1.4M82.0 412.6h1.4M92.1 412.3h1.4M94.2 412.2h1.4M97.0 412.2h1.4M107.1 412.6h1.4M120.5 412.3h1.4M124.4 412.0h1.4M126.7 412.8h1.4M127.8 412.7h1.4M132.8 412.3h1.4M133.5 412.5h1.4M135.6 412.8h1.4M136.4 413.0h1.4M137.4 412.5h1.4M139.1 412.9h1.4M139.4 413.0h1.4M141.7 412.9h1.4M142.7 412.1h1.4M145.0 412.6h1.4M145.5 412.3h1.4M146.6 412.1h1.4M148.3 412.1h1.4M150.0 412.4h1.4M150.4 412.4h1.4M151.4 413.0h1.4M153.3 412.4h1.4M153.3 412.1h1.4M156.3 412.7h1.4M156.7 413.0h1.4M158.1 412.2h1.4M76.8 413.2h1.4M86.9 413.8h1.4M92.7 413.3h1.4M98.9 413.3h1.4M102.8 413.5h1.4M105.9 413.8h1.4M106.5 413.8h1.4M114.7 413.9h1.4M117.8 413.4h1.4M119.2 414.0h1.4M121.2 413.2h1.4M126.3 414.0h1.4M128.9 413.7h1.4M133.2 413.2h1.4M135.1 413.8h1.4M136.6 413.1h1.4M138.3 413.3h1.4M138.6 413.3h1.4M140.6 413.6h1.4M143.1 413.3h1.4M143.9 413.6h1.4M146.0 413.6h1.4M147.5 413.5h1.4M148.4 413.2h1.4M151.2 413.5h1.4M151.5 413.1h1.4M152.7 413.1h1.4M153.8 413.9h1.4M155.0 413.4h1.4M155.9 413.5h1.4M156.5 413.2h1.4M160.6 413.7h1.4M162.3 413.9h1.4M170.2 413.9h1.4M62.4 414.2h1.4M65.4 414.5h1.4M70.1 414.0h1.4M72.9 415.0h1.4M77.1 414.8h1.4M78.4 414.4h1.4M83.2 414.6h1.4M86.2 414.6h1.4M87.9 414.9h1.4M88.8 414.3h1.4M89.9 414.1h1.4M95.1 414.8h1.4M95.6 414.4h1.4M97.1 414.1h1.4M98.1 414.4h1.4M100.5 415.0h1.4M104.7 414.4h1.4M112.6 414.6h1.4M115.8 414.6h1.4M117.3 414.6h1.4M118.3 414.3h1.4M120.3 414.5h1.4M126.1 414.5h1.4M128.3 414.5h1.4M131.3 414.6h1.4M133.3 414.7h1.4M137.2 414.9h1.4M139.0 414.6h1.4M140.2 414.7h1.4M142.6 414.7h1.4M143.9 415.0h1.4M145.2 414.8h1.4M145.8 414.6h1.4M146.3 414.6h1.4M147.4 414.4h1.4M148.9 415.0h1.4M150.9 414.9h1.4M152.2 414.9h1.4M152.6 415.0h1.4M154.0 414.7h1.4M154.6 414.1h1.4M156.1 414.3h1.4M157.1 414.3h1.4M70.2 415.9h1.4M71.5 415.2h1.4M74.9 415.4h1.4M76.2 415.8h1.4M78.6 415.7h1.4M82.3 415.3h1.4M83.9 415.1h1.4M85.8 415.0h1.4M90.0 415.3h1.4M91.5 415.8h1.4M92.8 415.8h1.4M98.5 415.0h1.4M125.4 415.6h1.4M127.8 415.2h1.4M132.1 415.8h1.4M133.7 415.6h1.4M135.4 415.7h1.4M137.0 415.6h1.4M139.0 415.3h1.4M139.6 415.8h1.4M140.8 415.7h1.4M141.7 415.9h1.4M143.1 415.6h1.4M144.0 415.4h1.4M145.2 415.8h1.4M145.5 415.7h1.4M147.0 415.3h1.4M148.6 415.4h1.4M149.9 415.0h1.4M152.2 415.1h1.4M153.1 415.4h1.4M153.6 415.5h1.4M154.7 415.7h1.4M155.7 415.9h1.4M156.8 415.1h1.4M158.1 415.2h1.4M159.1 415.2h1.4M159.8 415.0h1.4M64.4 417.0h1.4M66.8 416.8h1.4M73.3 416.8h1.4M75.5 416.7h1.4M79.7 416.3h1.4M82.0 416.6h1.4M84.9 416.9h1.4M96.1 417.0h1.4M97.9 416.3h1.4M103.2 416.3h1.4M104.2 416.9h1.4M111.2 416.5h1.4M116.5 416.6h1.4M119.1 416.8h1.4M123.9 416.4h1.4M125.9 416.2h1.4M126.6 416.8h1.4M132.0 416.0h1.4M132.9 416.4h1.4M133.9 416.3h1.4M134.7 416.9h1.4M135.3 416.0h1.4M137.9 416.4h1.4M138.5 416.2h1.4M139.7 416.4h1.4M141.1 416.6h1.4M141.4 416.3h1.4M143.3 416.9h1.4M143.6 416.1h1.4M144.7 416.4h1.4M145.6 416.9h1.4M146.8 416.5h1.4M148.2 416.9h1.4M148.5 416.5h1.4M150.1 416.3h1.4M150.6 416.1h1.4M151.5 416.4h1.4M152.9 416.9h1.4M155.4 416.2h1.4M167.0 417.0h1.4M81.9 417.6h1.4M87.5 417.7h1.4M96.9 417.8h1.4M117.1 417.7h1.4M119.9 417.3h1.4M120.3 417.3h1.4M123.5 417.2h1.4M124.4 417.2h1.4M128.1 417.9h1.4M128.8 417.7h1.4M132.1 417.6h1.4M132.5 417.1h1.4M133.4 417.7h1.4M134.9 417.1h1.4M135.8 417.5h1.4M136.4 417.7h1.4M138.1 417.9h1.4M139.1 417.7h1.4M139.4 417.9h1.4M140.9 417.6h1.4M141.7 418.0h1.4M143.8 417.0h1.4M144.4 417.4h1.4M146.1 417.5h1.4M147.1 417.2h1.4M148.0 417.6h1.4M149.3 417.5h1.4M151.9 418.0h1.4M153.7 417.1h1.4M154.4 417.5h1.4M155.6 417.6h1.4M157.9 417.7h1.4M159.5 417.6h1.4M162.1 418.0h1.4M164.0 417.2h1.4M164.7 417.2h1.4M165.5 417.1h1.4M58.9 418.8h1.4M85.9 419.0h1.4M94.3 418.2h1.4M100.7 418.2h1.4M104.9 419.0h1.4M105.4 418.4h1.4M112.2 418.7h1.4M112.3 418.5h1.4M116.6 418.2h1.4M119.5 418.1h1.4M120.3 418.0h1.4M121.5 418.5h1.4M125.1 418.3h1.4M125.5 418.1h1.4M127.1 418.9h1.4M128.8 418.1h1.4M130.6 418.3h1.4M132.8 418.4h1.4M134.1 418.3h1.4M134.5 418.7h1.4M135.8 418.3h1.4M137.2 418.9h1.4M137.5 418.1h1.4M138.5 418.1h1.4M139.4 418.9h1.4M141.1 418.9h1.4M142.5 418.3h1.4M143.8 418.5h1.4M145.0 418.3h1.4M145.5 418.4h1.4M147.2 418.3h1.4M148.0 418.4h1.4M149.1 418.4h1.4M150.2 418.3h1.4M150.7 418.8h1.4M152.3 418.2h1.4M153.3 418.5h1.4M155.3 418.4h1.4M156.5 419.0h1.4M157.5 418.5h1.4M161.1 418.9h1.4M162.2 418.5h1.4M58.6 419.7h1.4M63.4 419.5h1.4M72.9 419.4h1.4M76.9 419.9h1.4M77.6 419.6h1.4M79.3 419.9h1.4M82.3 419.7h1.4M90.7 419.7h1.4M92.4 419.8h1.4M94.0 419.4h1.4M97.1 419.3h1.4M98.4 419.9h1.4M100.3 419.8h1.4M101.7 419.5h1.4M104.2 419.8h1.4M105.7 419.4h1.4M108.1 419.4h1.4M110.6 419.5h1.4M115.4 419.7h1.4M116.9 419.0h1.4M118.4 419.3h1.4M119.7 419.5h1.4M121.3 419.7h1.4M123.2 419.4h1.4M124.7 419.4h1.4M130.8 419.5h1.4M131.4 420.0h1.4M135.2 419.2h1.4M135.9 419.8h1.4M137.2 419.5h1.4M137.6 419.7h1.4M138.8 419.6h1.4M140.1 419.5h1.4M140.7 419.1h1.4M143.0 419.6h1.4M143.5 419.1h1.4M144.8 419.9h1.4M145.8 419.8h1.4M146.6 419.8h1.4M147.5 419.1h1.4M148.9 419.9h1.4M149.5 419.8h1.4M150.4 419.4h1.4M151.5 419.3h1.4M152.8 419.3h1.4M154.0 419.6h1.4M155.9 419.1h1.4M156.4 420.0h1.4M157.7 419.3h1.4M159.4 419.9h1.4M161.0 419.3h1.4M163.7 419.8h1.4M168.1 419.7h1.4M56.6 420.4h1.4M63.7 420.1h1.4M73.4 420.4h1.4M78.3 420.9h1.4M85.5 420.8h1.4M86.9 420.1h1.4M88.4 420.3h1.4M91.7 420.4h1.4M93.9 420.2h1.4M95.5 420.8h1.4M101.5 420.9h1.4M104.7 420.5h1.4M120.7 420.8h1.4M123.3 420.5h1.4M124.8 420.1h1.4M126.5 420.1h1.4M128.2 420.4h1.4M128.6 420.7h1.4M129.6 420.8h1.4M130.5 420.4h1.4M131.8 420.0h1.4M132.5 420.4h1.4M134.3 420.3h1.4M135.6 420.2h1.4M137.1 420.6h1.4M138.2 420.4h1.4M138.8 420.2h1.4M140.0 420.2h1.4M142.0 420.2h1.4M142.9 420.5h1.4M143.4 420.9h1.4M144.5 420.5h1.4M145.9 420.6h1.4M146.5 420.7h1.4M147.4 420.3h1.4M149.0 420.5h1.4M150.2 420.4h1.4M150.9 420.1h1.4M151.5 420.4h1.4M152.9 420.3h1.4M153.5 420.8h1.4M154.8 420.6h1.4M156.0 421.0h1.4M156.7 420.1h1.4M160.2 420.7h1.4M161.4 420.4h1.4M162.9 420.3h1.4M78.4 421.9h1.4M79.4 421.6h1.4M85.9 421.4h1.4M87.0 421.2h1.4M88.0 421.3h1.4M89.6 421.1h1.4M91.5 421.0h1.4M93.0 421.6h1.4M93.5 421.1h1.4M96.0 421.2h1.4M97.2 421.0h1.4M98.1 421.7h1.4M99.0 421.5h1.4M104.7 421.6h1.4M106.2 421.7h1.4M107.6 421.7h1.4M108.4 421.7h1.4M116.4 421.6h1.4M117.4 421.5h1.4M119.2 421.9h1.4M119.7 421.6h1.4M120.7 421.1h1.4M122.5 421.3h1.4M132.2 421.7h1.4M132.4 421.6h1.4M133.8 421.2h1.4M135.8 421.1h1.4M137.1 421.3h1.4M138.2 421.1h1.4M138.5 421.2h1.4M140.2 421.6h1.4M140.5 421.4h1.4M141.8 421.6h1.4M142.4 421.1h1.4M145.1 422.0h1.4M146.2 421.1h1.4M146.5 421.8h1.4M147.4 421.2h1.4M148.6 421.7h1.4M151.2 421.2h1.4M151.5 421.2h1.4M152.8 421.6h1.4M155.0 421.0h1.4M157.1 421.7h1.4M158.2 421.6h1.4M162.6 421.5h1.4M163.7 421.9h1.4M165.8 421.1h1.4M66.1 422.1h1.4M71.3 423.0h1.4M81.3 422.2h1.4M81.7 422.7h1.4M84.8 422.3h1.4M93.0 422.9h1.4M95.9 422.8h1.4M99.8 422.6h1.4M102.5 422.4h1.4M106.7 422.6h1.4M109.2 422.4h1.4M111.5 422.4h1.4M115.5 422.7h1.4M116.5 422.9h1.4M117.6 422.8h1.4M119.3 422.6h1.4M120.8 422.3h1.4M123.6 422.9h1.4M126.5 422.0h1.4M127.8 422.5h1.4M130.8 422.9h1.4M133.3 422.6h1.4M133.7 422.6h1.4M135.4 422.7h1.4M137.3 422.3h1.4M137.5 422.1h1.4M139.1 422.2h1.4M139.7 422.1h1.4M140.5 422.7h1.4M141.6 422.2h1.4M144.3 422.4h1.4M144.5 422.3h1.4M145.4 422.3h1.4M148.2 422.5h1.4M149.2 422.8h1.4M149.8 422.1h1.4M150.9 422.6h1.4M151.4 422.4h1.4M153.2 422.9h1.4M155.8 422.3h1.4M156.5 422.7h1.4M158.6 422.8h1.4M159.3 422.1h1.4M161.1 422.5h1.4M164.6 422.5h1.4M73.4 423.1h1.4M76.8 423.0h1.4M78.2 423.7h1.4M80.4 423.3h1.4M82.3 423.8h1.4M82.4 423.1h1.4M88.1 423.1h1.4M89.8 423.0h1.4M92.0 423.7h1.4M95.1 423.7h1.4M95.8 423.1h1.4M96.9 423.2h1.4M113.5 423.8h1.4M116.6 423.2h1.4M120.0 423.1h1.4M122.7 423.7h1.4M124.1 423.2h1.4M125.0 423.4h1.4M128.8 423.5h1.4M129.6 423.3h1.4M131.3 423.9h1.4M131.7 423.8h1.4M133.0 423.0h1.4M133.9 423.4h1.4M134.6 423.6h1.4M136.1 423.2h1.4M136.7 423.2h1.4M138.2 423.8h1.4M139.0 423.7h1.4M140.1 423.9h1.4M140.9 423.1h1.4M141.4 423.7h1.4M142.4 423.3h1.4M143.7 423.7h1.4M145.3 423.9h1.4M145.8 423.9h1.4M146.7 423.8h1.4M147.4 423.5h1.4M149.2 424.0h1.4M149.9 423.4h1.4M152.0 423.9h1.4M152.7 423.4h1.4M154.3 423.3h1.4M157.6 423.7h1.4M159.5 423.2h1.4M163.1 423.8h1.4M65.9 424.2h1.4M77.1 424.8h1.4M78.5 424.9h1.4M91.7 424.3h1.4M95.6 424.1h1.4M97.6 424.4h1.4M99.0 424.3h1.4M102.2 424.3h1.4M105.2 424.8h1.4M111.7 424.6h1.4M112.8 424.6h1.4M116.2 424.7h1.4M117.2 424.2h1.4M120.7 425.0h1.4M123.6 424.5h1.4M125.4 424.5h1.4M127.0 424.9h1.4M128.0 424.8h1.4M129.4 424.9h1.4M130.9 424.2h1.4M136.2 424.1h1.4M136.4 424.2h1.4M137.6 424.2h1.4M139.1 424.9h1.4M139.6 424.5h1.4M140.3 424.4h1.4M141.5 424.5h1.4M142.7 424.9h1.4M143.4 424.7h1.4M144.8 424.4h1.4M146.2 424.3h1.4M147.2 424.3h1.4M147.8 425.0h1.4M149.7 424.8h1.4M150.9 425.0h1.4M152.3 424.8h1.4M152.3 424.6h1.4M153.7 424.5h1.4M154.8 424.8h1.4M156.2 424.4h1.4M156.8 424.3h1.4M158.2 424.3h1.4M161.3 424.8h1.4M58.6 425.3h1.4M74.3 425.8h1.4M76.1 425.9h1.4M86.6 426.0h1.4M88.2 425.2h1.4M92.4 425.3h1.4M102.7 425.9h1.4M104.4 425.7h1.4M111.6 425.6h1.4M114.8 425.7h1.4M116.1 426.0h1.4M118.3 425.3h1.4M118.5 425.1h1.4M119.9 425.6h1.4M122.5 425.7h1.4M125.0 425.3h1.4M126.0 425.8h1.4M128.4 425.6h1.4M131.1 425.5h1.4M132.8 425.3h1.4M134.8 425.3h1.4M135.5 425.1h1.4M138.2 425.6h1.4M138.4 425.7h1.4M140.8 425.2h1.4M141.3 426.0h1.4M142.7 425.8h1.4M144.3 425.9h1.4M144.8 425.5h1.4M145.9 425.4h1.4M146.7 426.0h1.4M148.2 426.0h1.4M149.1 425.1h1.4M150.0 425.7h1.4M151.2 425.2h1.4M151.8 425.6h1.4M152.7 425.1h1.4M154.3 425.8h1.4M155.2 425.8h1.4M155.8 425.5h1.4M157.5 425.3h1.4M159.0 425.2h1.4M159.9 425.7h1.4M161.9 425.4h1.4M164.5 425.2h1.4M166.2 425.0h1.4M167.4 425.5h1.4M59.8 426.2h1.4M75.4 426.3h1.4M77.7 426.1h1.4M80.0 426.5h1.4M81.1 427.0h1.4M83.5 426.4h1.4M84.7 426.5h1.4M89.3 426.0h1.4M92.7 427.0h1.4M98.3 426.4h1.4M103.5 426.5h1.4M107.1 426.3h1.4M112.7 426.9h1.4M114.7 426.4h1.4M120.3 426.1h1.4M120.8 426.9h1.4M123.3 426.9h1.4M128.5 426.2h1.4M130.1 426.6h1.4M130.4 427.0h1.4M131.7 426.6h1.4M133.6 427.0h1.4M136.2 426.1h1.4M136.6 426.2h1.4M137.3 426.4h1.4M138.6 426.8h1.4M139.9 426.2h1.4M141.1 426.7h1.4M143.1 426.1h1.4M143.6 426.3h1.4M144.7 426.1h1.4M145.9 427.0h1.4M146.4 426.3h1.4M148.1 426.1h1.4M148.8 426.2h1.4M149.6 426.9h1.4M152.8 426.2h1.4M153.7 426.8h1.4M154.9 427.0h1.4M155.6 426.1h1.4M156.9 426.6h1.4M158.3 426.6h1.4M158.9 426.9h1.4M159.9 426.3h1.4M160.5 426.4h1.4M162.8 426.1h1.4M163.5 426.1h1.4M65.9 427.9h1.4M70.6 427.7h1.4M76.0 427.7h1.4M81.4 427.4h1.4M83.0 427.0h1.4M88.7 427.4h1.4M100.3 427.3h1.4M107.9 427.8h1.4M113.9 427.4h1.4M115.1 427.0h1.4M115.5 427.9h1.4M117.0 427.4h1.4M118.6 427.4h1.4M119.4 427.6h1.4M120.5 427.6h1.4M123.5 427.5h1.4M125.4 427.2h1.4M127.1 427.4h1.4M127.3 427.9h1.4M132.8 427.9h1.4M133.4 427.5h1.4M135.1 427.0h1.4M136.1 427.8h1.4M136.8 427.0h1.4M138.8 427.4h1.4M139.9 428.0h1.4M141.1 427.8h1.4M141.3 427.5h1.4M143.8 427.4h1.4M144.8 427.8h1.4M145.8 427.6h1.4M147.0 427.1h1.4M149.1 427.2h1.4M149.4 427.9h1.4M151.3 427.4h1.4M152.1 427.4h1.4M153.0 427.3h1.4M154.2 427.0h1.4M156.8 427.2h1.4M160.9 427.0h1.4M162.9 427.6h1.4M165.1 427.4h1.4M68.3 428.7h1.4M70.2 428.6h1.4M81.7 428.7h1.4M82.6 428.7h1.4M83.7 428.7h1.4M85.6 428.2h1.4M90.1 428.8h1.4M93.0 428.1h1.4M101.4 429.0h1.4M106.7 428.9h1.4M112.8 429.0h1.4M113.5 428.2h1.4M116.2 428.9h1.4M118.2 428.3h1.4M119.2 428.2h1.4M122.3 428.4h1.4M130.0 428.4h1.4M131.0 428.8h1.4M132.1 428.6h1.4M134.8 428.6h1.4M136.5 428.1h1.4M137.7 428.7h1.4M138.7 428.7h1.4M139.5 428.0h1.4M140.7 428.5h1.4M141.7 428.9h1.4M142.8 428.4h1.4M144.2 428.3h1.4M144.9 428.5h1.4M146.1 428.7h1.4M147.4 428.7h1.4M148.8 428.5h1.4M150.2 428.8h1.4M150.6 428.7h1.4M152.1 428.8h1.4M153.0 428.3h1.4M154.7 428.9h1.4M156.2 428.5h1.4M160.5 428.9h1.4M161.3 428.3h1.4M168.1 428.3h1.4M58.4 429.6h1.4M71.5 429.4h1.4M76.0 429.9h1.4M85.3 429.2h1.4M88.1 430.0h1.4M89.3 429.2h1.4M95.3 429.7h1.4M95.9 429.8h1.4M96.4 429.1h1.4M101.4 429.3h1.4M103.7 429.2h1.4M104.5 429.3h1.4M111.0 429.3h1.4M111.9 429.2h1.4M116.0 429.6h1.4M118.1 429.1h1.4M119.1 429.8h1.4M120.1 429.4h1.4M122.5 429.3h1.4M124.1 429.8h1.4M125.5 429.8h1.4M128.7 429.6h1.4M132.0 429.1h1.4M133.2 429.5h1.4M133.4 429.5h1.4M135.1 429.7h1.4M136.1 429.7h1.4M137.2 429.4h1.4M137.9 429.4h1.4M138.9 429.5h1.4M139.6 429.5h1.4M140.5 429.7h1.4M141.9 429.3h1.4M143.2 430.0h1.4M143.5 429.0h1.4M145.0 429.1h1.4M145.4 429.4h1.4M146.6 429.6h1.4M148.0 429.5h1.4M149.6 429.6h1.4M150.8 429.5h1.4M151.6 429.2h1.4M152.4 429.2h1.4M154.1 429.3h1.4M155.5 429.6h1.4M157.2 429.7h1.4M158.1 429.2h1.4M158.6 429.7h1.4M63.4 430.7h1.4M79.2 430.9h1.4M86.3 430.8h1.4M103.0 430.8h1.4M105.3 430.6h1.4M108.5 430.1h1.4M116.6 430.1h1.4M117.9 430.8h1.4M120.2 430.9h1.4M123.4 430.9h1.4M130.6 430.3h1.4M134.2 430.8h1.4M136.9 430.5h1.4M137.6 430.8h1.4M138.5 430.3h1.4M140.3 430.1h1.4M141.3 430.2h1.4M141.4 430.4h1.4M142.5 430.8h1.4M144.0 430.4h1.4M144.4 430.2h1.4M146.0 430.6h1.4M147.1 430.4h1.4M149.0 430.4h1.4M150.1 430.4h1.4M151.7 430.7h1.4M153.2 430.4h1.4M154.0 430.1h1.4M154.6 430.5h1.4M155.7 430.7h1.4M157.1 430.2h1.4M158.8 430.2h1.4M160.4 430.9h1.4M162.7 430.5h1.4M166.8 430.1h1.4M75.0 431.6h1.4M87.9 432.0h1.4M88.6 431.7h1.4M91.7 431.7h1.4M94.5 431.8h1.4M99.0 431.6h1.4M103.3 431.9h1.4M108.8 431.8h1.4M111.0 431.2h1.4M112.9 431.8h1.4M113.9 431.2h1.4M116.0 431.8h1.4M119.3 431.3h1.4M121.0 431.9h1.4M122.2 431.3h1.4M126.1 431.6h1.4M127.8 431.4h1.4M132.2 431.1h1.4M134.1 431.5h1.4M135.2 431.3h1.4M136.1 431.6h1.4M136.6 431.6h1.4M138.2 431.3h1.4M138.6 431.2h1.4M139.4 432.0h1.4M140.4 431.5h1.4M141.3 431.1h1.4M142.6 431.1h1.4M144.0 431.7h1.4M145.3 431.1h1.4M145.5 431.9h1.4M147.0 431.1h1.4M147.5 431.2h1.4M149.9 431.2h1.4M150.4 431.4h1.4M152.3 431.1h1.4M153.2 431.7h1.4M154.1 431.7h1.4M154.6 431.2h1.4M156.1 431.1h1.4M156.4 431.0h1.4M159.2 431.2h1.4M164.6 431.1h1.4M56.0 432.5h1.4M81.3 433.0h1.4M83.4 432.2h1.4M87.3 432.9h1.4M92.3 432.6h1.4M95.1 432.2h1.4M96.6 432.7h1.4M97.6 432.6h1.4M100.4 432.9h1.4M103.1 433.0h1.4M105.0 432.0h1.4M110.7 432.2h1.4M112.1 432.8h1.4M119.9 432.9h1.4M123.2 432.4h1.4M131.6 432.0h1.4M132.6 432.3h1.4M133.8 432.2h1.4M135.0 432.0h1.4M136.2 432.6h1.4M137.2 432.1h1.4M138.3 432.0h1.4M138.9 432.3h1.4M139.6 432.7h1.4M140.7 432.3h1.4M141.4 432.5h1.4M142.4 432.7h1.4M143.9 432.8h1.4M145.2 432.7h1.4M145.5 432.8h1.4M146.9 432.2h1.4M148.3 432.5h1.4M150.3 432.4h1.4M154.9 432.6h1.4M155.9 432.8h1.4M156.7 432.7h1.4M158.2 432.0h1.4M158.7 432.6h1.4M159.8 433.0h1.4M160.7 432.8h1.4M164.9 432.9h1.4M168.1 432.5h1.4M71.1 433.8h1.4M80.3 433.3h1.4M82.3 433.2h1.4M82.7 433.9h1.4M86.3 433.5h1.4M88.7 433.2h1.4M94.2 433.0h1.4M98.6 433.7h1.4M108.1 433.5h1.4M112.2 433.9h1.4M113.9 433.5h1.4M114.4 434.0h1.4M116.3 433.9h1.4M117.4 433.6h1.4M122.1 433.4h1.4M124.4 433.6h1.4M127.0 433.6h1.4M131.0 433.4h1.4M132.2 433.1h1.4M133.9 433.3h1.4M134.9 433.0h1.4M135.9 433.1h1.4M137.3 433.9h1.4M137.4 433.1h1.4M139.1 433.7h1.4M141.4 433.0h1.4M142.5 433.8h1.4M144.0 433.0h1.4M145.9 433.1h1.4M146.3 433.3h1.4M147.4 433.8h1.4M149.2 433.8h1.4M149.9 433.4h1.4M151.1 434.0h1.4M151.7 433.6h1.4M152.8 433.6h1.4M153.8 433.2h1.4M155.0 433.1h1.4M155.5 433.8h1.4M158.1 433.6h1.4M158.8 433.6h1.4M160.9 433.2h1.4M165.6 433.6h1.4M64.6 434.9h1.4M68.1 434.8h1.4M75.0 434.3h1.4M75.4 435.0h1.4M76.9 435.0h1.4M80.4 434.4h1.4M81.7 434.3h1.4M82.6 434.7h1.4M84.4 434.7h1.4M92.1 434.4h1.4M94.5 434.8h1.4M100.2 434.1h1.4M100.7 434.8h1.4M101.7 434.9h1.4M104.2 434.6h1.4M109.0 434.3h1.4M110.6 434.1h1.4M111.7 435.0h1.4M113.3 434.6h1.4M116.3 434.5h1.4M118.4 434.3h1.4M119.8 435.0h1.4M120.7 434.5h1.4M124.6 434.8h1.4M125.8 434.0h1.4M126.6 434.3h1.4M128.7 434.9h1.4M129.8 434.1h1.4M131.1 434.9h1.4M131.8 434.5h1.4M134.7 434.7h1.4M137.0 434.4h1.4M137.4 434.1h1.4M138.8 434.5h1.4M140.5 434.0h1.4M141.9 434.9h1.4M143.2 434.7h1.4M143.6 434.3h1.4M145.2 434.1h1.4M145.4 434.6h1.4M147.1 434.5h1.4M147.7 434.0h1.4M148.6 434.6h1.4M150.3 434.7h1.4M150.3 434.8h1.4M152.3 434.7h1.4M152.4 434.4h1.4M154.2 434.2h1.4M156.8 434.3h1.4M159.1 434.1h1.4M160.0 434.5h1.4M160.4 434.4h1.4M162.7 434.8h1.4M78.4 435.0h1.4M82.1 435.4h1.4M84.5 435.1h1.4M89.2 435.2h1.4M98.7 435.7h1.4M105.1 435.1h1.4M112.3 435.6h1.4M113.1 435.8h1.4M114.1 435.9h1.4M117.3 435.7h1.4M117.3 435.0h1.4M119.1 435.4h1.4M119.7 435.2h1.4M123.1 435.5h1.4M123.6 435.0h1.4M125.1 436.0h1.4M125.7 435.4h1.4M126.6 435.9h1.4M127.5 435.1h1.4M128.3 435.9h1.4M129.3 435.0h1.4M131.6 435.6h1.4M132.4 435.7h1.4M134.4 435.8h1.4M137.5 435.5h1.4M139.2 435.5h1.4M140.1 435.8h1.4M140.6 435.5h1.4M141.5 435.6h1.4M143.7 435.2h1.4M145.8 435.5h1.4M146.5 435.0h1.4M148.2 435.3h1.4M148.6 435.4h1.4M149.7 435.1h1.4M150.6 435.3h1.4M155.0 435.6h1.4M155.6 435.4h1.4M156.7 435.9h1.4M157.5 435.5h1.4M159.8 435.4h1.4M161.1 435.3h1.4M70.9 436.7h1.4M77.2 436.0h1.4M77.5 436.7h1.4M94.6 436.2h1.4M96.2 436.6h1.4M98.0 436.6h1.4M101.0 436.9h1.4M103.0 436.7h1.4M104.3 436.1h1.4M104.6 436.9h1.4M107.0 436.5h1.4M108.1 436.6h1.4M112.9 436.9h1.4M115.3 436.0h1.4M118.7 436.1h1.4M120.0 436.8h1.4M121.2 436.3h1.4M121.3 436.8h1.4M124.4 436.5h1.4M129.4 436.2h1.4M133.2 436.6h1.4M134.6 436.7h1.4M136.2 436.4h1.4M137.0 436.9h1.4M138.3 437.0h1.4M141.3 436.7h1.4M141.8 437.0h1.4M142.6 436.7h1.4M143.9 436.4h1.4M144.5 436.2h1.4M145.7 436.8h1.4M146.5 436.9h1.4M147.5 436.8h1.4M149.7 436.6h1.4M151.0 436.3h1.4M151.9 436.6h1.4M152.6 436.9h1.4M153.3 436.9h1.4M154.4 436.7h1.4M155.4 436.8h1.4M157.2 436.9h1.4M157.9 436.9h1.4M158.6 436.2h1.4M162.0 436.9h1.4M71.2 437.3h1.4M76.4 437.6h1.4M80.2 437.3h1.4M80.7 437.5h1.4M81.5 438.0h1.4M87.9 437.4h1.4M91.2 437.7h1.4M94.9 437.1h1.4M97.1 437.2h1.4M98.5 437.9h1.4M106.9 437.7h1.4M108.3 437.4h1.4M112.7 437.5h1.4M116.2 437.2h1.4M120.9 437.5h1.4M121.8 437.5h1.4M123.2 437.2h1.4M125.4 437.7h1.4M129.4 437.5h1.4M130.7 437.4h1.4M132.3 437.1h1.4M133.0 437.2h1.4M133.4 437.9h1.4M136.3 437.7h1.4M136.5 437.2h1.4M137.7 437.9h1.4M139.2 437.5h1.4M140.1 437.4h1.4M140.6 437.3h1.4M142.0 437.9h1.4M142.9 437.2h1.4M143.9 437.5h1.4M145.1 437.1h1.4M146.0 437.1h1.4M146.7 437.2h1.4M147.4 437.2h1.4M148.5 437.8h1.4M149.4 437.4h1.4M150.7 437.1h1.4M151.7 437.3h1.4M152.6 438.0h1.4M153.9 437.0h1.4M154.6 437.9h1.4M156.2 437.7h1.4M157.6 437.0h1.4M158.6 437.7h1.4M160.5 437.7h1.4M161.4 437.6h1.4M167.9 437.7h1.4M62.6 438.4h1.4M69.3 438.0h1.4M81.6 438.8h1.4M83.1 438.8h1.4M86.1 438.4h1.4M90.7 438.0h1.4M92.7 438.1h1.4M95.2 438.6h1.4M96.2 438.4h1.4M96.7 438.7h1.4M100.2 438.5h1.4M100.9 438.8h1.4M102.6 438.5h1.4M103.7 438.9h1.4M106.2 438.9h1.4M107.6 438.3h1.4M109.2 438.1h1.4M116.5 439.0h1.4M118.6 438.9h1.4M124.2 438.9h1.4M124.9 439.0h1.4M125.4 438.8h1.4M127.8 438.6h1.4M130.9 438.6h1.4M132.5 438.8h1.4M134.6 438.3h1.4M135.4 439.0h1.4M137.0 438.6h1.4M137.5 438.8h1.4M138.9 438.7h1.4M139.8 438.9h1.4M141.5 438.0h1.4M143.1 438.2h1.4M143.6 438.7h1.4M144.7 438.3h1.4M146.3 438.6h1.4M148.1 438.1h1.4M149.0 438.0h1.4M151.1 438.3h1.4M152.0 438.8h1.4M152.4 438.7h1.4M153.6 438.6h1.4M154.9 438.4h1.4M155.6 438.1h1.4M159.3 438.4h1.4M161.0 438.0h1.4M161.5 438.5h1.4M162.8 438.4h1.4M165.1 438.9h1.4M62.7 439.6h1.4M74.2 439.5h1.4M76.1 439.6h1.4M79.3 439.3h1.4M81.7 439.1h1.4M84.6 439.2h1.4M87.3 439.7h1.4M89.3 439.6h1.4M94.7 439.0h1.4M97.4 439.9h1.4M99.0 439.6h1.4M102.0 439.6h1.4M107.9 439.4h1.4M110.6 439.4h1.4M111.4 439.6h1.4M112.4 439.7h1.4M119.0 439.4h1.4M120.7 439.4h1.4M123.0 439.3h1.4M125.4 439.5h1.4M128.4 439.2h1.4M131.6 439.8h1.4M133.4 439.1h1.4M135.2 439.1h1.4M135.6 439.0h1.4M136.5 439.5h1.4M138.1 439.0h1.4M138.8 439.2h1.4M140.3 439.7h1.4M141.6 439.1h1.4M143.0 439.6h1.4M143.9 439.8h1.4M144.9 439.2h1.4M146.7 439.7h1.4M148.7 439.5h1.4M149.8 439.5h1.4M150.6 439.4h1.4M151.9 439.6h1.4M152.7 439.5h1.4M154.6 439.8h1.4M157.4 439.1h1.4M160.1 439.6h1.4M160.4 439.5h1.4M162.3 439.1h1.4M166.0 439.6h1.4M69.1 440.8h1.4M69.4 440.0h1.4M79.8 440.5h1.4M87.9 440.4h1.4M89.9 440.7h1.4M92.7 440.7h1.4M95.3 440.6h1.4M100.0 440.6h1.4M101.8 440.0h1.4M104.6 440.8h1.4M108.8 440.3h1.4M113.0 440.8h1.4M113.7 440.2h1.4M114.9 440.4h1.4M116.1 440.6h1.4M117.9 440.4h1.4M119.9 440.1h1.4M121.2 440.4h1.4M125.2 440.3h1.4M126.1 440.7h1.4M128.0 440.4h1.4M129.7 440.3h1.4M131.1 440.9h1.4M131.4 440.0h1.4M133.6 440.7h1.4M134.7 440.3h1.4M136.4 440.0h1.4M137.9 440.2h1.4M139.3 440.9h1.4M140.1 440.5h1.4M141.8 440.7h1.4M142.8 440.8h1.4M144.2 440.4h1.4M147.3 440.5h1.4M149.2 440.9h1.4M149.7 440.7h1.4M150.3 440.4h1.4M152.3 440.3h1.4M153.2 440.3h1.4M154.1 440.6h1.4M154.4 440.8h1.4M155.8 440.9h1.4M157.2 440.2h1.4M158.4 440.7h1.4M160.1 440.5h1.4M163.9 440.1h1.4M64.5 441.9h1.4M67.3 441.8h1.4M68.6 442.0h1.4M72.5 441.2h1.4M77.1 441.9h1.4M82.2 441.3h1.4M84.1 441.2h1.4M86.7 441.8h1.4M88.7 441.9h1.4M89.7 441.1h1.4M96.9 441.5h1.4M100.0 441.2h1.4M100.5 441.4h1.4M104.4 441.9h1.4M115.8 441.9h1.4M117.1 442.0h1.4M120.7 441.6h1.4M124.5 441.2h1.4M125.4 441.0h1.4M127.7 441.8h1.4M129.6 441.6h1.4M132.6 441.5h1.4M133.6 441.3h1.4M137.9 441.4h1.4M139.9 441.7h1.4M140.5 441.1h1.4M142.1 441.4h1.4M142.6 441.8h1.4M143.3 441.0h1.4M146.3 441.1h1.4M146.4 441.4h1.4M147.6 441.7h1.4M148.5 441.1h1.4M150.0 441.2h1.4M150.9 441.5h1.4M151.7 441.1h1.4M152.7 441.3h1.4M153.9 441.9h1.4M155.0 441.9h1.4M157.0 441.7h1.4M158.1 441.3h1.4M162.6 441.6h1.4M58.5 442.3h1.4M62.7 442.3h1.4M65.1 442.0h1.4M69.9 442.1h1.4M73.8 442.3h1.4M75.0 442.3h1.4M78.1 442.3h1.4M79.2 442.3h1.4M81.3 442.3h1.4M83.3 442.3h1.4M87.7 442.1h1.4M89.0 442.3h1.4M90.5 442.0h1.4M91.9 442.3h1.4M92.6 442.3h1.4M105.2 442.3h1.4M107.7 442.3h1.4M116.7 442.3h1.4M120.0 442.1h1.4M122.3 442.3h1.4M125.3 442.2h1.4M128.6 442.2h1.4M129.9 442.1h1.4M131.7 442.3h1.4M135.0 442.3h1.4M137.1 442.3h1.4M137.6 442.3h1.4M138.9 442.3h1.4M139.8 442.3h1.4M140.8 442.3h1.4M142.5 442.2h1.4M143.5 442.3h1.4M145.1 442.3h1.4M145.4 442.3h1.4M146.4 442.3h1.4M148.3 442.3h1.4M148.8 442.3h1.4M149.5 442.2h1.4M150.5 442.2h1.4M151.9 442.1h1.4M152.5 442.3h1.4M153.7 442.3h1.4M154.8 442.3h1.4M155.8 442.1h1.4M156.3 442.3h1.4M157.3 442.3h1.4M160.2 442.3h1.4M163.3 442.3h1.4M163.4 442.3h1.4M166.1 442.3h1.4" stroke="#111" stroke-width="1.40"/><rect x="57.5" y="292.5" width="10.0" height="16.0" fill="#fff"/><text x="60.20" y="306.30" font-size="16.5" text-anchor="start" font-weight="normal" font-family="Liberation Sans, sans-serif">i</text><rect x="112.5" y="292.5" width="13.0" height="16.0" fill="#fff"/><text x="114.90" y="306.30" font-size="16.5" text-anchor="start" font-weight="normal" font-family="Liberation Sans, sans-serif">ii</text><rect x="57.0" y="395.0" width="14.0" height="16.0" fill="#fff"/><text x="58.30" y="409.00" font-size="16.5" text-anchor="start" font-weight="normal" font-family="Liberation Sans, sans-serif">iii</text><rect x="112.0" y="395.0" width="15.0" height="16.0" fill="#fff"/><text x="112.90" y="409.00" font-size="16.5" text-anchor="start" font-weight="normal" font-family="Liberation Sans, sans-serif">iv</text><path d="M54.7 271.3H229.2V443.2" fill="none" stroke="#1a1a1a" stroke-width="1.2"/><path d="M172.3 443.2H229.2" stroke="#777" stroke-width="1.1"/><path d="M54.7 443.2H172.3" stroke="#111" stroke-width="1.3"/><path d="M54.7 271.3V443.2" stroke="#111" stroke-width="1.5"/><path d="M55.6 291.0H110.8" stroke="#222" stroke-width="1.3"/><path d="M110.8 291.0H172.3" stroke="#666" stroke-width="1.2"/><path d="M55.6 393.8H172.3" stroke="#555" stroke-width="1.3"/><path d="M110.8 291.0V443.2M172.3 290.4V443.2" fill="none" stroke="#111" stroke-width="1.3"/><path d="M294.7 84.8 L295.9 83.8 L297.0 83.6 L298.0 83.6 L299.0 83.9 L300.0 85.1 L301.0 85.6 L302.0 84.9 L303.0 84.3 L304.0 83.6 L305.0 84.5 L306.0 84.4 L307.0 83.6 L308.0 83.0 L309.0 82.7 L310.0 84.8 L311.0 85.3 L312.0 85.9 L313.0 85.6 L314.0 84.0 L315.0 83.9 L316.0 85.2 L317.0 86.1 L318.0 87.0 L319.5 87.9 L320.5 83.5 L321.5 82.4 L322.5 80.4 L323.8 79.4 L325.0 78.2 L326.0 80.2 L327.5 74.2 L329.0 77.2 L330.0 72.6 L331.5 73.4 L332.5 69.7 L333.8 73.1 L335.6 68.3 L336.5 71.1 L337.5 69.5 L338.8 63.2 L340.0 73.6 L341.9 77.5 L343.8 83.7 L345.6 88.4 L347.5 92.6 L347.5 92.6 L294.7 92.6Z" fill="#c3c3c3" stroke="none"/><path d="M294.7 83.5 L295.9 82.5 L297.0 82.3 L298.0 82.3 L299.0 82.6 L300.0 83.8 L301.0 84.3 L302.0 83.6 L303.0 83.0 L304.0 82.3 L305.0 83.2 L306.0 83.1 L307.0 82.3 L308.0 81.7 L309.0 81.4 L310.0 83.5 L311.0 84.0 L312.0 84.6 L313.0 84.3 L314.0 82.7 L315.0 82.6 L316.0 83.9 L317.0 84.8 L318.0 85.7 L319.5 86.6 L320.5 82.2 L321.5 81.1 L322.5 79.1 L323.8 78.1 L325.0 76.9 L326.0 78.9 L327.5 72.9 L329.0 75.9 L330.0 71.3 L331.5 72.1 L332.5 68.4 L333.8 71.8 L335.6 67.0 L336.5 69.8 L337.5 68.2 L338.8 61.9 L340.0 72.3 L341.9 76.2 L343.8 82.4 L345.6 87.1 L347.5 92.6" fill="none" stroke="#1a1a1a" stroke-width="1.1" stroke-linejoin="round"/><path d="M295.0 68.2 L295.6 64.3 L296.2 72.1 L297.0 69.7 L297.5 78.4 L298.8 72.0 L299.4 67.6 L300.0 82.4 L301.0 74.3 L301.9 71.9 L303.1 84.5 L304.4 65.4 L305.6 73.4 L306.3 77.8 L306.9 77.0 L308.1 67.6 L309.0 75.9 L310.0 80.1 L311.0 74.2 L311.9 73.7 L312.8 79.2 L313.8 70.7 L314.6 76.8 L315.6 77.6 L316.9 78.6 L317.8 78.6 L318.8 86.3 L320.0 88.7 L321.2 91.0 L322.1 91.8 L323.0 92.6" fill="none" stroke="#111" stroke-width="1.3" stroke-linejoin="miter" stroke-miterlimit="2"/><path d="M295.0 70.5 L295.6 63.5 L296.2 73.5 L297.0 66.9 L297.5 79.7 L298.8 77.3 L299.4 72.1 L300.0 77.6 L301.0 76.1 L301.9 72.5 L303.1 79.2 L304.4 68.8 L305.6 74.5 L306.3 74.8 L306.9 78.5 L308.1 70.7 L309.0 74.2 L310.0 76.0 L311.0 75.2 L311.9 71.7 L312.8 79.3 L313.8 74.9 L314.6 72.4 L315.6 78.9 L316.9 83.4 L317.8 85.2 L318.8 84.5 L320.0 87.2 L321.2 91.0 L323.0 92.6" fill="none" stroke="#111" stroke-width="0.9" stroke-linejoin="miter" stroke-miterlimit="2"/><path d="M294.7 27.5V92.6H375.0" fill="none" stroke="#111" stroke-width="1.3"/><text x="290.52" y="104.10" font-size="9.30" textLength="8.09" lengthAdjust="spacingAndGlyphs" stroke="#000" stroke-width="0.35" font-family="Liberation Sans, sans-serif">10</text><text x="299.86" y="100.91" font-size="4.80" stroke="#000" stroke-width="0.35" font-family="Liberation Sans, sans-serif">0</text><text x="310.59" y="104.10" font-size="9.30" textLength="8.09" lengthAdjust="spacingAndGlyphs" stroke="#000" stroke-width="0.35" font-family="Liberation Sans, sans-serif">10</text><text x="319.93" y="100.91" font-size="4.80" stroke="#000" stroke-width="0.35" font-family="Liberation Sans, sans-serif">1</text><path d="M294.7 76.3h-1.8" stroke="#111" stroke-width="0.9"/><text x="330.67" y="104.10" font-size="9.30" textLength="8.09" lengthAdjust="spacingAndGlyphs" stroke="#000" stroke-width="0.35" font-family="Liberation Sans, sans-serif">10</text><text x="340.01" y="100.91" font-size="4.80" stroke="#000" stroke-width="0.35" font-family="Liberation Sans, sans-serif">2</text><path d="M294.7 60.0h-1.8" stroke="#111" stroke-width="0.9"/><text x="350.74" y="104.10" font-size="9.30" textLength="8.09" lengthAdjust="spacingAndGlyphs" stroke="#000" stroke-width="0.35" font-family="Liberation Sans, sans-serif">10</text><text x="360.08" y="100.91" font-size="4.80" stroke="#000" stroke-width="0.35" font-family="Liberation Sans, sans-serif">3</text><path d="M294.7 43.8h-1.8" stroke="#111" stroke-width="0.9"/><text x="370.82" y="104.10" font-size="9.30" textLength="8.09" lengthAdjust="spacingAndGlyphs" stroke="#000" stroke-width="0.35" font-family="Liberation Sans, sans-serif">10</text><text x="380.16" y="100.91" font-size="4.80" stroke="#000" stroke-width="0.35" font-family="Liberation Sans, sans-serif">4</text><g transform="translate(290.1 31.8) rotate(-90)"><text x="0" y="0" font-size="9.4" textLength="9.2" lengthAdjust="spacingAndGlyphs" stroke="#000" stroke-width="0.35" font-family="Liberation Sans, sans-serif">16</text></g><g transform="translate(290.1 92.9) rotate(-90)"><text x="0" y="0" font-size="9.4" text-anchor="middle" stroke="#000" stroke-width="0.35" font-family="Liberation Sans, sans-serif">0</text></g><text x="266.80" y="34.00" font-size="16.5" text-anchor="start" font-weight="normal" font-family="Liberation Sans, sans-serif">i</text><text x="328.30" y="32.60" font-size="17.2" text-anchor="start" font-weight="normal" font-family="Liberation Sans, sans-serif">53%</text><path d="M318.7 45.8V43.3H370.0V45.8" fill="none" stroke="#111" stroke-width="1.3"/><path d="M425.9 65.4 L426.9 67.1 L428.0 67.6 L429.0 66.9 L430.0 65.9 L431.0 66.7 L432.0 67.4 L433.0 67.6 L434.0 68.3 L435.0 67.3 L436.0 66.3 L437.0 66.5 L438.0 67.8 L439.0 67.6 L440.0 69.9 L441.0 69.2 L442.0 69.6 L443.0 69.6 L444.0 73.7 L445.0 75.5 L446.0 78.2 L447.0 80.1 L448.0 81.4 L449.1 86.5 L450.2 91.3 L451.0 93.1 L451.0 93.1 L425.9 93.1Z" fill="#c3c3c3" stroke="none"/><path d="M425.9 64.1 L426.9 65.8 L428.0 66.3 L429.0 65.6 L430.0 64.6 L431.0 65.4 L432.0 66.1 L433.0 66.3 L434.0 67.0 L435.0 66.0 L436.0 65.0 L437.0 65.2 L438.0 66.5 L439.0 66.3 L440.0 68.6 L441.0 67.9 L442.0 68.3 L443.0 68.3 L444.0 72.4 L445.0 74.2 L446.0 76.9 L447.0 78.8 L448.0 80.1 L449.1 85.2 L450.2 90.0 L451.0 93.1" fill="none" stroke="#1a1a1a" stroke-width="1.1" stroke-linejoin="round"/><path d="M425.9 42.8 L427.0 56.3 L427.8 59.4 L428.5 62.8 L429.2 54.3 L430.0 53.0 L430.9 52.4 L431.8 49.7 L433.0 58.5 L434.0 58.1 L435.0 51.4 L436.2 60.2 L436.9 61.7 L437.7 70.9 L438.5 63.2 L439.2 55.6 L440.5 50.0 L441.4 47.3 L442.1 54.4 L442.9 53.3 L443.6 57.7 L444.3 62.8 L445.5 62.1 L446.5 64.7 L447.2 66.3 L448.0 74.2 L448.8 71.9 L449.5 73.8 L450.2 75.9 L451.0 80.9 L451.7 79.5 L452.5 84.3 L453.2 82.6 L454.0 85.0 L454.7 85.0 L455.4 88.7 L456.2 89.6 L456.9 87.2 L457.6 87.1 L458.4 85.9 L459.1 88.5 L459.8 86.8 L460.6 87.2 L461.3 90.0 L462.1 90.5 L462.8 91.4 L463.5 91.7 L464.3 92.0 L465.0 92.2 L465.7 92.5 L466.5 92.8 L467.2 93.1" fill="none" stroke="#111" stroke-width="1.3" stroke-linejoin="miter" stroke-miterlimit="2"/><path d="M425.9 41.0 L427.0 56.4 L428.5 63.2 L430.0 49.9 L430.9 46.5 L431.8 49.4 L433.0 56.8 L434.0 59.5 L435.0 54.2 L436.2 54.5 L437.7 75.1 L438.5 59.9 L439.2 53.0 L440.5 54.9 L441.4 49.1 L442.9 51.6 L444.3 64.3 L445.5 61.9 L446.5 66.5 L448.0 74.8 L449.5 80.0 L450.6 75.4 L451.7 84.3 L452.9 85.0 L454.0 85.7 L455.0 88.0 L455.9 87.2 L456.9 89.0 L457.9 89.0 L458.8 88.0 L459.8 85.8 L460.8 88.5 L461.8 90.2 L462.8 91.4 L463.9 91.8 L465.0 92.2 L466.1 92.7 L467.2 93.1" fill="none" stroke="#111" stroke-width="0.9" stroke-linejoin="miter" stroke-miterlimit="2"/><path d="M425.9 26.5V93.1H508.7" fill="none" stroke="#111" stroke-width="1.3"/><text x="421.72" y="104.60" font-size="9.30" textLength="8.09" lengthAdjust="spacingAndGlyphs" stroke="#000" stroke-width="0.35" font-family="Liberation Sans, sans-serif">10</text><text x="431.06" y="101.41" font-size="4.80" stroke="#000" stroke-width="0.35" font-family="Liberation Sans, sans-serif">0</text><text x="442.42" y="104.60" font-size="9.30" textLength="8.09" lengthAdjust="spacingAndGlyphs" stroke="#000" stroke-width="0.35" font-family="Liberation Sans, sans-serif">10</text><text x="451.76" y="101.41" font-size="4.80" stroke="#000" stroke-width="0.35" font-family="Liberation Sans, sans-serif">1</text><path d="M425.9 76.4h-1.8" stroke="#111" stroke-width="0.9"/><text x="463.12" y="104.60" font-size="9.30" textLength="8.09" lengthAdjust="spacingAndGlyphs" stroke="#000" stroke-width="0.35" font-family="Liberation Sans, sans-serif">10</text><text x="472.46" y="101.41" font-size="4.80" stroke="#000" stroke-width="0.35" font-family="Liberation Sans, sans-serif">2</text><path d="M425.9 59.8h-1.8" stroke="#111" stroke-width="0.9"/><text x="483.82" y="104.60" font-size="9.30" textLength="8.09" lengthAdjust="spacingAndGlyphs" stroke="#000" stroke-width="0.35" font-family="Liberation Sans, sans-serif">10</text><text x="493.16" y="101.41" font-size="4.80" stroke="#000" stroke-width="0.35" font-family="Liberation Sans, sans-serif">3</text><path d="M425.9 43.1h-1.8" stroke="#111" stroke-width="0.9"/><text x="504.52" y="104.60" font-size="9.30" textLength="8.09" lengthAdjust="spacingAndGlyphs" stroke="#000" stroke-width="0.35" font-family="Liberation Sans, sans-serif">10</text><text x="513.86" y="101.41" font-size="4.80" stroke="#000" stroke-width="0.35" font-family="Liberation Sans, sans-serif">4</text><g transform="translate(421.3 30.8) rotate(-90)"><text x="0" y="0" font-size="9.4" textLength="9.2" lengthAdjust="spacingAndGlyphs" stroke="#000" stroke-width="0.35" font-family="Liberation Sans, sans-serif">16</text></g><g transform="translate(421.3 93.4) rotate(-90)"><text x="0" y="0" font-size="9.4" text-anchor="middle" stroke="#000" stroke-width="0.35" font-family="Liberation Sans, sans-serif">0</text></g><text x="398.30" y="33.80" font-size="16.5" text-anchor="start" font-weight="normal" font-family="Liberation Sans, sans-serif">ii</text><text x="458.20" y="42.60" font-size="17.2" text-anchor="start" font-weight="normal" font-family="Liberation Sans, sans-serif">4.4%</text><path d="M452.2 55.7V53.2H503.7V55.7" fill="none" stroke="#111" stroke-width="1.3"/><path d="M297.4 174.6 L298.7 173.7 L300.0 173.7 L301.0 173.4 L302.0 175.7 L303.0 176.0 L304.0 175.4 L305.0 173.5 L306.0 172.8 L307.0 173.4 L308.0 174.2 L309.0 175.8 L310.0 174.7 L311.0 175.2 L312.0 174.0 L313.0 174.3 L314.0 176.1 L315.0 177.0 L316.0 175.3 L317.0 175.2 L318.0 173.3 L319.1 174.5 L320.3 175.4 L321.6 175.2 L322.8 175.2 L323.5 172.0 L324.8 170.2 L326.0 170.6 L327.2 169.5 L328.5 169.8 L330.4 167.6 L332.3 160.9 L333.4 157.8 L334.2 152.5 L335.2 156.7 L336.1 159.0 L338.0 162.7 L339.0 163.8 L340.0 165.0 L341.9 166.7 L343.8 173.5 L345.7 177.5 L347.0 184.2 L348.2 189.3 L349.5 192.2 L349.5 192.2 L297.4 192.2Z" fill="#c3c3c3" stroke="none"/><path d="M297.4 173.3 L298.7 172.4 L300.0 172.4 L301.0 172.1 L302.0 174.4 L303.0 174.7 L304.0 174.1 L305.0 172.2 L306.0 171.5 L307.0 172.1 L308.0 172.9 L309.0 174.5 L310.0 173.4 L311.0 173.9 L312.0 172.7 L313.0 173.0 L314.0 174.8 L315.0 175.7 L316.0 174.0 L317.0 173.9 L318.0 172.0 L319.1 173.2 L320.3 174.1 L321.6 173.9 L322.8 173.9 L323.5 170.7 L324.8 168.9 L326.0 169.3 L327.2 168.2 L328.5 168.5 L330.4 166.3 L332.3 159.6 L333.4 156.5 L334.2 151.2 L335.2 155.4 L336.1 157.7 L338.0 161.4 L339.0 162.5 L340.0 163.7 L341.9 165.4 L343.8 172.2 L345.7 176.2 L347.0 182.9 L348.2 188.0 L349.5 192.2" fill="none" stroke="#1a1a1a" stroke-width="1.1" stroke-linejoin="round"/><path d="M297.4 151.3 L298.0 154.9 L299.0 162.8 L299.8 160.4 L300.6 156.3 L301.9 166.8 L303.0 160.9 L303.8 154.4 L305.0 165.7 L306.3 151.3 L307.6 168.0 L308.5 160.7 L309.5 152.5 L310.5 159.2 L311.4 169.7 L312.4 162.5 L313.3 161.0 L314.2 165.5 L315.2 169.1 L316.5 167.6 L317.4 170.7 L318.4 175.4 L319.4 177.2 L320.3 180.8 L321.2 184.2 L322.2 184.9 L323.1 187.1 L324.1 188.5 L325.1 190.2 L326.0 192.2" fill="none" stroke="#111" stroke-width="1.3" stroke-linejoin="miter" stroke-miterlimit="2"/><path d="M297.4 149.4 L298.0 158.1 L299.0 164.5 L300.6 151.7 L301.9 164.8 L303.0 156.7 L303.8 152.6 L305.0 162.1 L306.3 151.6 L307.6 166.8 L308.5 163.4 L309.5 155.4 L310.5 159.1 L311.4 167.3 L312.4 164.2 L313.3 156.6 L314.2 159.3 L315.2 169.1 L316.5 171.3 L317.4 171.0 L318.4 173.9 L319.4 175.3 L320.3 182.6 L321.2 179.2 L322.2 185.3 L323.1 188.8 L324.1 186.7 L325.1 190.2 L326.0 192.2" fill="none" stroke="#111" stroke-width="0.9" stroke-linejoin="miter" stroke-miterlimit="2"/><path d="M297.4 125.0V192.2H377.5" fill="none" stroke="#111" stroke-width="1.3"/><text x="293.22" y="203.70" font-size="9.30" textLength="8.09" lengthAdjust="spacingAndGlyphs" stroke="#000" stroke-width="0.35" font-family="Liberation Sans, sans-serif">10</text><text x="302.56" y="200.50" font-size="4.80" stroke="#000" stroke-width="0.35" font-family="Liberation Sans, sans-serif">0</text><text x="313.24" y="203.70" font-size="9.30" textLength="8.09" lengthAdjust="spacingAndGlyphs" stroke="#000" stroke-width="0.35" font-family="Liberation Sans, sans-serif">10</text><text x="322.58" y="200.50" font-size="4.80" stroke="#000" stroke-width="0.35" font-family="Liberation Sans, sans-serif">1</text><path d="M297.4 175.4h-1.8" stroke="#111" stroke-width="0.9"/><text x="333.27" y="203.70" font-size="9.30" textLength="8.09" lengthAdjust="spacingAndGlyphs" stroke="#000" stroke-width="0.35" font-family="Liberation Sans, sans-serif">10</text><text x="342.61" y="200.50" font-size="4.80" stroke="#000" stroke-width="0.35" font-family="Liberation Sans, sans-serif">2</text><path d="M297.4 158.6h-1.8" stroke="#111" stroke-width="0.9"/><text x="353.29" y="203.70" font-size="9.30" textLength="8.09" lengthAdjust="spacingAndGlyphs" stroke="#000" stroke-width="0.35" font-family="Liberation Sans, sans-serif">10</text><text x="362.63" y="200.50" font-size="4.80" stroke="#000" stroke-width="0.35" font-family="Liberation Sans, sans-serif">3</text><path d="M297.4 141.8h-1.8" stroke="#111" stroke-width="0.9"/><text x="373.32" y="203.70" font-size="9.30" textLength="8.09" lengthAdjust="spacingAndGlyphs" stroke="#000" stroke-width="0.35" font-family="Liberation Sans, sans-serif">10</text><text x="382.66" y="200.50" font-size="4.80" stroke="#000" stroke-width="0.35" font-family="Liberation Sans, sans-serif">4</text><g transform="translate(292.8 129.3) rotate(-90)"><text x="0" y="0" font-size="9.4" textLength="9.2" lengthAdjust="spacingAndGlyphs" stroke="#000" stroke-width="0.35" font-family="Liberation Sans, sans-serif">16</text></g><g transform="translate(292.8 192.5) rotate(-90)"><text x="0" y="0" font-size="9.4" text-anchor="middle" stroke="#000" stroke-width="0.35" font-family="Liberation Sans, sans-serif">0</text></g><text x="266.30" y="133.80" font-size="16.5" text-anchor="start" font-weight="normal" font-family="Liberation Sans, sans-serif">iii</text><text x="332.00" y="141.30" font-size="17.2" text-anchor="start" font-weight="normal" font-family="Liberation Sans, sans-serif">43%</text><path d="M323.1 154.1V151.6H372.5V154.1" fill="none" stroke="#111" stroke-width="1.3"/><path d="M426.0 174.5 L427.0 176.0 L428.0 174.1 L429.0 175.0 L430.0 175.0 L431.0 174.7 L432.0 173.7 L433.0 173.6 L434.0 174.2 L435.0 175.1 L436.0 174.9 L437.0 175.0 L438.0 175.1 L439.0 175.4 L440.0 176.2 L441.0 175.9 L442.0 176.4 L443.0 177.1 L444.0 177.6 L445.0 177.1 L446.0 178.3 L447.0 180.5 L448.0 181.4 L449.0 182.7 L450.0 181.9 L451.0 182.8 L452.0 183.8 L453.0 183.5 L454.0 181.7 L455.0 183.8 L456.0 184.1 L457.0 182.9 L458.0 183.0 L459.0 179.0 L460.0 184.2 L461.0 183.9 L462.0 185.0 L463.0 184.2 L464.0 184.2 L465.0 186.4 L466.0 186.9 L467.0 186.9 L468.0 186.2 L469.0 187.0 L470.0 187.9 L471.0 189.0 L472.0 189.2 L473.0 190.6 L474.0 191.6 L475.0 191.6 L476.0 191.6 L476.0 191.6 L426.0 191.6Z" fill="#c3c3c3" stroke="none"/><path d="M426.0 173.2 L427.0 174.7 L428.0 172.8 L429.0 173.7 L430.0 173.7 L431.0 173.4 L432.0 172.4 L433.0 172.3 L434.0 172.9 L435.0 173.8 L436.0 173.6 L437.0 173.7 L438.0 173.8 L439.0 174.1 L440.0 174.9 L441.0 174.6 L442.0 175.1 L443.0 175.8 L444.0 176.3 L445.0 175.8 L446.0 177.0 L447.0 179.2 L448.0 180.1 L449.0 181.4 L450.0 180.6 L451.0 181.5 L452.0 182.5 L453.0 182.2 L454.0 180.4 L455.0 182.5 L456.0 182.8 L457.0 181.6 L458.0 181.7 L459.0 177.7 L460.0 182.9 L461.0 182.6 L462.0 183.7 L463.0 182.9 L464.0 182.9 L465.0 185.1 L466.0 185.6 L467.0 185.6 L468.0 184.9 L469.0 185.7 L470.0 186.6 L471.0 187.7 L472.0 187.9 L473.0 189.2 L474.0 190.5 L475.0 191.1 L476.0 191.6" fill="none" stroke="#1a1a1a" stroke-width="1.1" stroke-linejoin="round"/><path d="M426.0 152.9 L426.6 157.5 L427.0 170.4 L428.0 157.9 L429.0 169.2 L430.0 156.2 L431.0 169.6 L432.0 160.5 L433.0 155.2 L434.0 170.9 L435.0 165.6 L436.0 159.6 L437.0 167.9 L438.0 168.4 L439.0 160.3 L440.0 170.7 L441.0 162.3 L442.0 157.1 L443.0 166.0 L444.0 166.4 L445.0 162.5 L446.0 176.0 L447.0 173.3 L448.0 175.9 L449.0 178.8 L450.0 183.8 L451.0 182.1 L452.0 182.2 L453.0 186.1 L454.0 189.0 L455.0 190.3 L456.0 191.6" fill="none" stroke="#111" stroke-width="1.3" stroke-linejoin="miter" stroke-miterlimit="2"/><path d="M426.0 150.0 L426.6 160.4 L427.0 172.2 L428.0 156.7 L429.0 164.7 L430.0 158.4 L431.0 169.9 L432.0 159.0 L433.0 155.3 L434.0 166.8 L435.0 160.7 L436.0 158.9 L437.0 173.8 L438.0 166.3 L439.0 160.9 L440.0 168.9 L441.0 161.5 L442.0 154.5 L443.0 164.6 L444.0 166.6 L445.0 163.5 L446.0 175.9 L447.0 173.9 L448.0 180.9 L449.0 180.1 L450.0 182.8 L451.0 183.9 L452.0 183.1 L453.0 187.9 L454.0 189.0 L455.0 190.3 L456.0 191.6" fill="none" stroke="#111" stroke-width="0.9" stroke-linejoin="miter" stroke-miterlimit="2"/><path d="M426.0 126.3V191.6H507.0" fill="none" stroke="#111" stroke-width="1.3"/><text x="421.82" y="203.10" font-size="9.30" textLength="8.09" lengthAdjust="spacingAndGlyphs" stroke="#000" stroke-width="0.35" font-family="Liberation Sans, sans-serif">10</text><text x="431.16" y="199.90" font-size="4.80" stroke="#000" stroke-width="0.35" font-family="Liberation Sans, sans-serif">0</text><text x="442.07" y="203.10" font-size="9.30" textLength="8.09" lengthAdjust="spacingAndGlyphs" stroke="#000" stroke-width="0.35" font-family="Liberation Sans, sans-serif">10</text><text x="451.41" y="199.90" font-size="4.80" stroke="#000" stroke-width="0.35" font-family="Liberation Sans, sans-serif">1</text><path d="M426.0 175.3h-1.8" stroke="#111" stroke-width="0.9"/><text x="462.32" y="203.10" font-size="9.30" textLength="8.09" lengthAdjust="spacingAndGlyphs" stroke="#000" stroke-width="0.35" font-family="Liberation Sans, sans-serif">10</text><text x="471.66" y="199.90" font-size="4.80" stroke="#000" stroke-width="0.35" font-family="Liberation Sans, sans-serif">2</text><path d="M426.0 158.9h-1.8" stroke="#111" stroke-width="0.9"/><text x="482.57" y="203.10" font-size="9.30" textLength="8.09" lengthAdjust="spacingAndGlyphs" stroke="#000" stroke-width="0.35" font-family="Liberation Sans, sans-serif">10</text><text x="491.91" y="199.90" font-size="4.80" stroke="#000" stroke-width="0.35" font-family="Liberation Sans, sans-serif">3</text><path d="M426.0 142.6h-1.8" stroke="#111" stroke-width="0.9"/><text x="502.82" y="203.10" font-size="9.30" textLength="8.09" lengthAdjust="spacingAndGlyphs" stroke="#000" stroke-width="0.35" font-family="Liberation Sans, sans-serif">10</text><text x="512.16" y="199.90" font-size="4.80" stroke="#000" stroke-width="0.35" font-family="Liberation Sans, sans-serif">4</text><g transform="translate(421.4 130.6) rotate(-90)"><text x="0" y="0" font-size="9.4" textLength="9.2" lengthAdjust="spacingAndGlyphs" stroke="#000" stroke-width="0.35" font-family="Liberation Sans, sans-serif">16</text></g><g transform="translate(421.4 191.9) rotate(-90)"><text x="0" y="0" font-size="9.4" text-anchor="middle" stroke="#000" stroke-width="0.35" font-family="Liberation Sans, sans-serif">0</text></g><text x="393.80" y="135.00" font-size="16.5" text-anchor="start" font-weight="normal" font-family="Liberation Sans, sans-serif">iv</text><text x="462.80" y="143.80" font-size="17.2" text-anchor="start" font-weight="normal" font-family="Liberation Sans, sans-serif">12%</text><path d="M451.2 156.7V154.2H501.0V156.7" fill="none" stroke="#111" stroke-width="1.3"/><path d="M328.4 334.8 L329.4 334.4 L330.4 332.3 L331.7 330.1 L333.0 328.1 L334.0 327.7 L335.0 328.7 L336.1 325.7 L337.1 323.6 L338.1 321.1 L339.1 318.7 L341.0 320.1 L342.8 315.4 L343.8 320.9 L345.2 323.0 L346.5 327.5 L347.9 332.2 L349.2 334.8 L349.2 334.8 L328.4 334.8Z" fill="#c3c3c3" stroke="none"/><path d="M328.4 334.8 L329.4 333.1 L330.4 331.0 L331.7 328.8 L333.0 326.8 L334.0 326.4 L335.0 327.4 L336.1 324.4 L337.1 322.3 L338.1 319.8 L339.1 317.4 L341.0 318.8 L342.8 314.1 L343.8 319.6 L345.2 321.7 L346.5 326.2 L347.9 330.9 L349.2 334.8" fill="none" stroke="#1a1a1a" stroke-width="1.1" stroke-linejoin="round"/><path d="M295.0 323.7 L295.9 326.6 L296.7 325.0 L298.0 331.4 L299.0 329.9 L300.0 329.6 L301.4 330.8 L302.1 329.6 L302.8 328.0 L303.5 327.4 L304.5 324.2 L305.5 325.6 L306.5 322.2 L307.5 322.8 L308.5 323.6 L309.5 322.5 L310.9 318.2 L311.9 319.8 L312.9 318.9 L313.9 319.9 L314.9 315.6 L316.2 309.4 L316.9 317.1 L317.6 318.9 L318.9 324.1 L319.6 325.3 L320.3 324.7 L321.3 324.3 L322.3 325.6 L323.3 327.7 L324.3 330.7 L325.3 331.4 L326.3 332.7 L327.4 333.8 L328.4 334.8" fill="none" stroke="#111" stroke-width="1.3" stroke-linejoin="miter" stroke-miterlimit="2"/><path d="M295.0 326.2 L296.7 325.4 L298.0 331.3 L299.0 329.5 L300.0 326.2 L301.4 331.1 L302.4 328.5 L303.5 327.2 L304.5 327.4 L305.5 326.0 L306.5 321.3 L307.5 322.2 L308.5 321.6 L309.5 323.5 L310.9 321.6 L311.9 319.2 L312.9 319.6 L313.9 318.8 L314.9 319.6 L316.2 310.7 L317.6 320.9 L318.9 320.3 L320.3 325.2 L321.3 327.4 L322.3 326.7 L323.3 327.5 L324.3 328.8 L325.3 330.6 L326.3 332.7 L327.4 333.8 L328.4 334.8" fill="none" stroke="#111" stroke-width="0.9" stroke-linejoin="miter" stroke-miterlimit="2"/><path d="M295.0 273.8V334.8H377.5" fill="none" stroke="#111" stroke-width="1.3"/><text x="290.42" y="347.10" font-size="11.20" textLength="9.44" lengthAdjust="spacingAndGlyphs" stroke="#000" stroke-width="0.35" font-family="Liberation Sans, sans-serif">10</text><text x="301.63" y="342.98" font-size="5.40" stroke="#000" stroke-width="0.35" font-family="Liberation Sans, sans-serif">0</text><text x="311.05" y="347.10" font-size="11.20" textLength="9.44" lengthAdjust="spacingAndGlyphs" stroke="#000" stroke-width="0.35" font-family="Liberation Sans, sans-serif">10</text><text x="322.25" y="342.98" font-size="5.40" stroke="#000" stroke-width="0.35" font-family="Liberation Sans, sans-serif">1</text><path d="M295.0 319.6h-1.8" stroke="#111" stroke-width="0.9"/><text x="331.67" y="347.10" font-size="11.20" textLength="9.44" lengthAdjust="spacingAndGlyphs" stroke="#000" stroke-width="0.35" font-family="Liberation Sans, sans-serif">10</text><text x="342.88" y="342.98" font-size="5.40" stroke="#000" stroke-width="0.35" font-family="Liberation Sans, sans-serif">2</text><path d="M295.0 304.3h-1.8" stroke="#111" stroke-width="0.9"/><text x="352.30" y="347.10" font-size="11.20" textLength="9.44" lengthAdjust="spacingAndGlyphs" stroke="#000" stroke-width="0.35" font-family="Liberation Sans, sans-serif">10</text><text x="363.50" y="342.98" font-size="5.40" stroke="#000" stroke-width="0.35" font-family="Liberation Sans, sans-serif">3</text><path d="M295.0 289.1h-1.8" stroke="#111" stroke-width="0.9"/><text x="372.92" y="347.10" font-size="11.20" textLength="9.44" lengthAdjust="spacingAndGlyphs" stroke="#000" stroke-width="0.35" font-family="Liberation Sans, sans-serif">10</text><text x="384.13" y="342.98" font-size="5.40" stroke="#000" stroke-width="0.35" font-family="Liberation Sans, sans-serif">4</text><g transform="translate(290.2 278.8) rotate(-90)"><text x="0" y="0" font-size="10.0" textLength="9.8" lengthAdjust="spacingAndGlyphs" stroke="#000" stroke-width="0.35" font-family="Liberation Sans, sans-serif">16</text></g><g transform="translate(290.2 335.1) rotate(-90)"><text x="0" y="0" font-size="10.0" text-anchor="middle" stroke="#000" stroke-width="0.35" font-family="Liberation Sans, sans-serif">0</text></g><text x="266.80" y="281.00" font-size="16.5" text-anchor="start" font-weight="normal" font-family="Liberation Sans, sans-serif">i</text><text x="335.60" y="291.00" font-size="17.2" text-anchor="start" font-weight="normal" font-family="Liberation Sans, sans-serif">91%</text><path d="M329.2 303.7V301.2H377.5V303.7" fill="none" stroke="#111" stroke-width="1.3"/><path d="M427.0 332.3 L428.0 331.3 L429.0 330.1 L430.0 329.4 L431.0 328.6 L432.0 327.0 L433.0 326.6 L434.0 324.9 L435.0 324.2 L436.0 323.7 L437.0 322.5 L438.0 322.2 L439.0 321.0 L440.0 321.2 L441.1 320.3 L442.1 319.5 L443.2 319.2 L444.3 319.1 L445.5 319.8 L446.8 320.0 L448.0 320.8 L449.0 320.6 L450.0 321.7 L451.0 322.1 L452.0 323.6 L453.0 324.8 L454.0 326.3 L455.0 326.6 L456.0 328.6 L457.0 329.5 L458.0 331.0 L459.0 332.3 L460.0 332.3 L460.0 332.3 L427.0 332.3Z" fill="#c3c3c3" stroke="none"/><path d="M427.0 332.3 L428.0 330.0 L429.0 328.8 L430.0 328.1 L431.0 327.3 L432.0 325.7 L433.0 325.3 L434.0 323.6 L435.0 322.9 L436.0 322.4 L437.0 321.2 L438.0 320.9 L439.0 319.7 L440.0 319.9 L441.1 319.0 L442.1 318.2 L443.2 317.9 L444.3 317.8 L445.5 318.5 L446.8 318.7 L448.0 319.5 L449.0 319.3 L450.0 320.4 L451.0 320.8 L452.0 322.3 L453.0 323.5 L454.0 325.0 L455.0 325.3 L456.0 327.3 L457.0 328.2 L458.0 329.7 L459.0 331.0 L460.0 332.3" fill="none" stroke="#1a1a1a" stroke-width="1.1" stroke-linejoin="round"/><path d="M425.8 325.4 L426.6 325.4 L427.4 327.6 L428.1 326.0 L428.8 324.7 L429.5 324.2 L430.2 324.4 L430.9 323.5 L431.6 321.3 L432.3 323.5 L433.1 320.2 L433.8 319.7 L434.9 318.8 L435.9 318.5 L436.6 318.8 L437.3 316.6 L438.0 316.1 L438.7 316.4 L439.4 317.0 L440.1 313.7 L441.1 315.6 L442.2 312.7 L443.0 313.7 L443.8 310.5 L444.7 312.9 L445.6 313.4 L446.5 313.5 L447.2 310.9 L448.0 310.2 L449.1 315.5 L449.9 313.9 L450.7 316.2 L451.5 316.3 L452.3 316.8 L453.1 317.5 L453.9 317.8 L454.6 318.7 L455.4 319.2 L456.2 321.8 L457.0 323.0 L457.7 326.0 L458.5 325.3 L459.2 327.1 L459.9 329.1 L460.6 330.3 L461.3 331.5 L462.0 332.3" fill="none" stroke="#111" stroke-width="1.3" stroke-linejoin="miter" stroke-miterlimit="2"/><path d="M425.8 326.4 L427.4 326.7 L428.4 326.6 L429.5 323.7 L430.6 324.4 L431.6 321.3 L432.7 321.7 L433.8 319.7 L434.9 318.3 L435.9 317.5 L436.9 317.3 L438.0 316.2 L439.1 316.4 L440.1 315.2 L441.1 313.3 L442.2 314.0 L443.8 311.0 L445.1 312.5 L446.5 311.6 L448.0 307.7 L449.1 313.6 L450.7 317.7 L452.3 317.6 L453.9 318.1 L455.4 320.7 L457.0 323.6 L458.1 324.8 L459.2 328.2 L460.2 329.6 L461.3 331.5 L462.0 332.3" fill="none" stroke="#111" stroke-width="0.9" stroke-linejoin="miter" stroke-miterlimit="2"/><path d="M425.1 271.3V332.3H508.0" fill="none" stroke="#111" stroke-width="1.3"/><text x="420.52" y="344.60" font-size="11.20" textLength="9.44" lengthAdjust="spacingAndGlyphs" stroke="#000" stroke-width="0.35" font-family="Liberation Sans, sans-serif">10</text><text x="431.73" y="340.48" font-size="5.40" stroke="#000" stroke-width="0.35" font-family="Liberation Sans, sans-serif">0</text><text x="441.25" y="344.60" font-size="11.20" textLength="9.44" lengthAdjust="spacingAndGlyphs" stroke="#000" stroke-width="0.35" font-family="Liberation Sans, sans-serif">10</text><text x="452.46" y="340.48" font-size="5.40" stroke="#000" stroke-width="0.35" font-family="Liberation Sans, sans-serif">1</text><path d="M425.1 317.1h-1.8" stroke="#111" stroke-width="0.9"/><text x="461.97" y="344.60" font-size="11.20" textLength="9.44" lengthAdjust="spacingAndGlyphs" stroke="#000" stroke-width="0.35" font-family="Liberation Sans, sans-serif">10</text><text x="473.18" y="340.48" font-size="5.40" stroke="#000" stroke-width="0.35" font-family="Liberation Sans, sans-serif">2</text><path d="M425.1 301.8h-1.8" stroke="#111" stroke-width="0.9"/><text x="482.70" y="344.60" font-size="11.20" textLength="9.44" lengthAdjust="spacingAndGlyphs" stroke="#000" stroke-width="0.35" font-family="Liberation Sans, sans-serif">10</text><text x="493.90" y="340.48" font-size="5.40" stroke="#000" stroke-width="0.35" font-family="Liberation Sans, sans-serif">3</text><path d="M425.1 286.6h-1.8" stroke="#111" stroke-width="0.9"/><text x="503.42" y="344.60" font-size="11.20" textLength="9.44" lengthAdjust="spacingAndGlyphs" stroke="#000" stroke-width="0.35" font-family="Liberation Sans, sans-serif">10</text><text x="514.63" y="340.48" font-size="5.40" stroke="#000" stroke-width="0.35" font-family="Liberation Sans, sans-serif">4</text><g transform="translate(420.3 276.3) rotate(-90)"><text x="0" y="0" font-size="10.0" textLength="9.8" lengthAdjust="spacingAndGlyphs" stroke="#000" stroke-width="0.35" font-family="Liberation Sans, sans-serif">64</text></g><g transform="translate(420.3 332.6) rotate(-90)"><text x="0" y="0" font-size="10.0" text-anchor="middle" stroke="#000" stroke-width="0.35" font-family="Liberation Sans, sans-serif">0</text></g><text x="394.30" y="281.00" font-size="16.5" text-anchor="start" font-weight="normal" font-family="Liberation Sans, sans-serif">ii</text><text x="469.00" y="291.00" font-size="17.2" text-anchor="start" font-weight="normal" textLength="37.9" lengthAdjust="spacingAndGlyphs" font-family="Liberation Sans, sans-serif">0.9%</text><path d="M459.3 305.1V302.6H507.5V305.1" fill="none" stroke="#111" stroke-width="1.3"/><path d="M296.0 438.3 L297.0 437.8 L298.0 437.4 L299.0 437.1 L300.0 435.9 L301.0 436.0 L302.0 435.2 L303.0 433.5 L304.0 433.8 L305.0 433.4 L306.0 432.1 L307.0 432.9 L308.0 431.6 L309.0 431.5 L310.0 431.5 L311.0 431.4 L312.0 431.2 L313.2 430.1 L314.4 430.2 L315.6 429.3 L316.7 429.8 L317.9 430.5 L319.0 430.1 L320.0 430.7 L321.0 431.6 L322.0 430.8 L323.0 431.5 L324.0 431.2 L325.0 432.7 L326.0 432.2 L327.0 432.8 L328.0 434.1 L329.0 434.5 L330.0 435.4 L331.0 436.2 L332.0 437.0 L333.0 437.8 L334.0 439.2 L335.0 439.4 L335.0 439.4 L296.0 439.4Z" fill="#c3c3c3" stroke="none"/><path d="M296.0 437.0 L297.0 436.5 L298.0 436.1 L299.0 435.8 L300.0 434.6 L301.0 434.7 L302.0 433.9 L303.0 432.2 L304.0 432.5 L305.0 432.1 L306.0 430.8 L307.0 431.6 L308.0 430.3 L309.0 430.2 L310.0 430.2 L311.0 430.1 L312.0 429.9 L313.2 428.8 L314.4 428.9 L315.6 428.0 L316.7 428.5 L317.9 429.2 L319.0 428.8 L320.0 429.4 L321.0 430.3 L322.0 429.5 L323.0 430.2 L324.0 429.9 L325.0 431.4 L326.0 430.9 L327.0 431.5 L328.0 432.8 L329.0 433.2 L330.0 434.1 L331.0 434.9 L332.0 435.7 L333.0 436.5 L334.0 437.9 L335.0 439.4" fill="none" stroke="#1a1a1a" stroke-width="1.1" stroke-linejoin="round"/><path d="M296.0 435.5 L297.0 434.1 L298.0 436.2 L298.7 436.5 L299.4 434.0 L300.1 435.3 L300.8 433.3 L301.7 431.2 L302.6 430.9 L303.5 432.1 L304.5 426.8 L305.5 428.2 L306.5 427.0 L307.5 426.6 L308.5 426.5 L309.5 424.5 L310.5 423.3 L311.5 424.1 L312.9 423.0 L314.2 422.2 L315.2 425.7 L316.2 422.5 L316.9 424.3 L317.6 423.1 L319.0 423.4 L320.0 420.0 L321.0 422.4 L322.0 424.8 L323.0 424.5 L324.0 420.8 L325.0 424.4 L326.0 425.4 L327.0 427.5 L328.0 430.1 L329.0 432.1 L330.4 430.0 L331.4 429.0 L332.4 430.8 L333.4 431.6 L334.4 433.9 L335.4 433.9 L336.4 435.3 L337.1 434.5 L337.8 435.2 L338.5 436.7 L339.4 435.3 L340.2 435.1 L341.1 433.0 L342.1 431.1 L343.2 433.6 L344.2 434.6 L345.2 436.6 L346.1 437.3 L347.0 437.9 L347.9 438.6 L349.0 439.4" fill="none" stroke="#111" stroke-width="1.3" stroke-linejoin="miter" stroke-miterlimit="2"/><path d="M296.0 433.9 L297.0 435.2 L298.0 435.7 L298.9 435.5 L299.9 435.9 L300.8 435.0 L302.1 430.5 L303.5 428.9 L304.5 428.6 L305.5 426.5 L306.5 430.7 L307.5 430.0 L308.5 426.7 L309.5 424.3 L310.5 421.9 L311.5 422.4 L312.9 423.0 L314.2 421.8 L315.2 422.5 L316.2 420.9 L317.6 421.9 L319.0 421.7 L320.0 418.9 L321.0 420.9 L322.0 420.6 L323.0 424.7 L324.0 425.6 L325.0 423.0 L326.0 426.3 L327.0 427.0 L328.0 424.6 L329.0 427.7 L330.4 429.6 L331.4 429.5 L332.4 427.6 L333.4 433.5 L334.4 433.4 L335.4 433.0 L336.4 434.1 L337.4 433.5 L338.5 435.5 L339.8 432.0 L341.1 432.8 L342.1 435.1 L343.2 432.7 L344.2 434.5 L345.2 436.6 L346.5 437.6 L347.9 438.6 L349.0 439.4" fill="none" stroke="#111" stroke-width="0.9" stroke-linejoin="miter" stroke-miterlimit="2"/><path d="M295.0 378.8V439.4H379.5" fill="none" stroke="#111" stroke-width="1.3"/><text x="290.42" y="451.70" font-size="11.20" textLength="9.44" lengthAdjust="spacingAndGlyphs" stroke="#000" stroke-width="0.35" font-family="Liberation Sans, sans-serif">10</text><text x="301.63" y="447.58" font-size="5.40" stroke="#000" stroke-width="0.35" font-family="Liberation Sans, sans-serif">0</text><text x="311.55" y="451.70" font-size="11.20" textLength="9.44" lengthAdjust="spacingAndGlyphs" stroke="#000" stroke-width="0.35" font-family="Liberation Sans, sans-serif">10</text><text x="322.75" y="447.58" font-size="5.40" stroke="#000" stroke-width="0.35" font-family="Liberation Sans, sans-serif">1</text><path d="M295.0 424.2h-1.8" stroke="#111" stroke-width="0.9"/><text x="332.67" y="451.70" font-size="11.20" textLength="9.44" lengthAdjust="spacingAndGlyphs" stroke="#000" stroke-width="0.35" font-family="Liberation Sans, sans-serif">10</text><text x="343.88" y="447.58" font-size="5.40" stroke="#000" stroke-width="0.35" font-family="Liberation Sans, sans-serif">2</text><path d="M295.0 409.1h-1.8" stroke="#111" stroke-width="0.9"/><text x="353.80" y="451.70" font-size="11.20" textLength="9.44" lengthAdjust="spacingAndGlyphs" stroke="#000" stroke-width="0.35" font-family="Liberation Sans, sans-serif">10</text><text x="365.00" y="447.58" font-size="5.40" stroke="#000" stroke-width="0.35" font-family="Liberation Sans, sans-serif">3</text><path d="M295.0 393.9h-1.8" stroke="#111" stroke-width="0.9"/><text x="374.92" y="451.70" font-size="11.20" textLength="9.44" lengthAdjust="spacingAndGlyphs" stroke="#000" stroke-width="0.35" font-family="Liberation Sans, sans-serif">10</text><text x="386.13" y="447.58" font-size="5.40" stroke="#000" stroke-width="0.35" font-family="Liberation Sans, sans-serif">4</text><g transform="translate(290.2 383.8) rotate(-90)"><text x="0" y="0" font-size="10.0" textLength="9.8" lengthAdjust="spacingAndGlyphs" stroke="#000" stroke-width="0.35" font-family="Liberation Sans, sans-serif">16</text></g><g transform="translate(290.2 439.7) rotate(-90)"><text x="0" y="0" font-size="10.0" text-anchor="middle" stroke="#000" stroke-width="0.35" font-family="Liberation Sans, sans-serif">0</text></g><text x="263.80" y="389.00" font-size="16.5" text-anchor="start" font-weight="normal" font-family="Liberation Sans, sans-serif">iii</text><text x="337.60" y="401.00" font-size="17.2" text-anchor="start" font-weight="normal" font-family="Liberation Sans, sans-serif">20%</text><path d="M330.0 414.5V412.0H378.8V414.5" fill="none" stroke="#111" stroke-width="1.3"/><path d="M425.5 437.3 L426.8 435.0 L428.0 432.9 L429.0 432.2 L430.0 430.9 L431.0 430.7 L432.0 428.8 L433.0 428.3 L434.0 427.1 L435.0 426.7 L436.0 425.0 L437.0 423.9 L438.0 422.6 L439.0 421.3 L440.0 419.8 L441.0 419.2 L442.0 417.9 L443.0 417.4 L444.4 416.4 L445.9 416.2 L446.9 417.3 L448.0 418.7 L449.0 419.1 L450.0 420.3 L451.0 422.1 L452.0 422.8 L453.0 425.2 L454.0 426.4 L455.0 428.6 L456.0 431.6 L457.0 435.0 L458.0 438.3 L459.0 439.0 L459.0 439.0 L425.5 439.0Z" fill="#c3c3c3" stroke="none"/><path d="M425.5 436.0 L426.8 433.7 L428.0 431.6 L429.0 430.9 L430.0 429.6 L431.0 429.4 L432.0 427.5 L433.0 427.0 L434.0 425.8 L435.0 425.4 L436.0 423.7 L437.0 422.6 L438.0 421.3 L439.0 420.0 L440.0 418.5 L441.0 417.9 L442.0 416.6 L443.0 416.1 L444.4 415.1 L445.9 414.9 L446.9 416.0 L448.0 417.4 L449.0 417.8 L450.0 419.0 L451.0 420.8 L452.0 421.5 L453.0 423.9 L454.0 425.1 L455.0 427.3 L456.0 430.3 L457.0 433.7 L458.0 437.0 L459.0 439.0" fill="none" stroke="#1a1a1a" stroke-width="1.1" stroke-linejoin="round"/><path d="M425.8 429.9 L426.6 430.8 L427.4 430.4 L428.1 430.9 L428.8 428.9 L429.5 427.5 L430.3 424.7 L431.1 424.1 L431.9 424.5 L432.7 424.9 L433.4 421.9 L434.1 421.6 L434.8 421.9 L435.9 419.0 L436.9 416.8 L437.6 416.9 L438.3 414.7 L439.0 414.6 L439.7 414.6 L440.5 412.2 L441.2 410.5 L442.0 410.6 L442.8 407.3 L443.6 406.5 L444.3 404.8 L445.1 407.8 L445.9 408.8 L447.0 410.2 L447.8 413.1 L448.6 412.9 L449.6 413.9 L450.7 416.3 L451.4 415.7 L452.1 418.4 L452.8 418.4 L453.6 418.7 L454.4 420.3 L455.4 425.6 L456.2 426.8 L457.0 427.3 L457.8 432.1 L458.6 432.9 L459.4 434.9 L460.2 437.3 L461.0 438.1 L461.8 439.0" fill="none" stroke="#111" stroke-width="1.3" stroke-linejoin="miter" stroke-miterlimit="2"/><path d="M425.8 430.2 L427.4 431.9 L428.4 428.1 L429.5 427.9 L431.1 424.2 L432.7 426.1 L433.8 422.9 L434.8 419.9 L435.9 419.8 L436.9 416.0 L437.9 416.3 L439.0 413.9 L440.1 413.9 L441.2 411.1 L442.8 408.1 L444.3 404.9 L445.9 409.5 L447.0 411.8 L448.6 411.3 L449.6 412.5 L450.7 413.7 L451.8 415.7 L452.8 418.5 L454.4 419.1 L455.4 425.5 L457.0 428.7 L458.6 432.5 L460.2 437.3 L461.8 439.0" fill="none" stroke="#111" stroke-width="0.9" stroke-linejoin="miter" stroke-miterlimit="2"/><path d="M424.8 383.8V439.0H505.0" fill="none" stroke="#111" stroke-width="1.3"/><text x="420.22" y="451.30" font-size="11.20" textLength="9.44" lengthAdjust="spacingAndGlyphs" stroke="#000" stroke-width="0.35" font-family="Liberation Sans, sans-serif">10</text><text x="431.43" y="447.18" font-size="5.40" stroke="#000" stroke-width="0.35" font-family="Liberation Sans, sans-serif">0</text><text x="440.27" y="451.30" font-size="11.20" textLength="9.44" lengthAdjust="spacingAndGlyphs" stroke="#000" stroke-width="0.35" font-family="Liberation Sans, sans-serif">10</text><text x="451.48" y="447.18" font-size="5.40" stroke="#000" stroke-width="0.35" font-family="Liberation Sans, sans-serif">1</text><path d="M424.8 425.2h-1.8" stroke="#111" stroke-width="0.9"/><text x="460.32" y="451.30" font-size="11.20" textLength="9.44" lengthAdjust="spacingAndGlyphs" stroke="#000" stroke-width="0.35" font-family="Liberation Sans, sans-serif">10</text><text x="471.53" y="447.18" font-size="5.40" stroke="#000" stroke-width="0.35" font-family="Liberation Sans, sans-serif">2</text><path d="M424.8 411.4h-1.8" stroke="#111" stroke-width="0.9"/><text x="480.37" y="451.30" font-size="11.20" textLength="9.44" lengthAdjust="spacingAndGlyphs" stroke="#000" stroke-width="0.35" font-family="Liberation Sans, sans-serif">10</text><text x="491.58" y="447.18" font-size="5.40" stroke="#000" stroke-width="0.35" font-family="Liberation Sans, sans-serif">3</text><path d="M424.8 397.6h-1.8" stroke="#111" stroke-width="0.9"/><text x="500.42" y="451.30" font-size="11.20" textLength="9.44" lengthAdjust="spacingAndGlyphs" stroke="#000" stroke-width="0.35" font-family="Liberation Sans, sans-serif">10</text><text x="511.63" y="447.18" font-size="5.40" stroke="#000" stroke-width="0.35" font-family="Liberation Sans, sans-serif">4</text><g transform="translate(420.0 388.8) rotate(-90)"><text x="0" y="0" font-size="10.0" textLength="9.8" lengthAdjust="spacingAndGlyphs" stroke="#000" stroke-width="0.35" font-family="Liberation Sans, sans-serif">64</text></g><g transform="translate(420.0 439.3) rotate(-90)"><text x="0" y="0" font-size="10.0" text-anchor="middle" stroke="#000" stroke-width="0.35" font-family="Liberation Sans, sans-serif">0</text></g><text x="393.00" y="389.00" font-size="16.5" text-anchor="start" font-weight="normal" font-family="Liberation Sans, sans-serif">iv</text><text x="467.00" y="401.00" font-size="17.2" text-anchor="start" font-weight="normal" font-family="Liberation Sans, sans-serif">3.0%</text><path d="M457.6 415.0V412.5H504.5V415.0" fill="none" stroke="#111" stroke-width="1.3"/></svg></body></html>
